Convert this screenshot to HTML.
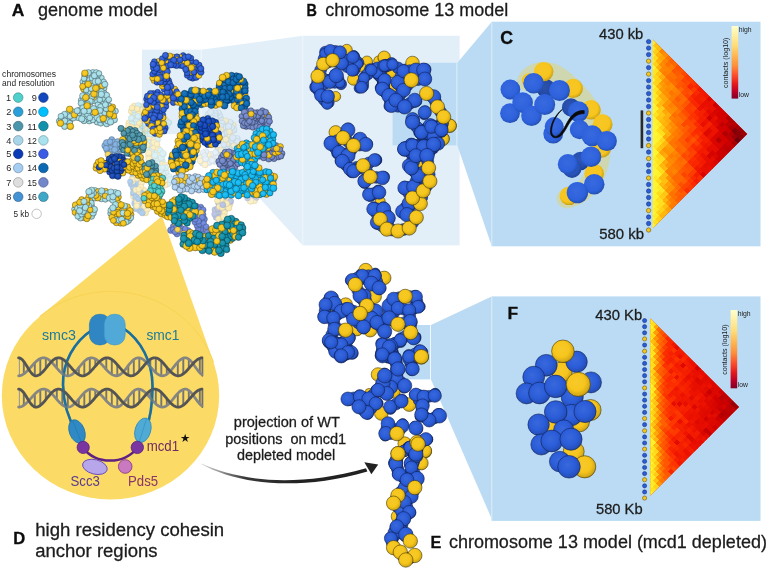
<!DOCTYPE html>
<html lang="en"><head><meta charset="utf-8"><title>Figure</title>
<style>html,body{margin:0;padding:0;background:#fff}svg{display:block;will-change:transform}text{font-family:"Liberation Sans",sans-serif;fill:#262626}#labels text{fill:#1c1c1c;stroke:#1c1c1c;stroke-width:.28px}#labels .b{font-weight:bold;fill:#0c0c0c;stroke:#0c0c0c;stroke-width:.3px}.s0{fill:url(#g0);stroke:#7FA9B3;stroke-width:0.45}.s1{fill:url(#g1);stroke:#B59B3A;stroke-width:0.45}.s2{fill:url(#g2);stroke:#C9B36B;stroke-width:0.45}.s3{fill:url(#g3);stroke:#9DB4C6;stroke-width:0.45}.s4{fill:url(#g4);stroke:#4D6E93;stroke-width:0.45}.s5{fill:url(#g5);stroke:#53618F;stroke-width:0.45}.s6{fill:url(#g6);stroke:#534308;stroke-width:0.45}.s7{fill:url(#g0);stroke:#384B4F;stroke-width:0.45}.s8{fill:url(#g4);stroke:#193048;stroke-width:0.45}.s9{fill:url(#g7);stroke:#07183D;stroke-width:0.45}.s10{fill:url(#g8);stroke:#193239;stroke-width:0.45}.s11{fill:url(#g9);stroke:#1A4645;stroke-width:0.45}.s12{fill:url(#g10);stroke:#0E1F49;stroke-width:0.45}.s13{fill:url(#g11);stroke:#03233D;stroke-width:0.45}.s14{fill:url(#g12);stroke:#061840;stroke-width:0.45}.s15{fill:url(#g13);stroke:#384552;stroke-width:0.45}.s16{fill:url(#g5);stroke:#262E44;stroke-width:0.45}.s17{fill:url(#g14);stroke:#063E52;stroke-width:0.45}.s18{fill:url(#g15);stroke:#17234A;stroke-width:0.45}.s19{fill:url(#g16);stroke:#06313A;stroke-width:0.45}.s20{fill:url(#g17);stroke:#0E1B4D;stroke-width:0.55}.s21{fill:url(#g18);stroke:#3D2F00;stroke-width:0.55}.s22{fill:url(#g19);stroke:#0E1B4D;stroke-width:0.55}.s23{fill:url(#g20);stroke:#0E1B4D;stroke-width:0.55}.s24{fill:url(#g21);stroke:#0E1B4D;stroke-width:0.55}.s25{fill:url(#g22)}.s26{fill:url(#g23)}.s27{fill:url(#g24)}.s28{fill:url(#g25)}.s29{fill:url(#g26)}.s30{fill:url(#g27)}.s31{fill:url(#g28);stroke:#3D2F00;stroke-width:0.55}</style></head>
<body>
<svg width="768" height="570" viewBox="0 0 768 570">
<defs>
<radialGradient id="g0" cx="0.42" cy="0.4" r="0.62" fx="0.42" fy="0.4"><stop offset="0" stop-color="#AEE2EC"/><stop offset="0.6" stop-color="#A6DFEA"/><stop offset="1" stop-color="#8EBFC9"/></radialGradient>
<radialGradient id="g1" cx="0.42" cy="0.4" r="0.62" fx="0.42" fy="0.4"><stop offset="0" stop-color="#F9DF7E"/><stop offset="0.6" stop-color="#F9DC70"/><stop offset="1" stop-color="#D6BD60"/></radialGradient>
<radialGradient id="g2" cx="0.42" cy="0.4" r="0.62" fx="0.42" fy="0.4"><stop offset="0" stop-color="#FBEBAE"/><stop offset="0.6" stop-color="#FBE9A6"/><stop offset="1" stop-color="#D7C88E"/></radialGradient>
<radialGradient id="g3" cx="0.42" cy="0.4" r="0.62" fx="0.42" fy="0.4"><stop offset="0" stop-color="#D3E5F3"/><stop offset="0.6" stop-color="#CFE3F2"/><stop offset="1" stop-color="#B2C3D0"/></radialGradient>
<radialGradient id="g4" cx="0.42" cy="0.4" r="0.62" fx="0.42" fy="0.4"><stop offset="0" stop-color="#5C9ADA"/><stop offset="0.6" stop-color="#4A8FD6"/><stop offset="1" stop-color="#3F7AB8"/></radialGradient>
<radialGradient id="g5" cx="0.42" cy="0.4" r="0.62" fx="0.42" fy="0.4"><stop offset="0" stop-color="#8093CF"/><stop offset="0.6" stop-color="#7288CA"/><stop offset="1" stop-color="#6274AD"/></radialGradient>
<radialGradient id="g6" cx="0.42" cy="0.4" r="0.62" fx="0.42" fy="0.4"><stop offset="0" stop-color="#F6CB30"/><stop offset="0.6" stop-color="#F6C61A"/><stop offset="1" stop-color="#D3AA16"/></radialGradient>
<radialGradient id="g7" cx="0.42" cy="0.4" r="0.62" fx="0.42" fy="0.4"><stop offset="0" stop-color="#2D5ABB"/><stop offset="0.6" stop-color="#1648B4"/><stop offset="1" stop-color="#123D9A"/></radialGradient>
<radialGradient id="g8" cx="0.42" cy="0.4" r="0.62" fx="0.42" fy="0.4"><stop offset="0" stop-color="#5DA0B2"/><stop offset="0.6" stop-color="#4B96AA"/><stop offset="1" stop-color="#408192"/></radialGradient>
<radialGradient id="g9" cx="0.42" cy="0.4" r="0.62" fx="0.42" fy="0.4"><stop offset="0" stop-color="#60D4D0"/><stop offset="0.6" stop-color="#4FD0CB"/><stop offset="1" stop-color="#43B2AE"/></radialGradient>
<radialGradient id="g10" cx="0.42" cy="0.4" r="0.62" fx="0.42" fy="0.4"><stop offset="0" stop-color="#406DDC"/><stop offset="0.6" stop-color="#2B5DD9"/><stop offset="1" stop-color="#244FBA"/></radialGradient>
<radialGradient id="g11" cx="0.42" cy="0.4" r="0.62" fx="0.42" fy="0.4"><stop offset="0" stop-color="#2378BB"/><stop offset="0.6" stop-color="#0B69B4"/><stop offset="1" stop-color="#095A9A"/></radialGradient>
<radialGradient id="g12" cx="0.42" cy="0.4" r="0.62" fx="0.42" fy="0.4"><stop offset="0" stop-color="#2959C3"/><stop offset="0.6" stop-color="#1247BD"/><stop offset="1" stop-color="#0F3DA2"/></radialGradient>
<radialGradient id="g13" cx="0.42" cy="0.4" r="0.62" fx="0.42" fy="0.4"><stop offset="0" stop-color="#AED2F3"/><stop offset="0.6" stop-color="#A5CDF2"/><stop offset="1" stop-color="#8DB0D0"/></radialGradient>
<radialGradient id="g14" cx="0.42" cy="0.4" r="0.62" fx="0.42" fy="0.4"><stop offset="0" stop-color="#29C0F3"/><stop offset="0.6" stop-color="#12B9F2"/><stop offset="1" stop-color="#0F9FD0"/></radialGradient>
<radialGradient id="g15" cx="0.42" cy="0.4" r="0.62" fx="0.42" fy="0.4"><stop offset="0" stop-color="#5877DD"/><stop offset="0.6" stop-color="#4668DA"/><stop offset="1" stop-color="#3C59BB"/></radialGradient>
<radialGradient id="g16" cx="0.42" cy="0.4" r="0.62" fx="0.42" fy="0.4"><stop offset="0" stop-color="#299CB3"/><stop offset="0.6" stop-color="#1291AB"/><stop offset="1" stop-color="#0F7C93"/></radialGradient>
<radialGradient id="g17" cx="0.43" cy="0.41" r="0.62" fx="0.43" fy="0.41"><stop offset="0" stop-color="#3156B2"/><stop offset="0.55" stop-color="#224AAD"/><stop offset="0.86" stop-color="#1D4096"/><stop offset="1" stop-color="#173379"/></radialGradient>
<radialGradient id="g18" cx="0.43" cy="0.41" r="0.62" fx="0.43" fy="0.41"><stop offset="0" stop-color="#F6C92A"/><stop offset="0.55" stop-color="#F6C61A"/><stop offset="0.86" stop-color="#D6AC16"/><stop offset="1" stop-color="#AC8A12"/></radialGradient>
<radialGradient id="g19" cx="0.43" cy="0.41" r="0.62" fx="0.43" fy="0.41"><stop offset="0" stop-color="#355FC7"/><stop offset="0.55" stop-color="#2653C3"/><stop offset="0.86" stop-color="#2148A9"/><stop offset="1" stop-color="#1A3A88"/></radialGradient>
<radialGradient id="g20" cx="0.43" cy="0.41" r="0.62" fx="0.43" fy="0.41"><stop offset="0" stop-color="#3762CE"/><stop offset="0.55" stop-color="#2857CB"/><stop offset="0.86" stop-color="#224BB0"/><stop offset="1" stop-color="#1C3C8E"/></radialGradient>
<radialGradient id="g21" cx="0.43" cy="0.41" r="0.62" fx="0.43" fy="0.41"><stop offset="0" stop-color="#3968DB"/><stop offset="0.55" stop-color="#2B5DD9"/><stop offset="0.86" stop-color="#2550BC"/><stop offset="1" stop-color="#1E4197"/></radialGradient>
<radialGradient id="g22" cx="0.44" cy="0.42" r="0.62" fx="0.44" fy="0.42"><stop offset="0" stop-color="#F7C727"/><stop offset="0.66" stop-color="#F7C51C"/><stop offset="0.88" stop-color="#D4A918"/><stop offset="1" stop-color="#AC8913"/></radialGradient>
<radialGradient id="g23" cx="0.44" cy="0.42" r="0.62" fx="0.44" fy="0.42"><stop offset="0" stop-color="#2D52A9"/><stop offset="0.66" stop-color="#2249A5"/><stop offset="0.88" stop-color="#1D3E8D"/><stop offset="1" stop-color="#173373"/></radialGradient>
<radialGradient id="g24" cx="0.44" cy="0.42" r="0.62" fx="0.44" fy="0.42"><stop offset="0" stop-color="#2E54B0"/><stop offset="0.66" stop-color="#234CAC"/><stop offset="0.88" stop-color="#1E4193"/><stop offset="1" stop-color="#183578"/></radialGradient>
<radialGradient id="g25" cx="0.44" cy="0.42" r="0.62" fx="0.44" fy="0.42"><stop offset="0" stop-color="#2E56B3"/><stop offset="0.66" stop-color="#244EB0"/><stop offset="0.88" stop-color="#1E4397"/><stop offset="1" stop-color="#19367B"/></radialGradient>
<radialGradient id="g26" cx="0.44" cy="0.42" r="0.62" fx="0.44" fy="0.42"><stop offset="0" stop-color="#315BBE"/><stop offset="0.66" stop-color="#2753BB"/><stop offset="0.88" stop-color="#2147A0"/><stop offset="1" stop-color="#1B3A82"/></radialGradient>
<radialGradient id="g27" cx="0.44" cy="0.42" r="0.62" fx="0.44" fy="0.42"><stop offset="0" stop-color="#3869DE"/><stop offset="0.66" stop-color="#2E62DD"/><stop offset="0.88" stop-color="#2754BE"/><stop offset="1" stop-color="#20449A"/></radialGradient>
<linearGradient id="cbC" x1="0" y1="0" x2="0" y2="1"><stop offset="0" stop-color="#FFFFCC"/><stop offset="0.12" stop-color="#FFF0A6"/><stop offset="0.27" stop-color="#FEDC7A"/><stop offset="0.42" stop-color="#FEB450"/><stop offset="0.55" stop-color="#FD8E3C"/><stop offset="0.68" stop-color="#FC4E2A"/><stop offset="0.8" stop-color="#E31A1C"/><stop offset="0.9" stop-color="#BD0026"/><stop offset="1" stop-color="#800026"/></linearGradient>
<radialGradient id="g28" cx="0.43" cy="0.41" r="0.62" fx="0.43" fy="0.41"><stop offset="0" stop-color="#F7C92B"/><stop offset="0.55" stop-color="#F7C51C"/><stop offset="0.86" stop-color="#D6AB18"/><stop offset="1" stop-color="#AC8913"/></radialGradient>
<linearGradient id="cbF" x1="0" y1="0" x2="0" y2="1"><stop offset="0" stop-color="#FFFFCC"/><stop offset="0.12" stop-color="#FFF0A6"/><stop offset="0.27" stop-color="#FEDC7A"/><stop offset="0.42" stop-color="#FEB450"/><stop offset="0.55" stop-color="#FD8E3C"/><stop offset="0.68" stop-color="#FC4E2A"/><stop offset="0.8" stop-color="#E31A1C"/><stop offset="0.9" stop-color="#BD0026"/><stop offset="1" stop-color="#800026"/></linearGradient>
<linearGradient id="arw" gradientUnits="userSpaceOnUse" x1="200" y1="0" x2="300" y2="0"><stop offset="0" stop-color="#222" stop-opacity="0.15"/><stop offset="0.45" stop-color="#222" stop-opacity="0.9"/><stop offset="1" stop-color="#222"/></linearGradient>
</defs>
<rect width="768" height="570" fill="#fff"/>
<g id="panels">
<rect x="142" y="49.7" width="59.2" height="84.5" fill="#E2EFF9"/>
<polygon points="201.2,49.7 302.8,35.8 302.8,245.4 201.2,134.2" fill="#E2EFF9"/>
<rect x="302.8" y="35.8" width="156.8" height="209.6" fill="#E2EFF9"/>
<path d="M201.2,49.7V134.2M302.8,35.8V245.4" stroke="#F1F7FC" stroke-width="0.9" fill="none"/>
<rect x="392.6" y="62.8" width="63.8" height="82.6" fill="#BADBF3"/>
<polygon points="457.4,62.8 491.8,21.7 491.8,246.3 457.4,145.4" fill="#BADBF3"/>
<rect x="491.8" y="21.7" width="268.7" height="224.6" fill="#BADBF3"/>
<path d="M491.8,21.7V246.3" stroke="#D9EAF8" stroke-width="1.1" fill="none"/>
<rect x="398.5" y="325" width="31.7" height="54.4" fill="#BADBF3"/>
<polygon points="431,325 491.6,296.4 491.6,518.5 431,379.4" fill="#BADBF3"/>
<rect x="491.6" y="296.4" width="268.9" height="224.5" fill="#BADBF3"/>
<path d="M491.8,296.4V520.9" stroke="#D9EAF8" stroke-width="1.1" fill="none"/>
<polygon points="162,216 39.6,316.6 110,395 213.5,362.3" fill="#FBDB66"/>
<ellipse cx="110.5" cy="395.5" rx="108.7" ry="104" fill="#FBDB66"/>
<path d="M39.6,316.6 A108.7,104 0 0 1 213.5,362.3" stroke="#F8D452" stroke-width="1" fill="none"/>
</g>
<g id="genome">
<g opacity="0.42"><circle class="s0" cx="156.4" cy="151.4" r="2.9"/><circle class="s0" cx="152.7" cy="126.4" r="3.2"/><circle class="s1" cx="163.9" cy="170.4" r="2.8"/><circle class="s0" cx="164.1" cy="123.8" r="3.2"/><circle class="s0" cx="161.3" cy="180.5" r="3.2"/><circle class="s0" cx="150.6" cy="148.2" r="3.3"/><circle class="s0" cx="151.9" cy="150.9" r="3"/><circle class="s1" cx="153.7" cy="147.2" r="3"/><circle class="s0" cx="155.7" cy="136" r="3.2"/><circle class="s1" cx="150.8" cy="140.1" r="3.2"/><circle class="s0" cx="152.9" cy="122.3" r="3.3"/><circle class="s0" cx="150" cy="143.5" r="3.2"/><circle class="s0" cx="156.9" cy="158.1" r="3.1"/><circle class="s1" cx="148.1" cy="124.5" r="3.2"/><circle class="s1" cx="144.8" cy="123.6" r="3.2"/><circle class="s0" cx="170.6" cy="182.3" r="2.8"/><circle class="s0" cx="152.2" cy="154.3" r="3.1"/><circle class="s1" cx="153.3" cy="138.7" r="3.1"/><circle class="s1" cx="152.1" cy="158.8" r="2.9"/><circle class="s0" cx="168.1" cy="184.1" r="2.9"/><circle class="s0" cx="165.3" cy="176" r="3"/><circle class="s0" cx="154.7" cy="160.2" r="2.9"/><circle class="s1" cx="156.1" cy="167.3" r="3.2"/><circle class="s0" cx="157.6" cy="139.7" r="2.9"/><circle class="s0" cx="159" cy="173.2" r="3.2"/><circle class="s1" cx="158.2" cy="148.6" r="2.9"/><circle class="s0" cx="159" cy="121.8" r="2.9"/><circle class="s0" cx="148.3" cy="131.5" r="2.9"/><circle class="s1" cx="147.5" cy="121.2" r="3"/><circle class="s0" cx="162.5" cy="128.8" r="2.9"/><circle class="s0" cx="161" cy="125.9" r="2.9"/><circle class="s0" cx="162.3" cy="161.3" r="3.1"/><circle class="s0" cx="158.1" cy="160.6" r="2.9"/><circle class="s1" cx="165.4" cy="180.4" r="2.9"/><circle class="s0" cx="166.3" cy="172.7" r="3"/><circle class="s1" cx="161.8" cy="164.3" r="2.9"/><circle class="s0" cx="146.6" cy="148.4" r="3.2"/><circle class="s1" cx="157" cy="128.3" r="3"/><circle class="s0" cx="163.2" cy="120.6" r="2.8"/><circle class="s1" cx="164.9" cy="185.1" r="3.1"/><circle class="s1" cx="144.4" cy="145.4" r="3.1"/><circle class="s0" cx="150.7" cy="120.2" r="2.9"/><circle class="s1" cx="143.2" cy="128.6" r="2.9"/><circle class="s0" cx="146.3" cy="138.6" r="2.9"/><circle class="s1" cx="148.6" cy="156.2" r="3"/><circle class="s0" cx="169.3" cy="176.7" r="3"/><circle class="s1" cx="153.9" cy="142.6" r="3"/><circle class="s1" cx="144" cy="140.7" r="3.1"/><circle class="s0" cx="170.1" cy="179.6" r="3.1"/><circle class="s0" cx="160.4" cy="150.5" r="2.9"/><circle class="s1" cx="145" cy="131" r="3"/><circle class="s0" cx="154.2" cy="128.9" r="3.3"/><circle class="s1" cx="161.9" cy="183.8" r="3.2"/><circle class="s1" cx="149.5" cy="137.3" r="2.9"/><circle class="s0" cx="152.9" cy="134.3" r="3.2"/><circle class="s0" cx="156.4" cy="125.1" r="2.9"/><circle class="s1" cx="158.6" cy="155.8" r="3.2"/><circle class="s0" cx="161.3" cy="157.7" r="3.2"/><circle class="s1" cx="157" cy="144.3" r="2.9"/><circle class="s1" cx="160" cy="118.4" r="3"/><circle class="s0" cx="163.3" cy="173.9" r="2.9"/><circle class="s0" cx="158.8" cy="168.1" r="2.9"/><circle class="s0" cx="157.1" cy="163.4" r="3"/><circle class="s0" cx="147.4" cy="142.4" r="3.3"/><circle class="s1" cx="152.3" cy="131.1" r="3.1"/><circle class="s0" cx="155.1" cy="155.6" r="3.2"/><circle class="s1" cx="149" cy="159" r="3.2"/><circle class="s0" cx="142.8" cy="125.9" r="3.3"/><circle class="s1" cx="164.3" cy="117.7" r="2.9"/><circle class="s1" cx="166.3" cy="120.7" r="2.8"/><circle class="s0" cx="151.7" cy="161.9" r="2.9"/><circle class="s0" cx="145.6" cy="133.8" r="3.1"/><circle class="s1" cx="160.7" cy="176.6" r="3.2"/><circle class="s0" cx="168.9" cy="122.6" r="2.9"/><circle class="s0" cx="150.9" cy="124.2" r="2.9"/><circle class="s1" cx="147.2" cy="128.9" r="3"/><circle class="s0" cx="156.3" cy="132.4" r="2.9"/><circle class="s0" cx="154.4" cy="163.2" r="2.9"/><circle class="s1" cx="148.7" cy="153" r="3.2"/><circle class="s0" cx="163.1" cy="153.7" r="3.3"/><circle class="s1" cx="147.4" cy="145.2" r="2.8"/><circle class="s1" cx="164.7" cy="165" r="2.8"/><circle class="s0" cx="165.7" cy="167.7" r="3.1"/><circle class="s0" cx="157" cy="170.2" r="2.9"/><circle class="s0" cx="160.7" cy="170.3" r="3.2"/><circle class="s0" cx="166.5" cy="127.2" r="2.9"/><circle class="s0" cx="150.1" cy="129.2" r="2.9"/><circle class="s0" cx="162.6" cy="167.6" r="2.9"/><circle class="s0" cx="150.2" cy="133.9" r="3.2"/></g>
<g opacity="0.5"><circle class="s2" cx="232.3" cy="149.9" r="2.9"/><circle class="s3" cx="211.4" cy="121.3" r="3"/><circle class="s3" cx="231.3" cy="147.2" r="3.2"/><circle class="s3" cx="212.7" cy="157.6" r="3.3"/><circle class="s3" cx="220.4" cy="118.6" r="3.3"/><circle class="s3" cx="219.7" cy="115.5" r="3"/><circle class="s2" cx="233.1" cy="125.1" r="3.2"/><circle class="s3" cx="215.1" cy="161.2" r="3.2"/><circle class="s2" cx="225.1" cy="129.7" r="3.2"/><circle class="s2" cx="214.2" cy="123.7" r="3.2"/><circle class="s3" cx="212.4" cy="114.6" r="3"/><circle class="s2" cx="209" cy="123.5" r="2.9"/><circle class="s3" cx="201.8" cy="155.6" r="2.8"/><circle class="s3" cx="235.2" cy="148.3" r="2.9"/><circle class="s3" cx="218" cy="160.3" r="3"/><circle class="s2" cx="200.5" cy="158" r="3"/><circle class="s3" cx="230.1" cy="122.7" r="3.3"/><circle class="s3" cx="203" cy="160.2" r="3.2"/><circle class="s3" cx="234.3" cy="142.8" r="3"/><circle class="s3" cx="219.7" cy="163.4" r="2.8"/><circle class="s3" cx="229.5" cy="142.7" r="3.3"/><circle class="s2" cx="217.8" cy="122.2" r="3.3"/><circle class="s3" cx="233.7" cy="129.9" r="3.3"/><circle class="s3" cx="225.3" cy="124.1" r="2.9"/><circle class="s2" cx="223.5" cy="141.6" r="3.2"/><circle class="s2" cx="226.9" cy="144.1" r="3.3"/><circle class="s2" cx="225.7" cy="121" r="3.1"/><circle class="s3" cx="220.6" cy="158.4" r="3"/><circle class="s2" cx="229" cy="138.8" r="3.1"/><circle class="s3" cx="218.5" cy="112.6" r="2.8"/><circle class="s3" cx="223.4" cy="131.8" r="3"/><circle class="s3" cx="220.4" cy="154" r="3.1"/><circle class="s3" cx="231.5" cy="127.6" r="3.2"/><circle class="s2" cx="227.7" cy="136.1" r="3"/><circle class="s3" cx="226.1" cy="149" r="3.1"/><circle class="s3" cx="215.4" cy="155.7" r="3.1"/><circle class="s2" cx="210.1" cy="116.3" r="2.9"/><circle class="s3" cx="215.3" cy="113.3" r="3.1"/><circle class="s2" cx="205.3" cy="161.8" r="3"/><circle class="s3" cx="237.1" cy="138.6" r="3.2"/><circle class="s2" cx="206.4" cy="117.5" r="2.9"/><circle class="s3" cx="222.2" cy="123.3" r="3.1"/><circle class="s3" cx="231.7" cy="140.6" r="3.2"/><circle class="s3" cx="206.1" cy="120.3" r="3"/><circle class="s3" cx="202.3" cy="162.9" r="3.1"/><circle class="s3" cx="226.6" cy="133.3" r="3"/><circle class="s3" cx="208.1" cy="114.1" r="2.8"/><circle class="s2" cx="226.4" cy="160.9" r="3.1"/><circle class="s2" cx="209.5" cy="157.9" r="3.2"/><circle class="s3" cx="210.9" cy="112.3" r="3.3"/><circle class="s3" cx="218.4" cy="156.6" r="3.3"/><circle class="s3" cx="237.2" cy="146.1" r="3.2"/><circle class="s3" cx="209.3" cy="162.7" r="2.8"/><circle class="s3" cx="237.4" cy="141.6" r="3.1"/><circle class="s3" cx="223.2" cy="127.6" r="3.2"/><circle class="s2" cx="220.2" cy="132.8" r="3"/><circle class="s3" cx="211.3" cy="154.2" r="3"/><circle class="s2" cx="217.9" cy="150.3" r="3"/><circle class="s3" cx="224" cy="144.8" r="3"/><circle class="s2" cx="225.9" cy="139.5" r="3.1"/><circle class="s3" cx="220.8" cy="126.1" r="3"/><circle class="s2" cx="220.9" cy="129.9" r="3"/><circle class="s3" cx="224" cy="156" r="3.1"/><circle class="s2" cx="216.4" cy="125.5" r="3.2"/><circle class="s2" cx="227.5" cy="152.4" r="3.1"/><circle class="s3" cx="209.2" cy="119.6" r="3.2"/><circle class="s2" cx="208.2" cy="154.4" r="3.1"/><circle class="s3" cx="215" cy="116.2" r="3.1"/><circle class="s3" cx="212.3" cy="160.6" r="3.1"/><circle class="s3" cx="228.7" cy="126.6" r="3.2"/><circle class="s2" cx="230.4" cy="135.1" r="3.1"/><circle class="s3" cx="205.8" cy="151.8" r="3.1"/><circle class="s2" cx="229.5" cy="131.9" r="2.9"/><circle class="s2" cx="233.8" cy="145.6" r="2.8"/><circle class="s3" cx="213.4" cy="126.4" r="3.2"/><circle class="s2" cx="200.3" cy="161" r="3"/><circle class="s3" cx="223.9" cy="151" r="3.1"/><circle class="s3" cx="203" cy="152.7" r="2.8"/><circle class="s3" cx="212.8" cy="118.3" r="3.2"/><circle class="s3" cx="215.6" cy="119.1" r="3.2"/><circle class="s3" cx="204.7" cy="155.6" r="2.8"/><circle class="s3" cx="226.9" cy="155.1" r="3.1"/><circle class="s3" cx="205.7" cy="159" r="3.1"/><circle class="s2" cx="220.8" cy="150" r="2.9"/><circle class="s2" cx="218.4" cy="128.5" r="2.9"/><circle class="s3" cx="222.4" cy="134.8" r="2.9"/><circle class="s3" cx="232.9" cy="137.9" r="3.3"/><circle class="s2" cx="228.5" cy="157.7" r="3.2"/><circle class="s3" cx="229.1" cy="150.1" r="3.2"/><circle class="s2" cx="205" cy="164.8" r="3.1"/><circle class="s3" cx="223" cy="161.3" r="3"/><circle class="s3" cx="215.7" cy="152.5" r="3.1"/></g>
<g opacity="0.45"><circle class="s4" cx="131.6" cy="184.3" r="3.3"/><circle class="s1" cx="143.7" cy="190" r="3"/><circle class="s1" cx="135.9" cy="194.4" r="3"/><circle class="s4" cx="139.8" cy="210.9" r="2.8"/><circle class="s1" cx="134.9" cy="182.4" r="2.9"/><circle class="s4" cx="133" cy="177.1" r="3.2"/><circle class="s4" cx="140.2" cy="178" r="3.2"/><circle class="s1" cx="134.6" cy="200.2" r="2.8"/><circle class="s4" cx="135.5" cy="186.4" r="2.9"/><circle class="s4" cx="144.1" cy="198.4" r="3.1"/><circle class="s4" cx="142.6" cy="194.2" r="3.3"/><circle class="s1" cx="139.5" cy="181" r="2.8"/><circle class="s4" cx="144.6" cy="210" r="3.2"/><circle class="s1" cx="140.1" cy="196.6" r="2.8"/><circle class="s4" cx="140.7" cy="192.1" r="2.8"/><circle class="s1" cx="145.5" cy="212.7" r="3.2"/><circle class="s4" cx="140.3" cy="207.2" r="3"/><circle class="s1" cx="142" cy="204.8" r="3"/><circle class="s4" cx="142.4" cy="213" r="3"/><circle class="s1" cx="137.8" cy="192.4" r="3"/><circle class="s4" cx="133.2" cy="188.3" r="2.9"/><circle class="s1" cx="133.5" cy="196" r="3.3"/><circle class="s4" cx="138.4" cy="183.5" r="3.3"/><circle class="s1" cx="147.1" cy="205.5" r="2.8"/><circle class="s4" cx="140.3" cy="201.1" r="3.1"/><circle class="s4" cx="133.5" cy="192.9" r="3.2"/><circle class="s1" cx="136.5" cy="178.2" r="3.2"/><circle class="s1" cx="132.1" cy="179.7" r="3.1"/><circle class="s4" cx="146.5" cy="200.9" r="2.9"/><circle class="s1" cx="136" cy="190" r="3"/><circle class="s1" cx="145" cy="195.6" r="3"/><circle class="s4" cx="144.1" cy="202.9" r="3.2"/><circle class="s1" cx="141.6" cy="182.9" r="2.9"/><circle class="s1" cx="140.9" cy="187.1" r="3"/><circle class="s4" cx="136" cy="197.3" r="3.3"/><circle class="s4" cx="139.2" cy="203.9" r="2.9"/><circle class="s1" cx="147.3" cy="208.9" r="3.2"/><circle class="s4" cx="136.1" cy="208.7" r="3.1"/><circle class="s4" cx="134.9" cy="203.5" r="3.2"/><circle class="s1" cx="137.1" cy="201.8" r="3.1"/><circle class="s1" cx="138.7" cy="189.3" r="2.8"/><circle class="s4" cx="138.2" cy="198.9" r="2.8"/><circle class="s1" cx="144.5" cy="206.2" r="3"/><circle class="s1" cx="136.8" cy="205.9" r="3"/><circle class="s4" cx="130.2" cy="181.8" r="2.8"/></g>
<g opacity="0.5"><circle class="s5" cx="215" cy="209.7" r="3"/><circle class="s1" cx="229.8" cy="204.7" r="2.9"/><circle class="s1" cx="225.4" cy="199.7" r="3.2"/><circle class="s1" cx="223.5" cy="202" r="2.9"/><circle class="s5" cx="226.3" cy="206.7" r="3"/><circle class="s5" cx="219.1" cy="214.2" r="3.3"/><circle class="s1" cx="228.2" cy="199.8" r="3.1"/><circle class="s5" cx="219.9" cy="197.5" r="3.2"/><circle class="s5" cx="224.4" cy="209.7" r="3.3"/><circle class="s5" cx="218.9" cy="203.3" r="3.3"/><circle class="s1" cx="228.8" cy="208" r="3.1"/><circle class="s5" cx="220.9" cy="216.8" r="3.1"/><circle class="s5" cx="216.1" cy="217.3" r="3"/><circle class="s1" cx="216.5" cy="212.1" r="2.8"/><circle class="s5" cx="214.7" cy="214.2" r="3"/><circle class="s5" cx="221.6" cy="212.1" r="3.3"/><circle class="s5" cx="230.6" cy="201.4" r="3.1"/><circle class="s5" cx="217.7" cy="209" r="3.1"/><circle class="s1" cx="219.4" cy="206.8" r="2.9"/><circle class="s1" cx="222.2" cy="207.7" r="3"/><circle class="s1" cx="226.7" cy="203.6" r="3"/><circle class="s5" cx="224.5" cy="196.4" r="3.3"/><circle class="s1" cx="221" cy="200.2" r="3.2"/><circle class="s1" cx="224.6" cy="212.8" r="2.8"/><circle class="s5" cx="222.8" cy="204.8" r="3"/><circle class="s1" cx="218.5" cy="218.9" r="2.8"/><circle class="s1" cx="223.8" cy="216.9" r="3.3"/><circle class="s1" cx="217.5" cy="200.5" r="3.1"/></g>
<g opacity="0.4"><circle class="s5" cx="246.4" cy="194.8" r="2.9"/><circle class="s5" cx="253.7" cy="198" r="2.9"/><circle class="s1" cx="254.5" cy="200.7" r="3.1"/><circle class="s1" cx="249.1" cy="193.7" r="3"/><circle class="s5" cx="256.5" cy="197.6" r="2.9"/><circle class="s5" cx="253" cy="195" r="3.2"/><circle class="s5" cx="251.1" cy="197.1" r="2.9"/><circle class="s5" cx="250.3" cy="190.8" r="3.1"/><circle class="s1" cx="256.1" cy="192.6" r="3.1"/><circle class="s1" cx="250.5" cy="201.1" r="3.3"/><circle class="s5" cx="247.5" cy="198.2" r="2.8"/><circle class="s1" cx="257.9" cy="195" r="3.1"/><circle class="s5" cx="253.6" cy="191.2" r="3"/></g>
<g opacity="0.5"><circle class="s1" cx="139.4" cy="137.3" r="3"/><circle class="s1" cx="128.9" cy="122.9" r="3"/><circle class="s0" cx="136" cy="118.2" r="2.9"/><circle class="s0" cx="140" cy="126.5" r="3.3"/><circle class="s0" cx="133" cy="120.8" r="3.2"/><circle class="s1" cx="139.6" cy="120.7" r="3.1"/><circle class="s0" cx="136.5" cy="121.1" r="3.3"/><circle class="s0" cx="134.2" cy="135.6" r="3"/><circle class="s1" cx="133.4" cy="115.3" r="3.1"/><circle class="s1" cx="141" cy="106.5" r="3"/><circle class="s0" cx="142.3" cy="140.4" r="3.1"/><circle class="s1" cx="131.5" cy="111.2" r="3.2"/><circle class="s0" cx="135.4" cy="113.1" r="3.2"/><circle class="s0" cx="135.3" cy="124.2" r="2.9"/><circle class="s1" cx="139.6" cy="123.6" r="3.1"/><circle class="s1" cx="142.5" cy="136.9" r="2.8"/><circle class="s0" cx="140.7" cy="112.5" r="3.2"/><circle class="s0" cx="131.5" cy="124" r="3.2"/><circle class="s1" cx="141.1" cy="109.7" r="3.2"/><circle class="s1" cx="134.4" cy="128.7" r="3.1"/><circle class="s1" cx="131.9" cy="130" r="2.9"/><circle class="s0" cx="133.9" cy="138.6" r="2.8"/><circle class="s1" cx="138.2" cy="113.6" r="3.2"/><circle class="s1" cx="137.5" cy="135.2" r="3.1"/><circle class="s0" cx="134.5" cy="109.9" r="3.2"/><circle class="s0" cx="137.3" cy="131.4" r="3"/><circle class="s1" cx="128.7" cy="126" r="3.1"/><circle class="s1" cx="134.6" cy="106.2" r="3.2"/><circle class="s0" cx="138.3" cy="105.8" r="3.2"/><circle class="s1" cx="131.5" cy="127.2" r="3"/><circle class="s1" cx="142.4" cy="134.1" r="2.9"/><circle class="s1" cx="138.8" cy="140.3" r="3"/><circle class="s1" cx="137" cy="127.5" r="2.8"/><circle class="s0" cx="134.5" cy="132.5" r="2.8"/><circle class="s1" cx="137.2" cy="108.9" r="3"/><circle class="s0" cx="138.2" cy="116.4" r="3"/><circle class="s0" cx="140.1" cy="130.7" r="3"/><circle class="s0" cx="136" cy="140.9" r="2.9"/><circle class="s1" cx="132.1" cy="108" r="2.9"/><circle class="s0" cx="131.4" cy="118.2" r="3.1"/></g>
<circle class="s6" cx="86.8" cy="77" r="3.1"/><circle class="s7" cx="82.7" cy="81.8" r="2.8"/><circle class="s7" cx="96" cy="114.9" r="2.8"/><circle class="s7" cx="99.8" cy="88.3" r="3.2"/><circle class="s7" cx="85.8" cy="81.1" r="3.1"/><circle class="s6" cx="106.4" cy="98.1" r="2.9"/><circle class="s7" cx="89.3" cy="120.8" r="3.2"/><circle class="s7" cx="70" cy="119.9" r="3.1"/><circle class="s7" cx="59.3" cy="121.1" r="3"/><circle class="s7" cx="78.2" cy="117.6" r="3.1"/><circle class="s7" cx="109.3" cy="106.1" r="3.1"/><circle class="s7" cx="97.6" cy="86.5" r="3.2"/><circle class="s7" cx="100.1" cy="83.6" r="2.8"/><circle class="s6" cx="98.1" cy="92.8" r="3.1"/><circle class="s7" cx="94.2" cy="100.7" r="3"/><circle class="s7" cx="93.3" cy="116.4" r="3.1"/><circle class="s7" cx="102.1" cy="104.5" r="3.2"/><circle class="s7" cx="92.8" cy="72.4" r="2.9"/><circle class="s7" cx="109.2" cy="109.3" r="2.9"/><circle class="s7" cx="111.2" cy="115.2" r="3.2"/><circle class="s7" cx="85.1" cy="83.9" r="3"/><circle class="s6" cx="103.6" cy="110.2" r="3.1"/><circle class="s7" cx="67.7" cy="113.6" r="3.2"/><circle class="s6" cx="89.9" cy="86.1" r="3.1"/><circle class="s7" cx="101.1" cy="80.9" r="3.1"/><circle class="s7" cx="81.3" cy="100.2" r="3"/><circle class="s7" cx="90.2" cy="75.4" r="3.3"/><circle class="s7" cx="84.8" cy="101.9" r="2.9"/><circle class="s7" cx="101.4" cy="77.9" r="2.9"/><circle class="s7" cx="90.2" cy="106.6" r="3"/><circle class="s7" cx="83.1" cy="115.2" r="2.8"/><circle class="s7" cx="87.3" cy="100.4" r="3"/><circle class="s6" cx="95.4" cy="97.8" r="2.8"/><circle class="s7" cx="96.8" cy="90.3" r="3.1"/><circle class="s7" cx="61.7" cy="119.4" r="3.3"/><circle class="s7" cx="62" cy="122.9" r="3.2"/><circle class="s7" cx="73.2" cy="117.8" r="3.3"/><circle class="s7" cx="87.8" cy="83" r="3.1"/><circle class="s7" cx="108" cy="115.4" r="2.8"/><circle class="s7" cx="109.2" cy="118" r="3"/><circle class="s7" cx="105.8" cy="118.2" r="2.9"/><circle class="s7" cx="79.3" cy="112.8" r="3"/><circle class="s7" cx="97.1" cy="122.2" r="2.9"/><circle class="s7" cx="103.6" cy="116.6" r="3.1"/><circle class="s7" cx="83.7" cy="98.8" r="3.1"/><circle class="s7" cx="100.8" cy="123.1" r="3.1"/><circle class="s7" cx="102.8" cy="101.2" r="3.2"/><circle class="s7" cx="79.9" cy="110.1" r="3.2"/><circle class="s7" cx="96.3" cy="72.6" r="3"/><circle class="s7" cx="97.5" cy="101.5" r="2.9"/><circle class="s7" cx="86.8" cy="107.1" r="2.8"/><circle class="s7" cx="84.2" cy="105.1" r="3"/><circle class="s7" cx="67.4" cy="125" r="3"/><circle class="s7" cx="91" cy="91.8" r="3.1"/><circle class="s7" cx="85.7" cy="93.7" r="2.9"/><circle class="s7" cx="115.3" cy="111.1" r="3.1"/><circle class="s7" cx="103.2" cy="98.2" r="3.2"/><circle class="s7" cx="72" cy="111.4" r="3"/><circle class="s7" cx="88.5" cy="93.1" r="2.9"/><circle class="s7" cx="104" cy="88.2" r="3"/><circle class="s7" cx="104.7" cy="121.4" r="3.2"/><circle class="s7" cx="104.3" cy="93.8" r="3.3"/><circle class="s7" cx="89.8" cy="79.9" r="3.1"/><circle class="s7" cx="91.3" cy="82.5" r="2.9"/><circle class="s7" cx="91.7" cy="96.8" r="3.2"/><circle class="s7" cx="97.2" cy="76.1" r="3"/><circle class="s7" cx="92.2" cy="78.2" r="2.9"/><circle class="s7" cx="86.9" cy="118.9" r="2.8"/><circle class="s7" cx="96.4" cy="79" r="2.9"/><circle class="s7" cx="101.4" cy="91.4" r="2.8"/><circle class="s7" cx="82.8" cy="95.8" r="3.2"/><circle class="s6" cx="102.4" cy="85.5" r="3.3"/><circle class="s7" cx="98.1" cy="104.8" r="3"/><circle class="s7" cx="104.3" cy="113.2" r="2.9"/><circle class="s7" cx="106.7" cy="102.1" r="2.8"/><circle class="s7" cx="102.3" cy="119.6" r="2.9"/><circle class="s7" cx="99.4" cy="96.5" r="2.8"/><circle class="s7" cx="66.2" cy="118.1" r="3.3"/><circle class="s7" cx="64.6" cy="126.4" r="3.1"/><circle class="s7" cx="109.5" cy="112.2" r="2.9"/><circle class="s7" cx="92.9" cy="120" r="2.9"/><circle class="s7" cx="92.1" cy="111.9" r="2.9"/><circle class="s7" cx="84" cy="120.9" r="2.9"/><circle class="s7" cx="106.2" cy="108.4" r="3.3"/><circle class="s7" cx="100.9" cy="107.1" r="3.3"/><circle class="s7" cx="96.4" cy="110" r="3.2"/><circle class="s6" cx="83.5" cy="89.2" r="2.9"/><circle class="s7" cx="106.6" cy="95.3" r="3.1"/><circle class="s7" cx="67.4" cy="121.5" r="3"/><circle class="s7" cx="87.7" cy="114.3" r="3.2"/><circle class="s7" cx="93.4" cy="85.9" r="3"/><circle class="s7" cx="81.2" cy="103.2" r="3.1"/><circle class="s7" cx="94.3" cy="88.9" r="3.2"/><circle class="s7" cx="81.8" cy="118.9" r="3.2"/><circle class="s7" cx="114.2" cy="119.7" r="3.3"/><circle class="s7" cx="70" cy="116.4" r="2.9"/><circle class="s7" cx="85.9" cy="87" r="2.9"/><circle class="s7" cx="93.6" cy="108.8" r="3.2"/><circle class="s7" cx="86.2" cy="90" r="2.9"/><circle class="s7" cx="82.9" cy="107.9" r="3.1"/><circle class="s7" cx="88.6" cy="110.8" r="3.1"/><circle class="s6" cx="74.4" cy="114.8" r="3.2"/><circle class="s7" cx="84.5" cy="75.3" r="2.8"/><circle class="s7" cx="99.8" cy="99.8" r="2.9"/><circle class="s7" cx="84" cy="78.6" r="2.8"/><circle class="s7" cx="64.8" cy="121" r="3.1"/><circle class="s7" cx="90.1" cy="101.3" r="3.2"/><circle class="s7" cx="112.3" cy="111.4" r="3.1"/><circle class="s7" cx="94.5" cy="75.7" r="3.2"/><circle class="s7" cx="99" cy="73.4" r="2.8"/><circle class="s7" cx="98.4" cy="113.2" r="2.8"/><circle class="s7" cx="100" cy="110.6" r="3.1"/><circle class="s7" cx="103.7" cy="81.9" r="2.8"/><circle class="s7" cx="100.2" cy="116.3" r="3.2"/><circle class="s7" cx="95.4" cy="81.7" r="3.3"/><circle class="s7" cx="88.3" cy="72.8" r="3.2"/><circle class="s7" cx="77.2" cy="110.8" r="3.1"/><circle class="s7" cx="69.9" cy="123.1" r="2.8"/><circle class="s7" cx="108.8" cy="99.7" r="2.9"/><circle class="s7" cx="104.9" cy="84.4" r="3.1"/><circle class="s7" cx="101.3" cy="94.4" r="3.3"/><circle class="s7" cx="97.3" cy="117.6" r="3.3"/><circle class="s7" cx="105.4" cy="104.8" r="3"/><circle class="s7" cx="106.7" cy="123.7" r="3.2"/><circle class="s7" cx="87" cy="96.2" r="3"/><circle class="s7" cx="91.4" cy="88.6" r="3"/><circle class="s7" cx="99.2" cy="119.6" r="2.9"/><circle class="s7" cx="84.1" cy="111.2" r="3.2"/><circle class="s6" cx="112.7" cy="106.9" r="2.9"/><circle class="s7" cx="89.8" cy="117.9" r="2.9"/><circle class="s7" cx="64.6" cy="114.5" r="3.2"/><circle class="s7" cx="95.7" cy="94.4" r="2.9"/><circle class="s7" cx="98.2" cy="81.3" r="3.1"/><circle class="s7" cx="61" cy="116.3" r="3"/><circle class="s6" cx="82.7" cy="86.5" r="3.1"/><circle class="s7" cx="107.7" cy="120.8" r="3.1"/><circle class="s7" cx="110.6" cy="122" r="3.2"/><circle class="s7" cx="87.6" cy="103.9" r="2.9"/><circle class="s6" cx="113.9" cy="116" r="2.9"/><circle class="s6" cx="60.5" cy="123.2" r="3.3"/><circle class="s6" cx="69.7" cy="109.3" r="3.3"/><circle class="s6" cx="70.4" cy="126.4" r="3.3"/><circle class="s6" cx="84.9" cy="73.2" r="3.3"/><circle class="s6" cx="85.8" cy="97.5" r="3.3"/><circle class="s6" cx="87.2" cy="105.8" r="3.3"/><circle class="s6" cx="88.2" cy="84.3" r="3.3"/><circle class="s6" cx="94" cy="94" r="3.3"/><circle class="s6" cx="95.1" cy="112.4" r="3.3"/><circle class="s6" cx="95.8" cy="88.3" r="3.3"/><circle class="s6" cx="103.3" cy="118.6" r="3.3"/><circle class="s6" cx="109.9" cy="114" r="3.3"/><circle class="s6" cx="111.2" cy="108.7" r="3.3"/>
<g opacity="0.7"><circle class="s8" cx="105" cy="145.7" r="3.2"/><circle class="s8" cx="113.2" cy="156.5" r="3.2"/><circle class="s8" cx="107.4" cy="150.9" r="2.9"/><circle class="s8" cx="118.7" cy="152" r="3"/><circle class="s8" cx="111.7" cy="139.6" r="3"/><circle class="s8" cx="111.8" cy="146.2" r="3"/><circle class="s8" cx="108.3" cy="145" r="2.9"/><circle class="s8" cx="114.4" cy="142.2" r="3.1"/><circle class="s8" cx="120.6" cy="148.8" r="3.1"/><circle class="s8" cx="106.6" cy="142.7" r="3.2"/><circle class="s8" cx="117.7" cy="141.8" r="3.2"/><circle class="s8" cx="116.8" cy="147.8" r="2.9"/><circle class="s8" cx="110.2" cy="148.6" r="3.1"/><circle class="s8" cx="111.7" cy="151.7" r="2.9"/><circle class="s8" cx="111" cy="154.7" r="3"/><circle class="s8" cx="115.9" cy="144.7" r="3.2"/><circle class="s8" cx="115" cy="152.9" r="3"/><circle class="s8" cx="106.3" cy="148.4" r="3.1"/><circle class="s8" cx="114.8" cy="149.8" r="3.2"/><circle class="s8" cx="110" cy="141.8" r="2.9"/><circle class="s8" cx="119.9" cy="144.1" r="3"/><circle class="s8" cx="117" cy="154.9" r="3"/><circle class="s6" cx="108.1" cy="154.5" r="3.1"/></g>
<circle class="s9" cx="122.1" cy="157.4" r="3.2"/><circle class="s9" cx="119.2" cy="165.3" r="3.2"/><circle class="s9" cx="115.3" cy="175.1" r="3"/><circle class="s9" cx="114.3" cy="172.3" r="3.2"/><circle class="s9" cx="116.6" cy="160.7" r="3"/><circle class="s9" cx="123.6" cy="165.5" r="2.8"/><circle class="s6" cx="113.3" cy="164.3" r="3.1"/><circle class="s9" cx="125" cy="170.1" r="2.9"/><circle class="s9" cx="122.9" cy="160.5" r="2.9"/><circle class="s9" cx="119.3" cy="173.7" r="3"/><circle class="s6" cx="122.9" cy="173.1" r="3"/><circle class="s9" cx="109.6" cy="172.1" r="3"/><circle class="s9" cx="106.4" cy="168.4" r="3.2"/><circle class="s9" cx="120.8" cy="171" r="2.9"/><circle class="s9" cx="112.6" cy="175.6" r="3.2"/><circle class="s9" cx="112" cy="156.8" r="2.8"/><circle class="s9" cx="106.4" cy="163.3" r="3.2"/><circle class="s9" cx="119.1" cy="156.9" r="3.2"/><circle class="s9" cx="109.2" cy="169" r="2.9"/><circle class="s9" cx="107.8" cy="166" r="3"/><circle class="s9" cx="126.9" cy="165.4" r="3"/><circle class="s9" cx="125.6" cy="161.8" r="3.2"/><circle class="s6" cx="119.2" cy="161.8" r="3"/><circle class="s9" cx="117.9" cy="176.2" r="3.2"/><circle class="s9" cx="121.8" cy="163.1" r="3.3"/><circle class="s9" cx="110.1" cy="164.1" r="2.8"/><circle class="s9" cx="108.7" cy="161.6" r="2.9"/><circle class="s9" cx="116.7" cy="163.6" r="3.1"/><circle class="s9" cx="116.3" cy="156.4" r="2.9"/><circle class="s9" cx="111" cy="166.9" r="3"/><circle class="s9" cx="112" cy="170.6" r="2.8"/><circle class="s9" cx="113.8" cy="168.2" r="2.9"/><circle class="s9" cx="121.9" cy="167.9" r="3.3"/><circle class="s9" cx="109.2" cy="158.8" r="3"/><circle class="s9" cx="117" cy="171.1" r="2.9"/><circle class="s9" cx="111.4" cy="160.4" r="3.1"/><circle class="s9" cx="114.6" cy="158.7" r="3.2"/><circle class="s9" cx="117.1" cy="167.4" r="3"/>
<circle class="s6" cx="96.2" cy="168.1" r="3.2"/><circle class="s6" cx="103.8" cy="163.1" r="2.9"/><circle class="s6" cx="96.5" cy="165" r="2.9"/><circle class="s6" cx="98.3" cy="161.9" r="3"/><circle class="s6" cx="103.5" cy="166.6" r="3.2"/><circle class="s6" cx="104.4" cy="169.2" r="3"/><circle class="s6" cx="100.1" cy="170.6" r="3.1"/><circle class="s9" cx="99" cy="167.3" r="2.9"/><circle class="s9" cx="106" cy="165.2" r="2.9"/><circle class="s6" cx="101.1" cy="160.8" r="3.2"/><circle class="s6" cx="101.1" cy="165.1" r="3"/>
<circle class="s6" cx="147.3" cy="170.3" r="3.3"/><circle class="s6" cx="126.1" cy="167" r="2.9"/><circle class="s9" cx="124.9" cy="162" r="2.9"/><circle class="s6" cx="144.5" cy="170.6" r="3"/><circle class="s6" cx="145.7" cy="178.3" r="3.1"/><circle class="s6" cx="131.8" cy="169.1" r="2.9"/><circle class="s6" cx="138.2" cy="175.2" r="3.2"/><circle class="s9" cx="142.1" cy="168.5" r="3"/><circle class="s6" cx="138.7" cy="171.4" r="3"/><circle class="s6" cx="132" cy="171.9" r="3.1"/><circle class="s6" cx="142.6" cy="176.8" r="2.9"/><circle class="s6" cx="150.9" cy="177" r="2.8"/><circle class="s6" cx="129.4" cy="164.7" r="3.1"/><circle class="s6" cx="128.6" cy="170.2" r="3.1"/><circle class="s6" cx="140.9" cy="174.5" r="3.2"/><circle class="s6" cx="145.1" cy="173.7" r="3.2"/><circle class="s6" cx="139.2" cy="167.3" r="3"/><circle class="s6" cx="148.1" cy="176.6" r="3.1"/><circle class="s6" cx="135.9" cy="172.8" r="3"/><circle class="s6" cx="149.8" cy="172.8" r="3.1"/><circle class="s6" cx="130.4" cy="161.8" r="3.2"/><circle class="s6" cx="141.7" cy="171.5" r="2.9"/><circle class="s6" cx="127.7" cy="161.8" r="3"/><circle class="s6" cx="136.3" cy="168.5" r="3.1"/><circle class="s6" cx="129.5" cy="167.4" r="3"/><circle class="s6" cx="133" cy="166.4" r="2.9"/><circle class="s6" cx="136.6" cy="165.2" r="3.3"/><circle class="s6" cx="133.6" cy="163.7" r="3.3"/><circle class="s9" cx="124" cy="164.7" r="2.9"/>
<circle class="s10" cx="122" cy="147.4" r="3"/><circle class="s10" cx="130" cy="129.4" r="3.1"/><circle class="s10" cx="123.6" cy="150" r="2.9"/><circle class="s10" cx="143.4" cy="144.2" r="3.2"/><circle class="s10" cx="132.9" cy="145.6" r="3"/><circle class="s10" cx="129.8" cy="153.7" r="3"/><circle class="s10" cx="127" cy="153.5" r="2.8"/><circle class="s10" cx="129.8" cy="147.6" r="3.2"/><circle class="s10" cx="125.9" cy="143.2" r="3.1"/><circle class="s10" cx="135.1" cy="130.5" r="3.1"/><circle class="s10" cx="132.6" cy="131.8" r="3.2"/><circle class="s10" cx="136.9" cy="133.3" r="3"/><circle class="s6" cx="130.7" cy="141.4" r="3"/><circle class="s10" cx="127.4" cy="139.3" r="3"/><circle class="s10" cx="132.3" cy="148.9" r="3.2"/><circle class="s10" cx="138.3" cy="144.6" r="3.1"/><circle class="s10" cx="140" cy="146.9" r="3.2"/><circle class="s10" cx="126.1" cy="146" r="3.1"/><circle class="s10" cx="136.1" cy="136" r="2.9"/><circle class="s6" cx="125.3" cy="136.7" r="3.1"/><circle class="s6" cx="143.9" cy="141.3" r="3.1"/><circle class="s6" cx="139.8" cy="142.2" r="3.2"/><circle class="s10" cx="140" cy="135.3" r="3"/><circle class="s10" cx="136.3" cy="147.2" r="2.9"/><circle class="s10" cx="139.7" cy="150.6" r="3.3"/><circle class="s6" cx="122.7" cy="139.6" r="3.2"/><circle class="s10" cx="142.7" cy="138.3" r="3.3"/><circle class="s10" cx="128" cy="136.3" r="3"/><circle class="s10" cx="134.7" cy="150.7" r="3.2"/><circle class="s10" cx="136.9" cy="152.5" r="3.2"/><circle class="s10" cx="130.3" cy="144.3" r="3.2"/><circle class="s6" cx="136.2" cy="142.7" r="3.1"/><circle class="s10" cx="122.2" cy="142.4" r="3.1"/><circle class="s10" cx="123.4" cy="145" r="2.8"/><circle class="s6" cx="124.6" cy="130.7" r="2.9"/><circle class="s6" cx="134.1" cy="140.8" r="2.9"/><circle class="s10" cx="133.5" cy="154.2" r="3.3"/><circle class="s6" cx="127.8" cy="150.1" r="2.9"/><circle class="s10" cx="128.7" cy="133.4" r="2.8"/><circle class="s10" cx="127.5" cy="130.7" r="2.9"/><circle class="s10" cx="123.7" cy="133.4" r="2.9"/><circle class="s10" cx="142.5" cy="149.9" r="3.2"/><circle class="s10" cx="130.2" cy="138.7" r="3.3"/><circle class="s10" cx="143.3" cy="147.3" r="3.2"/><circle class="s10" cx="138.3" cy="139.4" r="3.3"/><circle class="s10" cx="134.1" cy="137.9" r="3"/><circle class="s10" cx="132.7" cy="135.2" r="3"/>
<circle class="s10" cx="121" cy="128.4" r="3.1"/>
<circle class="s6" cx="149" cy="177.6" r="2.9"/><circle class="s10" cx="145.3" cy="168.3" r="3.2"/><circle class="s6" cx="132.7" cy="153.2" r="2.9"/><circle class="s6" cx="142.8" cy="178.5" r="2.9"/><circle class="s6" cx="141.1" cy="174.7" r="3.3"/><circle class="s6" cx="140" cy="171.1" r="3.1"/><circle class="s6" cx="136.5" cy="163.4" r="3.1"/><circle class="s6" cx="137.6" cy="152" r="3.3"/><circle class="s6" cx="138.1" cy="168.1" r="3.1"/><circle class="s6" cx="144.8" cy="175.7" r="3.2"/><circle class="s6" cx="135" cy="160.3" r="3.3"/><circle class="s6" cx="142" cy="164.6" r="3.2"/><circle class="s6" cx="142.3" cy="167.6" r="3.2"/><circle class="s6" cx="146.7" cy="179.9" r="2.9"/><circle class="s6" cx="147.8" cy="174.7" r="2.9"/><circle class="s6" cx="142.8" cy="171.6" r="3"/><circle class="s6" cx="139.1" cy="164.6" r="3"/><circle class="s10" cx="134.5" cy="150.5" r="3.1"/><circle class="s6" cx="137.3" cy="155.1" r="3"/><circle class="s6" cx="141.2" cy="161.8" r="2.9"/><circle class="s6" cx="140.4" cy="157.3" r="3.1"/><circle class="s6" cx="133.7" cy="157.4" r="3.1"/><circle class="s10" cx="137.6" cy="158.7" r="2.9"/><circle class="s6" cx="145.9" cy="172.2" r="2.8"/>
<circle class="s10" cx="156" cy="170.1" r="2.9"/><circle class="s10" cx="144.9" cy="165.6" r="2.9"/><circle class="s10" cx="148.8" cy="171.2" r="3.2"/><circle class="s10" cx="152.4" cy="168.4" r="2.9"/><circle class="s10" cx="155.7" cy="166.1" r="2.8"/><circle class="s10" cx="144.6" cy="168.8" r="2.9"/><circle class="s10" cx="149.2" cy="174.5" r="3"/><circle class="s10" cx="153.2" cy="175.1" r="3.3"/><circle class="s10" cx="151.6" cy="165.7" r="3.1"/><circle class="s6" cx="145.4" cy="171.8" r="3"/><circle class="s10" cx="152" cy="162.5" r="3"/><circle class="s10" cx="151.6" cy="172.1" r="3.3"/><circle class="s10" cx="155.7" cy="173.1" r="2.9"/><circle class="s6" cx="147.3" cy="168" r="3.1"/><circle class="s10" cx="148.9" cy="163.7" r="3.2"/><circle class="s10" cx="146.5" cy="174.4" r="3.1"/>
<circle class="s6" cx="159.7" cy="176.4" r="3"/><circle class="s6" cx="157" cy="175.2" r="2.8"/><circle class="s11" cx="162.5" cy="178.2" r="3.2"/><circle class="s6" cx="160.7" cy="180.5" r="3"/><circle class="s6" cx="157.1" cy="185.6" r="3.1"/><circle class="s6" cx="160.1" cy="185.1" r="3"/><circle class="s6" cx="153.9" cy="175.8" r="2.9"/><circle class="s6" cx="151.1" cy="180.5" r="2.8"/><circle class="s6" cx="162.2" cy="183.1" r="2.9"/><circle class="s11" cx="153.5" cy="179.2" r="3.2"/><circle class="s11" cx="151.8" cy="183.2" r="3.2"/><circle class="s6" cx="154.4" cy="184.2" r="2.8"/><circle class="s6" cx="156.6" cy="179" r="3.1"/><circle class="s6" cx="157.7" cy="181.9" r="3.2"/>
<circle class="s11" cx="160.7" cy="188.6" r="2.9"/><circle class="s11" cx="154.7" cy="193.7" r="3.2"/><circle class="s11" cx="159.1" cy="196.6" r="3.1"/><circle class="s11" cx="149.6" cy="193.6" r="3.2"/><circle class="s11" cx="157.8" cy="187.7" r="2.9"/><circle class="s11" cx="151.4" cy="187.6" r="2.8"/><circle class="s11" cx="156.2" cy="190.1" r="2.9"/><circle class="s11" cx="153.5" cy="190.5" r="2.8"/><circle class="s11" cx="161.7" cy="191.4" r="3.3"/><circle class="s11" cx="154.4" cy="185.8" r="2.9"/><circle class="s11" cx="160.4" cy="194.2" r="3"/><circle class="s11" cx="151.9" cy="195.2" r="2.9"/><circle class="s11" cx="150.4" cy="190.9" r="3.1"/><circle class="s11" cx="155.4" cy="197.8" r="3.2"/><circle class="s11" cx="158.6" cy="191.6" r="3"/>
<circle class="s6" cx="164.1" cy="209.4" r="3.1"/><circle class="s6" cx="162" cy="207.5" r="2.9"/><circle class="s11" cx="159.2" cy="206.3" r="2.9"/><circle class="s6" cx="161.1" cy="213.8" r="3"/><circle class="s6" cx="145" cy="200.9" r="2.9"/><circle class="s6" cx="160.7" cy="203.8" r="3"/><circle class="s6" cx="166.9" cy="210.3" r="3.2"/><circle class="s6" cx="148.1" cy="198.8" r="2.8"/><circle class="s6" cx="152.9" cy="206.7" r="2.9"/><circle class="s6" cx="165.3" cy="215.1" r="3.3"/><circle class="s6" cx="147.5" cy="193.9" r="3.1"/><circle class="s11" cx="152.3" cy="201.1" r="3"/><circle class="s6" cx="144.9" cy="195.6" r="3.3"/><circle class="s6" cx="151.1" cy="204.5" r="3.1"/><circle class="s6" cx="154.9" cy="200.3" r="3"/><circle class="s6" cx="149.2" cy="201.9" r="2.9"/><circle class="s6" cx="151.9" cy="197.9" r="2.9"/><circle class="s6" cx="164.3" cy="212.4" r="3.1"/><circle class="s6" cx="149.7" cy="195.7" r="3.2"/><circle class="s11" cx="143.9" cy="198.3" r="2.9"/><circle class="s6" cx="159.1" cy="201.3" r="2.9"/><circle class="s6" cx="157.4" cy="211.4" r="3"/><circle class="s6" cx="172.8" cy="214.4" r="3.1"/><circle class="s6" cx="161.5" cy="210.9" r="3.3"/><circle class="s6" cx="169.4" cy="208" r="3"/><circle class="s6" cx="156.6" cy="197.7" r="3.2"/><circle class="s6" cx="155.4" cy="207.9" r="2.8"/><circle class="s6" cx="170.5" cy="215.9" r="3.1"/><circle class="s6" cx="166.9" cy="205" r="3"/><circle class="s6" cx="148.1" cy="205.1" r="2.9"/><circle class="s6" cx="154.4" cy="196" r="3.1"/><circle class="s6" cx="153.9" cy="203.9" r="2.9"/><circle class="s6" cx="173.4" cy="210.8" r="3.1"/><circle class="s6" cx="163.8" cy="204.5" r="3.2"/><circle class="s6" cx="170.1" cy="211.1" r="2.9"/><circle class="s6" cx="157.3" cy="204" r="3.3"/><circle class="s6" cx="167.8" cy="216.7" r="3.3"/><circle class="s6" cx="162.6" cy="201.8" r="2.9"/><circle class="s6" cx="168" cy="213.3" r="2.9"/><circle class="s6" cx="159.1" cy="209.2" r="3.1"/>
<circle class="s7" cx="74.6" cy="209.3" r="3"/><circle class="s6" cx="75.5" cy="205" r="3.2"/><circle class="s6" cx="105.6" cy="191.3" r="3"/><circle class="s6" cx="75.2" cy="212.4" r="3.1"/><circle class="s6" cx="103.2" cy="193.3" r="2.8"/><circle class="s7" cx="101.3" cy="198.6" r="3.2"/><circle class="s6" cx="118.2" cy="197.1" r="3.2"/><circle class="s7" cx="91.4" cy="206.5" r="3.3"/><circle class="s7" cx="89.5" cy="212.9" r="3.3"/><circle class="s7" cx="87.2" cy="210.8" r="2.9"/><circle class="s7" cx="95.1" cy="190.5" r="3"/><circle class="s6" cx="83.3" cy="217.6" r="2.9"/><circle class="s6" cx="78.6" cy="213.5" r="3.2"/><circle class="s7" cx="110.3" cy="195.2" r="3.2"/><circle class="s7" cx="86" cy="213.9" r="3"/><circle class="s7" cx="115.7" cy="196" r="3.2"/><circle class="s7" cx="105.3" cy="199.4" r="2.8"/><circle class="s7" cx="107.3" cy="193.7" r="3.3"/><circle class="s7" cx="91.4" cy="216.1" r="3.3"/><circle class="s7" cx="115.2" cy="192.6" r="3.1"/><circle class="s6" cx="90.9" cy="198.4" r="3.2"/><circle class="s6" cx="88.7" cy="196.7" r="2.9"/><circle class="s7" cx="77.8" cy="208.3" r="3.2"/><circle class="s7" cx="81.7" cy="208.1" r="3"/><circle class="s7" cx="80.5" cy="218.1" r="3"/><circle class="s6" cx="81.7" cy="199.6" r="3"/><circle class="s6" cx="98.2" cy="191.8" r="3.2"/><circle class="s7" cx="77.8" cy="216.3" r="2.9"/><circle class="s7" cx="91.2" cy="203.2" r="3.1"/><circle class="s6" cx="82.8" cy="204.9" r="3"/><circle class="s7" cx="100.2" cy="193.9" r="3.2"/><circle class="s7" cx="110.8" cy="192" r="3.1"/><circle class="s6" cx="105.2" cy="195.9" r="2.9"/><circle class="s6" cx="116.5" cy="199.8" r="3"/><circle class="s7" cx="109.5" cy="197.9" r="3.3"/><circle class="s6" cx="86.8" cy="218.7" r="3.1"/><circle class="s7" cx="88.5" cy="205.9" r="3.3"/><circle class="s7" cx="112.9" cy="200.2" r="3.1"/><circle class="s7" cx="81.6" cy="214.1" r="3"/><circle class="s7" cx="95" cy="198.1" r="3"/><circle class="s7" cx="101.7" cy="190.9" r="3.2"/><circle class="s6" cx="97.8" cy="197.7" r="3.3"/><circle class="s6" cx="88.2" cy="215.7" r="3.2"/><circle class="s6" cx="95.8" cy="195.3" r="3.2"/><circle class="s7" cx="93.2" cy="212.9" r="3.2"/><circle class="s6" cx="86.6" cy="203.8" r="3.2"/><circle class="s7" cx="83.1" cy="211.3" r="3.3"/><circle class="s7" cx="93.4" cy="193.1" r="3.1"/><circle class="s6" cx="86.7" cy="200.1" r="3.1"/><circle class="s7" cx="94.4" cy="209.4" r="3.2"/><circle class="s7" cx="91.4" cy="194.9" r="3.2"/><circle class="s7" cx="91.5" cy="190.4" r="3.3"/><circle class="s7" cx="85.4" cy="207.5" r="3.3"/><circle class="s7" cx="88.9" cy="191.7" r="3.2"/><circle class="s7" cx="80.1" cy="205.6" r="3"/><circle class="s7" cx="113" cy="196.8" r="3.2"/><circle class="s7" cx="118" cy="193.4" r="3.1"/><circle class="s6" cx="79.7" cy="202.3" r="3.1"/><circle class="s7" cx="84" cy="201.5" r="3.1"/><circle class="s6" cx="90.3" cy="209.9" r="2.8"/><circle class="s7" cx="79.6" cy="210.9" r="3.2"/>
<circle class="s6" cx="115.6" cy="208.9" r="3"/><circle class="s6" cx="126.7" cy="210.2" r="2.9"/><circle class="s7" cx="114.9" cy="217.2" r="2.9"/><circle class="s6" cx="120.5" cy="223.1" r="3.1"/><circle class="s6" cx="117.7" cy="216.4" r="3.2"/><circle class="s6" cx="115.2" cy="214.4" r="3"/><circle class="s6" cx="116.3" cy="222.8" r="3"/><circle class="s7" cx="128.5" cy="220.5" r="3.1"/><circle class="s7" cx="121" cy="210.6" r="2.8"/><circle class="s6" cx="123.9" cy="208.9" r="2.9"/><circle class="s6" cx="127.5" cy="206.6" r="2.9"/><circle class="s6" cx="118.6" cy="203.6" r="3.2"/><circle class="s7" cx="111" cy="213.4" r="3.3"/><circle class="s6" cx="112.1" cy="217.4" r="3.2"/><circle class="s7" cx="111" cy="210.4" r="3.1"/><circle class="s7" cx="116.3" cy="220" r="3.2"/><circle class="s7" cx="125.5" cy="218.8" r="2.9"/><circle class="s6" cx="125" cy="215.6" r="3.1"/><circle class="s6" cx="117.6" cy="211.5" r="2.9"/><circle class="s6" cx="120.5" cy="216.8" r="3"/><circle class="s6" cx="130.9" cy="214.6" r="3.1"/><circle class="s6" cx="118.1" cy="207" r="3"/><circle class="s7" cx="124.5" cy="206" r="3.1"/><circle class="s7" cx="130.6" cy="217.7" r="3.1"/><circle class="s6" cx="113.6" cy="212.2" r="2.9"/><circle class="s6" cx="130.1" cy="210.7" r="3.2"/><circle class="s6" cx="128" cy="216.4" r="3.1"/><circle class="s7" cx="115.6" cy="204.8" r="3.2"/><circle class="s6" cx="119.5" cy="213.9" r="3.3"/><circle class="s7" cx="119" cy="220.3" r="2.9"/><circle class="s7" cx="121.7" cy="219.6" r="3.2"/><circle class="s7" cx="123" cy="213" r="3"/><circle class="s6" cx="127.5" cy="213.5" r="3.3"/><circle class="s6" cx="121.2" cy="204.9" r="3.2"/><circle class="s7" cx="112.9" cy="207.9" r="3.2"/><circle class="s7" cx="126.2" cy="222.2" r="2.9"/><circle class="s6" cx="123.4" cy="223.3" r="3"/><circle class="s6" cx="113.4" cy="220.5" r="3"/>
<circle class="s12" cx="148.5" cy="118.2" r="3.1"/><circle class="s12" cx="155.2" cy="133.2" r="3.2"/><circle class="s12" cx="155.8" cy="127.5" r="2.9"/><circle class="s12" cx="163.5" cy="103" r="2.8"/><circle class="s12" cx="154" cy="109.4" r="3.3"/><circle class="s6" cx="160.5" cy="123.6" r="2.9"/><circle class="s12" cx="160.4" cy="120.4" r="3.2"/><circle class="s6" cx="156.3" cy="104.2" r="2.8"/><circle class="s12" cx="162.6" cy="114.7" r="3.1"/><circle class="s6" cx="144.5" cy="114.7" r="3.1"/><circle class="s12" cx="151.5" cy="104.6" r="3"/><circle class="s6" cx="154.1" cy="105.9" r="3.1"/><circle class="s12" cx="148.5" cy="123.7" r="2.9"/><circle class="s12" cx="154.9" cy="124.1" r="3.1"/><circle class="s12" cx="163.8" cy="96.8" r="2.9"/><circle class="s6" cx="159.4" cy="134.3" r="3.1"/><circle class="s12" cx="157.6" cy="92.2" r="2.9"/><circle class="s6" cx="156.9" cy="120" r="3.2"/><circle class="s6" cx="153.4" cy="112.2" r="2.9"/><circle class="s6" cx="157.7" cy="122.7" r="2.9"/><circle class="s12" cx="153.4" cy="93.7" r="3.1"/><circle class="s12" cx="146.6" cy="99.1" r="3"/><circle class="s6" cx="149.6" cy="121.1" r="3.1"/><circle class="s12" cx="160.4" cy="101.6" r="3.2"/><circle class="s12" cx="152.3" cy="122.5" r="3.2"/><circle class="s12" cx="164.9" cy="128" r="3.3"/><circle class="s6" cx="151.6" cy="126.1" r="3.1"/><circle class="s12" cx="165.9" cy="106.4" r="2.9"/><circle class="s12" cx="164" cy="130.9" r="3.2"/><circle class="s6" cx="160" cy="110.2" r="3.1"/><circle class="s12" cx="156" cy="101.1" r="3"/><circle class="s12" cx="148.3" cy="114.2" r="3.3"/><circle class="s12" cx="150.5" cy="93.6" r="3.2"/><circle class="s12" cx="159.2" cy="113" r="3.2"/><circle class="s12" cx="157.2" cy="117.1" r="3.2"/><circle class="s12" cx="150.4" cy="110.3" r="3.1"/><circle class="s6" cx="146.7" cy="120.8" r="2.8"/><circle class="s12" cx="151.3" cy="115" r="2.9"/><circle class="s6" cx="145.3" cy="112" r="2.9"/><circle class="s12" cx="144.8" cy="118.4" r="3.2"/><circle class="s12" cx="153.4" cy="102.4" r="3"/><circle class="s6" cx="165.8" cy="98.6" r="3"/><circle class="s12" cx="153.2" cy="128.9" r="3"/><circle class="s12" cx="166.4" cy="102.1" r="2.9"/><circle class="s12" cx="156.3" cy="113" r="3.3"/><circle class="s12" cx="160.4" cy="94.8" r="3"/><circle class="s6" cx="148.1" cy="107.6" r="3.3"/><circle class="s12" cx="159.2" cy="104.6" r="3.2"/><circle class="s6" cx="163.2" cy="117.9" r="2.9"/><circle class="s12" cx="160.1" cy="116.5" r="3.1"/><circle class="s6" cx="156.5" cy="130.5" r="3"/><circle class="s12" cx="158.5" cy="99.5" r="3.1"/><circle class="s12" cx="154.8" cy="115.6" r="3.2"/><circle class="s12" cx="147.7" cy="96.4" r="3.3"/><circle class="s12" cx="147.9" cy="101.8" r="2.9"/><circle class="s6" cx="160.4" cy="131.7" r="2.8"/><circle class="s12" cx="162.5" cy="126.3" r="3.2"/><circle class="s12" cx="146.4" cy="104.8" r="2.9"/><circle class="s6" cx="152.6" cy="131.7" r="2.8"/><circle class="s6" cx="150.9" cy="97" r="3.1"/><circle class="s12" cx="157" cy="95.2" r="3.3"/><circle class="s12" cx="156.8" cy="110.3" r="3"/><circle class="s6" cx="161.4" cy="106.4" r="2.8"/><circle class="s6" cx="163.8" cy="123.6" r="2.8"/><circle class="s12" cx="153.7" cy="97.8" r="3.3"/><circle class="s12" cx="153.5" cy="118.4" r="3.1"/><circle class="s12" cx="157.3" cy="107.1" r="3.2"/><circle class="s12" cx="163.6" cy="109.7" r="2.8"/><circle class="s6" cx="159.6" cy="128.1" r="2.9"/><circle class="s12" cx="150.4" cy="100.7" r="3"/><circle class="s6" cx="162.8" cy="100" r="3.1"/><circle class="s6" cx="160.7" cy="97.5" r="3"/>
<circle class="s12" cx="164" cy="89.2" r="2.8"/><circle class="s12" cx="171" cy="89.3" r="3.2"/><circle class="s6" cx="160.6" cy="80.7" r="3"/><circle class="s6" cx="170.4" cy="99.7" r="3"/><circle class="s6" cx="162.5" cy="86.1" r="3.1"/><circle class="s12" cx="168.7" cy="80.5" r="2.9"/><circle class="s12" cx="173.4" cy="102.4" r="3.1"/><circle class="s12" cx="173.5" cy="92" r="2.8"/><circle class="s6" cx="177.7" cy="102.4" r="2.9"/><circle class="s12" cx="176.4" cy="98.6" r="2.9"/><circle class="s6" cx="174.6" cy="89.3" r="3.2"/><circle class="s12" cx="165.6" cy="83.9" r="3.1"/><circle class="s12" cx="179.8" cy="100.4" r="2.9"/><circle class="s6" cx="175" cy="94.8" r="2.8"/><circle class="s12" cx="169.7" cy="83.4" r="2.8"/><circle class="s12" cx="171.3" cy="94.9" r="2.9"/><circle class="s12" cx="166.6" cy="78.1" r="3.2"/><circle class="s6" cx="167.6" cy="95.7" r="3"/><circle class="s12" cx="169.9" cy="92.4" r="3"/><circle class="s12" cx="179.3" cy="97.4" r="3.2"/><circle class="s12" cx="173.3" cy="97.9" r="3.2"/><circle class="s12" cx="171" cy="86.5" r="3"/><circle class="s12" cx="167.1" cy="92.4" r="3"/><circle class="s12" cx="163.7" cy="79.6" r="2.9"/><circle class="s12" cx="176.6" cy="91.5" r="2.8"/><circle class="s6" cx="178.1" cy="94.2" r="3"/><circle class="s6" cx="162.4" cy="83" r="3.3"/><circle class="s12" cx="167.5" cy="87.4" r="3.2"/>
<circle class="s12" cx="162.3" cy="75.5" r="3"/><circle class="s12" cx="155.4" cy="76" r="2.9"/><circle class="s12" cx="192.9" cy="64" r="2.9"/><circle class="s6" cx="178.1" cy="62.7" r="3.1"/><circle class="s6" cx="188.5" cy="59.4" r="2.8"/><circle class="s12" cx="195.6" cy="74.5" r="2.8"/><circle class="s6" cx="192.3" cy="75" r="3"/><circle class="s12" cx="192.7" cy="77.9" r="3.3"/><circle class="s12" cx="196.1" cy="77.2" r="3.2"/><circle class="s6" cx="154" cy="80.6" r="2.9"/><circle class="s12" cx="183.2" cy="55.4" r="2.8"/><circle class="s12" cx="189.9" cy="77.4" r="2.8"/><circle class="s12" cx="191.5" cy="61.3" r="2.9"/><circle class="s12" cx="185.8" cy="65.6" r="3.1"/><circle class="s12" cx="180" cy="65.2" r="3.1"/><circle class="s12" cx="166.1" cy="69.1" r="2.9"/><circle class="s12" cx="164.2" cy="82.1" r="3"/><circle class="s6" cx="160.6" cy="66.1" r="3.2"/><circle class="s12" cx="197.9" cy="69.6" r="3.2"/><circle class="s6" cx="172.8" cy="57.2" r="3.2"/><circle class="s6" cx="190.6" cy="71.9" r="3.1"/><circle class="s6" cx="152.8" cy="77.8" r="3.1"/><circle class="s12" cx="184.9" cy="60.6" r="3.2"/><circle class="s12" cx="156.8" cy="73.4" r="3.1"/><circle class="s6" cx="198.9" cy="75.6" r="3"/><circle class="s12" cx="152.6" cy="74.1" r="2.9"/><circle class="s6" cx="195.5" cy="65.6" r="2.9"/><circle class="s12" cx="189.2" cy="65.5" r="2.9"/><circle class="s12" cx="157" cy="82.3" r="2.9"/><circle class="s12" cx="168.5" cy="59.8" r="2.8"/><circle class="s12" cx="201" cy="72.2" r="3.1"/><circle class="s12" cx="194.5" cy="69" r="2.9"/><circle class="s12" cx="165.4" cy="58.6" r="3"/><circle class="s6" cx="169.7" cy="56.1" r="3.1"/><circle class="s6" cx="158.4" cy="61.4" r="2.9"/><circle class="s6" cx="182.2" cy="62" r="2.9"/><circle class="s12" cx="159.6" cy="73.7" r="3.3"/><circle class="s12" cx="166.6" cy="79" r="2.9"/><circle class="s12" cx="182.8" cy="66.1" r="2.9"/><circle class="s12" cx="156.8" cy="64.8" r="3.1"/><circle class="s12" cx="176.4" cy="65.7" r="2.9"/><circle class="s12" cx="163.8" cy="64.6" r="3"/><circle class="s6" cx="187.1" cy="63" r="2.9"/><circle class="s6" cx="163.5" cy="70.9" r="3.2"/><circle class="s12" cx="154.4" cy="71.4" r="2.9"/><circle class="s12" cx="199" cy="65.1" r="3.1"/><circle class="s12" cx="153.4" cy="67.8" r="3"/><circle class="s12" cx="154.3" cy="61.6" r="2.9"/><circle class="s12" cx="191" cy="58" r="2.8"/><circle class="s12" cx="163.8" cy="78.8" r="3.3"/><circle class="s6" cx="188.3" cy="68.1" r="2.8"/><circle class="s12" cx="165" cy="61.5" r="3"/><circle class="s6" cx="168.3" cy="62.8" r="2.9"/><circle class="s6" cx="180.1" cy="57" r="2.8"/><circle class="s12" cx="200.9" cy="68.7" r="3.1"/><circle class="s12" cx="196.1" cy="62.4" r="2.8"/><circle class="s12" cx="159.9" cy="69.8" r="2.9"/><circle class="s12" cx="165.2" cy="73.5" r="3.3"/><circle class="s12" cx="176.9" cy="56.9" r="3.1"/><circle class="s12" cx="171.3" cy="61.8" r="3"/><circle class="s12" cx="162.3" cy="58.7" r="3"/><circle class="s12" cx="167.3" cy="71.7" r="3.1"/><circle class="s12" cx="187.1" cy="75.5" r="2.8"/><circle class="s12" cx="184.9" cy="57.7" r="3.3"/><circle class="s12" cx="160.5" cy="81.8" r="3.3"/><circle class="s12" cx="156.7" cy="68.2" r="3.3"/><circle class="s12" cx="160.4" cy="77.7" r="3.3"/><circle class="s12" cx="194" cy="72.1" r="2.9"/><circle class="s6" cx="176.9" cy="60" r="3.3"/><circle class="s12" cx="165.5" cy="55.4" r="3.1"/><circle class="s12" cx="188.4" cy="56.7" r="3"/><circle class="s12" cx="187.3" cy="72.8" r="3.1"/><circle class="s12" cx="173.6" cy="64.8" r="3"/><circle class="s6" cx="191.3" cy="67.8" r="3.2"/><circle class="s12" cx="167.9" cy="65.8" r="2.9"/><circle class="s12" cx="173.9" cy="60.3" r="3.2"/><circle class="s6" cx="157.3" cy="78.9" r="3"/><circle class="s12" cx="153.1" cy="64.4" r="3.1"/><circle class="s12" cx="185.8" cy="69.4" r="3.1"/><circle class="s6" cx="166.5" cy="76" r="3.1"/><circle class="s6" cx="163.4" cy="68" r="2.9"/><circle class="s12" cx="180" cy="60.1" r="3.1"/><circle class="s6" cx="161.7" cy="62.8" r="2.9"/><circle class="s12" cx="170.8" cy="64.9" r="3.2"/>
<circle class="s13" cx="222" cy="81.3" r="3.1"/><circle class="s13" cx="233.2" cy="95.8" r="3.2"/><circle class="s13" cx="227.9" cy="79" r="3.4"/><circle class="s13" cx="219.5" cy="85.9" r="3.4"/><circle class="s13" cx="231.7" cy="99.9" r="3.3"/><circle class="s13" cx="234.6" cy="100.8" r="3.4"/><circle class="s13" cx="241.8" cy="97.7" r="3"/><circle class="s13" cx="230.7" cy="78.2" r="3.4"/><circle class="s13" cx="236.5" cy="84.5" r="3.2"/><circle class="s6" cx="221.6" cy="92" r="3.1"/><circle class="s13" cx="239.9" cy="85" r="3"/><circle class="s13" cx="225.6" cy="96.5" r="3.3"/><circle class="s13" cx="222.4" cy="98.1" r="3.4"/><circle class="s6" cx="219.4" cy="83" r="3"/><circle class="s13" cx="224.6" cy="91.9" r="3.2"/><circle class="s6" cx="228.7" cy="91.1" r="3.4"/><circle class="s13" cx="245.1" cy="84.1" r="3.1"/><circle class="s6" cx="244.6" cy="94.1" r="3.4"/><circle class="s13" cx="238.8" cy="81.9" r="3.1"/><circle class="s6" cx="241.2" cy="88.1" r="3"/><circle class="s13" cx="236.4" cy="76" r="3.3"/><circle class="s13" cx="246.2" cy="98.6" r="3.5"/><circle class="s13" cx="241.3" cy="92.6" r="3.1"/><circle class="s6" cx="237.3" cy="103" r="3.4"/><circle class="s13" cx="237.7" cy="99.7" r="3.4"/><circle class="s13" cx="232.7" cy="93" r="3"/><circle class="s13" cx="230.1" cy="97.3" r="3.3"/><circle class="s13" cx="230.3" cy="84.3" r="3.5"/><circle class="s13" cx="236.7" cy="94.9" r="3.4"/><circle class="s13" cx="222" cy="94.8" r="3.4"/><circle class="s13" cx="238.9" cy="90.7" r="3.4"/><circle class="s6" cx="233" cy="89.9" r="3.1"/><circle class="s13" cx="245.2" cy="87.9" r="3.1"/><circle class="s13" cx="228.8" cy="94" r="3.5"/><circle class="s13" cx="243.4" cy="81.4" r="3.5"/><circle class="s13" cx="231.6" cy="75.4" r="3.2"/><circle class="s13" cx="244.3" cy="101.7" r="3.2"/><circle class="s6" cx="234.5" cy="105.8" r="3.4"/><circle class="s13" cx="227.1" cy="101.1" r="3.1"/><circle class="s13" cx="241" cy="101.4" r="3.1"/><circle class="s13" cx="239.5" cy="105.3" r="3.4"/><circle class="s6" cx="227.2" cy="86.3" r="3.5"/><circle class="s13" cx="232.7" cy="86.7" r="3"/><circle class="s13" cx="221.5" cy="88.9" r="3.3"/><circle class="s6" cx="242.9" cy="104.3" r="3.4"/><circle class="s13" cx="224.6" cy="85" r="3.1"/><circle class="s13" cx="224.9" cy="79.5" r="3.3"/><circle class="s13" cx="224.9" cy="88.4" r="3"/><circle class="s13" cx="236.1" cy="91.7" r="3"/><circle class="s13" cx="218.8" cy="90.2" r="3.5"/><circle class="s13" cx="233.5" cy="79.2" r="3.4"/><circle class="s6" cx="237" cy="107.7" r="3.3"/><circle class="s6" cx="226.6" cy="75.6" r="3.3"/><circle class="s6" cx="240.6" cy="79.4" r="3.1"/><circle class="s6" cx="239.2" cy="96.4" r="3.1"/><circle class="s13" cx="229.9" cy="87.9" r="3.1"/><circle class="s6" cx="222.6" cy="77.6" r="3.5"/><circle class="s13" cx="228.5" cy="81.9" r="3.3"/><circle class="s13" cx="245.1" cy="90.9" r="3.2"/><circle class="s6" cx="237.5" cy="88.2" r="3.3"/><circle class="s13" cx="233.2" cy="82.7" r="3.2"/><circle class="s13" cx="236.4" cy="79.2" r="3.4"/><circle class="s13" cx="239.3" cy="76.8" r="3.3"/><circle class="s13" cx="244.5" cy="107" r="3.4"/><circle class="s13" cx="246.7" cy="103.6" r="3.3"/><circle class="s13" cx="241.3" cy="107.9" r="3.2"/>
<circle class="s6" cx="215.6" cy="105.1" r="3.4"/><circle class="s13" cx="182.3" cy="108.9" r="3.4"/><circle class="s13" cx="209.5" cy="91.2" r="3.3"/><circle class="s13" cx="196.8" cy="124.4" r="3.3"/><circle class="s6" cx="184.6" cy="96.7" r="3"/><circle class="s6" cx="183.9" cy="123.6" r="3.4"/><circle class="s13" cx="201.4" cy="104.5" r="3.3"/><circle class="s13" cx="192.9" cy="97.1" r="3.3"/><circle class="s6" cx="193.8" cy="93.5" r="3.2"/><circle class="s13" cx="187.8" cy="94.8" r="3.5"/><circle class="s13" cx="202" cy="97" r="3.4"/><circle class="s6" cx="181.6" cy="102.8" r="3.5"/><circle class="s6" cx="206.3" cy="92.5" r="3.1"/><circle class="s13" cx="219.6" cy="100" r="3"/><circle class="s13" cx="218.4" cy="97.2" r="3.3"/><circle class="s6" cx="204.5" cy="103.8" r="3.1"/><circle class="s6" cx="208.5" cy="103.3" r="3.5"/><circle class="s6" cx="186.4" cy="133.8" r="3.2"/><circle class="s13" cx="199.2" cy="95.3" r="3.3"/><circle class="s13" cx="219.5" cy="92" r="3"/><circle class="s13" cx="186" cy="114.7" r="3.4"/><circle class="s6" cx="188.1" cy="139.8" r="3.2"/><circle class="s6" cx="187.7" cy="130.5" r="3.1"/><circle class="s13" cx="188.8" cy="104.4" r="3.4"/><circle class="s13" cx="202" cy="93.9" r="3"/><circle class="s13" cx="189.1" cy="136.5" r="3.2"/><circle class="s13" cx="189.1" cy="98.9" r="3.3"/><circle class="s13" cx="185.3" cy="103.3" r="3.2"/><circle class="s13" cx="222.2" cy="101.6" r="3.5"/><circle class="s13" cx="193.9" cy="117.7" r="3.5"/><circle class="s13" cx="196.1" cy="99" r="3.1"/><circle class="s6" cx="195.7" cy="114.7" r="3.1"/><circle class="s13" cx="186.5" cy="127.6" r="3.1"/><circle class="s13" cx="226.4" cy="100.1" r="3.4"/><circle class="s13" cx="190.8" cy="122.9" r="3.4"/><circle class="s13" cx="225" cy="94.2" r="3.1"/><circle class="s13" cx="215.4" cy="95.9" r="3.2"/><circle class="s13" cx="202.9" cy="100" r="3.4"/><circle class="s13" cx="195.4" cy="107.5" r="3.4"/><circle class="s6" cx="190.2" cy="120" r="3"/><circle class="s13" cx="196.2" cy="95.8" r="3.3"/><circle class="s13" cx="214.2" cy="98.8" r="3.1"/><circle class="s13" cx="199" cy="102.8" r="3.1"/><circle class="s13" cx="205.9" cy="99.2" r="3.2"/><circle class="s6" cx="196.6" cy="118.7" r="3.2"/><circle class="s13" cx="216.5" cy="102.2" r="3.1"/><circle class="s13" cx="183.5" cy="127.5" r="3.4"/><circle class="s6" cx="193.9" cy="121.5" r="3"/><circle class="s13" cx="190.5" cy="108" r="3.4"/><circle class="s6" cx="187.6" cy="107.7" r="3.2"/><circle class="s13" cx="196.3" cy="127.8" r="3.1"/><circle class="s13" cx="187.2" cy="122.8" r="3"/><circle class="s13" cx="184.9" cy="137" r="3"/><circle class="s6" cx="194.7" cy="101.8" r="3.2"/><circle class="s6" cx="190.6" cy="129.6" r="3.2"/><circle class="s6" cx="183.2" cy="134.2" r="3"/><circle class="s13" cx="191" cy="94.5" r="3.2"/><circle class="s13" cx="184" cy="130.5" r="3.4"/><circle class="s13" cx="226.5" cy="96.8" r="3.4"/><circle class="s13" cx="193.7" cy="129.2" r="3.4"/><circle class="s13" cx="193.3" cy="104.8" r="3.3"/><circle class="s13" cx="191.8" cy="90.6" r="3.4"/><circle class="s13" cx="184.5" cy="106.7" r="3.1"/><circle class="s13" cx="199.6" cy="99.4" r="3.3"/><circle class="s6" cx="182.2" cy="116.6" r="3.2"/><circle class="s13" cx="184.6" cy="93.8" r="3.5"/><circle class="s6" cx="182.3" cy="113.3" r="3.3"/><circle class="s13" cx="224.5" cy="105.6" r="3.5"/><circle class="s13" cx="187.4" cy="111.8" r="3.4"/><circle class="s13" cx="204.9" cy="96.2" r="3.1"/><circle class="s13" cx="190.9" cy="111.5" r="3.3"/><circle class="s6" cx="189" cy="125.4" r="3.1"/><circle class="s13" cx="212.4" cy="95.1" r="3.1"/><circle class="s13" cx="181.1" cy="124.9" r="3.5"/><circle class="s13" cx="211.3" cy="105.1" r="3.4"/><circle class="s13" cx="222.9" cy="92.1" r="3.2"/><circle class="s6" cx="215.3" cy="91.4" r="3.4"/><circle class="s13" cx="195.6" cy="133.1" r="3.3"/><circle class="s13" cx="210.8" cy="97.6" r="3.2"/><circle class="s13" cx="198.3" cy="90.9" r="3.1"/><circle class="s13" cx="181.4" cy="121.9" r="3.1"/><circle class="s6" cx="195.4" cy="90.3" r="3.5"/><circle class="s6" cx="219.4" cy="104" r="3.2"/><circle class="s13" cx="187.5" cy="118.6" r="3.5"/><circle class="s13" cx="191.2" cy="102.5" r="3.2"/><circle class="s13" cx="192.9" cy="136.9" r="3.1"/><circle class="s13" cx="208.4" cy="94.9" r="3.1"/><circle class="s13" cx="184.5" cy="118.9" r="3.4"/><circle class="s13" cx="195" cy="111.5" r="3.3"/><circle class="s13" cx="193.4" cy="125.5" r="3"/><circle class="s6" cx="186.2" cy="100.2" r="3.2"/><circle class="s13" cx="222.6" cy="97.1" r="3.2"/><circle class="s6" cx="191.1" cy="133.3" r="3.4"/><circle class="s13" cx="181.3" cy="99.1" r="3.2"/><circle class="s13" cx="192.3" cy="114.8" r="3.2"/><circle class="s13" cx="211.2" cy="101.7" r="3.3"/><circle class="s6" cx="203.3" cy="91.1" r="3.1"/><circle class="s6" cx="189.9" cy="116.7" r="3.2"/><circle class="s6" cx="191.1" cy="139.2" r="3"/>
<circle class="s13" cx="180.3" cy="152.5" r="3.4"/><circle class="s13" cx="185.4" cy="161.6" r="3.3"/><circle class="s13" cx="187.4" cy="148.5" r="3.4"/><circle class="s13" cx="187.2" cy="143.7" r="3.5"/><circle class="s6" cx="186.4" cy="158.5" r="3.4"/><circle class="s6" cx="177.3" cy="147.8" r="3.1"/><circle class="s6" cx="176.9" cy="161" r="3.2"/><circle class="s6" cx="196.1" cy="150.6" r="3.2"/><circle class="s6" cx="180" cy="155.8" r="3.1"/><circle class="s6" cx="192.6" cy="134.4" r="3.3"/><circle class="s13" cx="188.7" cy="151.4" r="3.5"/><circle class="s13" cx="180" cy="149.6" r="3.5"/><circle class="s6" cx="191.8" cy="130.9" r="3.1"/><circle class="s6" cx="175.8" cy="158.3" r="3.2"/><circle class="s13" cx="172.1" cy="158.6" r="3.5"/><circle class="s6" cx="192.7" cy="141.3" r="3.5"/><circle class="s13" cx="192.1" cy="161.4" r="3.2"/><circle class="s6" cx="185.9" cy="168.6" r="3.4"/><circle class="s6" cx="191.2" cy="138.4" r="3.4"/><circle class="s13" cx="180.2" cy="138.8" r="3.2"/><circle class="s13" cx="193.9" cy="148.2" r="3.3"/><circle class="s6" cx="189.5" cy="158.1" r="3.5"/><circle class="s13" cx="190.4" cy="148.9" r="3.2"/><circle class="s13" cx="183.8" cy="144.7" r="3.3"/><circle class="s6" cx="187.1" cy="140.7" r="3.4"/><circle class="s6" cx="182.6" cy="141.9" r="3.5"/><circle class="s13" cx="195" cy="143.2" r="3.3"/><circle class="s6" cx="179" cy="172.2" r="3.3"/><circle class="s13" cx="195.1" cy="132.7" r="3.3"/><circle class="s6" cx="189.5" cy="133.2" r="3.4"/><circle class="s13" cx="194.8" cy="155" r="3.1"/><circle class="s13" cx="183.9" cy="139.2" r="3.3"/><circle class="s6" cx="193.3" cy="157.7" r="3.1"/><circle class="s6" cx="182" cy="160" r="3.1"/><circle class="s13" cx="191.8" cy="154.7" r="3.3"/><circle class="s6" cx="197.3" cy="136.6" r="3.2"/><circle class="s6" cx="172.7" cy="155" r="3.3"/><circle class="s13" cx="190.1" cy="163.6" r="3.4"/><circle class="s6" cx="178.2" cy="141.2" r="3.3"/><circle class="s13" cx="183" cy="155.2" r="3.4"/><circle class="s6" cx="198.3" cy="141.4" r="3.1"/><circle class="s13" cx="175.5" cy="151.8" r="3.5"/><circle class="s6" cx="186.2" cy="131.3" r="3.3"/><circle class="s6" cx="179.1" cy="144.1" r="3.5"/><circle class="s6" cx="190.6" cy="144.1" r="3.5"/><circle class="s6" cx="184.7" cy="151.2" r="3.4"/><circle class="s6" cx="183.8" cy="134.8" r="3.1"/><circle class="s6" cx="189.8" cy="166.6" r="3.4"/><circle class="s6" cx="194.2" cy="138.1" r="3.4"/><circle class="s6" cx="180.3" cy="164.6" r="3.5"/><circle class="s6" cx="176.4" cy="168.7" r="3.2"/><circle class="s6" cx="182.5" cy="167.3" r="3.4"/><circle class="s6" cx="193.4" cy="151.9" r="3.2"/><circle class="s13" cx="176.4" cy="155.3" r="3.4"/><circle class="s6" cx="188.5" cy="161" r="3.1"/><circle class="s13" cx="187.1" cy="136.6" r="3.4"/><circle class="s6" cx="197.2" cy="146" r="3.4"/><circle class="s6" cx="176.6" cy="164.4" r="3.5"/><circle class="s13" cx="185.8" cy="165.2" r="3.5"/><circle class="s13" cx="179.4" cy="169" r="3.3"/><circle class="s6" cx="171.2" cy="162.3" r="3.1"/><circle class="s13" cx="173.4" cy="169" r="3.1"/><circle class="s6" cx="172.7" cy="165.8" r="3.3"/><circle class="s6" cx="180.4" cy="135.8" r="3.4"/><circle class="s13" cx="182.7" cy="147.5" r="3.5"/><circle class="s6" cx="186.1" cy="155.4" r="3.5"/><circle class="s6" cx="182.1" cy="171.2" r="3.4"/>
<circle class="s14" cx="214.4" cy="133.1" r="3.2"/><circle class="s14" cx="207.8" cy="144.2" r="3.4"/><circle class="s14" cx="215.4" cy="122.6" r="3.4"/><circle class="s14" cx="216" cy="136.7" r="3.3"/><circle class="s6" cx="216.3" cy="125.9" r="3.4"/><circle class="s6" cx="211.3" cy="144.5" r="3.2"/><circle class="s6" cx="209.3" cy="125.3" r="3.2"/><circle class="s14" cx="207.8" cy="118.5" r="3.1"/><circle class="s14" cx="201.8" cy="131.5" r="3.3"/><circle class="s14" cx="209.9" cy="132.3" r="3"/><circle class="s14" cx="205.2" cy="122.4" r="3.2"/><circle class="s14" cx="209.6" cy="136.3" r="3.4"/><circle class="s14" cx="217.9" cy="141.1" r="3.1"/><circle class="s14" cx="218.2" cy="133.9" r="3.4"/><circle class="s14" cx="215.4" cy="144.3" r="3"/><circle class="s14" cx="203" cy="140" r="3.2"/><circle class="s14" cx="203.2" cy="120.1" r="3.4"/><circle class="s6" cx="219.4" cy="137.7" r="3.1"/><circle class="s14" cx="212.5" cy="130.5" r="3.4"/><circle class="s14" cx="201.6" cy="127.3" r="3.3"/><circle class="s14" cx="212.1" cy="121.2" r="3.4"/><circle class="s6" cx="215.6" cy="129.7" r="3.1"/><circle class="s14" cx="212.5" cy="135.6" r="3.4"/><circle class="s14" cx="209.5" cy="128.4" r="3.1"/><circle class="s14" cx="205.1" cy="129.4" r="3.2"/><circle class="s14" cx="202.7" cy="136.5" r="3.1"/><circle class="s14" cx="213.1" cy="139.7" r="3.4"/><circle class="s14" cx="204.7" cy="142.5" r="3"/><circle class="s14" cx="204.7" cy="125.5" r="3.4"/><circle class="s14" cx="208.4" cy="141.3" r="3.1"/><circle class="s14" cx="212.7" cy="126.5" r="3.2"/><circle class="s6" cx="207.2" cy="138.4" r="3"/><circle class="s14" cx="205.7" cy="133.9" r="3.3"/><circle class="s14" cx="200.3" cy="124.1" r="3.1"/><circle class="s14" cx="208.8" cy="121.5" r="3.1"/>
<g opacity="0.9"><circle class="s15" cx="195.2" cy="176.4" r="2.8"/><circle class="s15" cx="190.5" cy="184" r="3.2"/><circle class="s15" cx="184.9" cy="186.4" r="3.2"/><circle class="s6" cx="193.3" cy="182.7" r="3.1"/><circle class="s15" cx="204.8" cy="179.2" r="3"/><circle class="s15" cx="200.2" cy="187.5" r="3.1"/><circle class="s15" cx="187.6" cy="185.5" r="2.8"/><circle class="s6" cx="185.5" cy="180.3" r="3.2"/><circle class="s15" cx="186" cy="183" r="2.8"/><circle class="s15" cx="178.9" cy="177.4" r="3.1"/><circle class="s15" cx="198.8" cy="190" r="3.1"/><circle class="s15" cx="191" cy="187.7" r="3"/><circle class="s15" cx="196" cy="184.1" r="3.2"/><circle class="s15" cx="188.8" cy="177.1" r="3"/><circle class="s6" cx="184.9" cy="177.4" r="3.3"/><circle class="s15" cx="203.4" cy="189.5" r="2.9"/><circle class="s15" cx="186.9" cy="189.1" r="3"/><circle class="s15" cx="178.2" cy="187.9" r="3"/><circle class="s15" cx="179.9" cy="183.6" r="3"/><circle class="s15" cx="194.8" cy="180.3" r="2.8"/><circle class="s15" cx="189.5" cy="181.2" r="3.3"/><circle class="s15" cx="176.2" cy="184.7" r="3.2"/><circle class="s15" cx="198.2" cy="177" r="2.9"/><circle class="s15" cx="206.1" cy="186.1" r="3.3"/><circle class="s15" cx="192.4" cy="178.2" r="3.1"/><circle class="s15" cx="195.3" cy="189.1" r="2.8"/><circle class="s15" cx="175" cy="187.2" r="3"/><circle class="s15" cx="194.2" cy="186.5" r="3.3"/><circle class="s15" cx="175.8" cy="178" r="2.9"/><circle class="s15" cx="181.3" cy="175.7" r="3.3"/><circle class="s15" cx="203.4" cy="186.5" r="3.2"/><circle class="s15" cx="182.6" cy="189.6" r="3"/><circle class="s15" cx="179.9" cy="190.1" r="3.1"/><circle class="s6" cx="182.9" cy="183" r="3.1"/><circle class="s6" cx="180.4" cy="180.6" r="2.8"/><circle class="s15" cx="204.9" cy="182.7" r="2.9"/><circle class="s15" cx="182.1" cy="185.7" r="2.9"/><circle class="s6" cx="199.1" cy="180.2" r="2.9"/><circle class="s6" cx="176.9" cy="180.6" r="3.2"/><circle class="s15" cx="191.6" cy="191" r="3"/><circle class="s15" cx="197.5" cy="186.6" r="2.9"/><circle class="s15" cx="201.9" cy="179" r="3.1"/><circle class="s15" cx="174.3" cy="181.8" r="2.9"/><circle class="s15" cx="200.1" cy="183.4" r="3"/></g>
<circle class="s16" cx="263.2" cy="124.3" r="2.9"/><circle class="s16" cx="257.6" cy="122.1" r="3.1"/><circle class="s16" cx="261.1" cy="116" r="3.2"/><circle class="s16" cx="246.2" cy="126.2" r="3.2"/><circle class="s6" cx="244" cy="117.7" r="2.9"/><circle class="s16" cx="259.2" cy="119.8" r="3.3"/><circle class="s16" cx="256.6" cy="118.1" r="3.3"/><circle class="s16" cx="255" cy="121.2" r="3.2"/><circle class="s16" cx="243.5" cy="125.5" r="3.2"/><circle class="s16" cx="263.2" cy="118.2" r="3.1"/><circle class="s16" cx="257.4" cy="112.4" r="2.8"/><circle class="s16" cx="253.7" cy="118.7" r="3.1"/><circle class="s16" cx="257.8" cy="115.6" r="3.1"/><circle class="s16" cx="266.2" cy="118.6" r="3.3"/><circle class="s16" cx="263.6" cy="114.8" r="2.8"/><circle class="s16" cx="248.2" cy="111.7" r="3"/><circle class="s16" cx="262.3" cy="110.6" r="2.8"/><circle class="s16" cx="263.5" cy="127.3" r="2.9"/><circle class="s16" cx="255.4" cy="124" r="3"/><circle class="s16" cx="254.5" cy="112.7" r="2.9"/><circle class="s16" cx="259.9" cy="124.8" r="3.3"/><circle class="s16" cx="241.7" cy="116.2" r="2.8"/><circle class="s16" cx="249.5" cy="126.1" r="3.1"/><circle class="s16" cx="250.9" cy="110.6" r="2.8"/><circle class="s16" cx="247.9" cy="119" r="2.9"/><circle class="s6" cx="267.4" cy="114.9" r="3"/><circle class="s16" cx="268.8" cy="117.3" r="3"/><circle class="s16" cx="253.4" cy="115.8" r="3"/><circle class="s16" cx="241.9" cy="121" r="2.9"/><circle class="s16" cx="266.6" cy="121.6" r="3.1"/><circle class="s16" cx="244.6" cy="112.3" r="3.3"/><circle class="s16" cx="250.5" cy="117.2" r="3.2"/><circle class="s16" cx="265.6" cy="112.2" r="3"/><circle class="s16" cx="244.6" cy="122.9" r="2.9"/><circle class="s16" cx="252.9" cy="127.5" r="2.8"/><circle class="s16" cx="267.6" cy="124.6" r="2.9"/><circle class="s16" cx="256.8" cy="126.6" r="3"/><circle class="s16" cx="246.4" cy="116.1" r="3.1"/><circle class="s16" cx="247.4" cy="123.4" r="2.9"/><circle class="s16" cx="261.8" cy="120.9" r="2.8"/><circle class="s16" cx="252.3" cy="122.2" r="3"/><circle class="s16" cx="260.4" cy="112.7" r="3"/><circle class="s16" cx="260.2" cy="127.5" r="3.3"/><circle class="s16" cx="249.5" cy="121.4" r="2.9"/><circle class="s6" cx="251.1" cy="113.9" r="3"/><circle class="s16" cx="269.5" cy="121.4" r="3"/>
<circle class="s16" cx="263.7" cy="149.7" r="2.9"/><circle class="s16" cx="262.3" cy="152.3" r="2.9"/><circle class="s16" cx="282.1" cy="153.4" r="2.9"/><circle class="s16" cx="269.7" cy="151.6" r="2.9"/><circle class="s16" cx="266.5" cy="156.5" r="3.1"/><circle class="s16" cx="275.9" cy="145.5" r="3"/><circle class="s16" cx="263.7" cy="143.6" r="3.1"/><circle class="s16" cx="260" cy="156.5" r="2.8"/><circle class="s16" cx="268.8" cy="158.8" r="3.3"/><circle class="s16" cx="275.5" cy="155.6" r="2.8"/><circle class="s16" cx="265" cy="146.1" r="2.9"/><circle class="s16" cx="278.3" cy="156.9" r="3.1"/><circle class="s6" cx="265.9" cy="152" r="3"/><circle class="s16" cx="263.7" cy="157.9" r="2.9"/><circle class="s16" cx="260.4" cy="150" r="2.8"/><circle class="s16" cx="274.1" cy="158.7" r="2.9"/><circle class="s6" cx="255.6" cy="149.8" r="3.2"/><circle class="s16" cx="261.2" cy="147.3" r="3.3"/><circle class="s16" cx="271.8" cy="156.6" r="3.1"/><circle class="s6" cx="268.9" cy="155" r="3.2"/><circle class="s16" cx="257.5" cy="155.2" r="3.3"/><circle class="s6" cx="280.3" cy="146.7" r="3.1"/><circle class="s16" cx="273" cy="144.3" r="2.9"/><circle class="s16" cx="258.2" cy="151.6" r="2.9"/><circle class="s16" cx="272.7" cy="151.8" r="3.2"/><circle class="s6" cx="275.4" cy="152.6" r="3.2"/><circle class="s16" cx="281" cy="156.2" r="2.9"/><circle class="s16" cx="260.7" cy="144.1" r="2.8"/><circle class="s6" cx="278.3" cy="151.9" r="3"/><circle class="s16" cx="273.4" cy="149.2" r="2.8"/><circle class="s16" cx="264.1" cy="154.9" r="3.1"/><circle class="s16" cx="267.8" cy="144.8" r="2.8"/><circle class="s6" cx="257.6" cy="146.9" r="3"/><circle class="s16" cx="280" cy="149.5" r="2.8"/><circle class="s16" cx="271.4" cy="147.2" r="3.3"/><circle class="s6" cx="276.6" cy="148.6" r="3.2"/><circle class="s16" cx="267.2" cy="148.7" r="3.3"/>
<circle class="s16" cx="227.5" cy="167.9" r="3.1"/><circle class="s16" cx="222.7" cy="165.2" r="3.1"/><circle class="s16" cx="219.1" cy="161.5" r="3.3"/><circle class="s16" cx="232.4" cy="156.2" r="3.1"/><circle class="s16" cx="226.7" cy="160.5" r="3.2"/><circle class="s16" cx="221.5" cy="157.4" r="3.1"/><circle class="s16" cx="233.9" cy="162.2" r="2.9"/><circle class="s16" cx="232.6" cy="153.3" r="3.2"/><circle class="s16" cx="225.7" cy="165.5" r="3.2"/><circle class="s16" cx="234.6" cy="166.8" r="3.3"/><circle class="s16" cx="225" cy="157.2" r="2.8"/><circle class="s16" cx="223.1" cy="154.9" r="2.9"/><circle class="s16" cx="225.2" cy="152.4" r="3.1"/><circle class="s16" cx="230.3" cy="166.6" r="3.1"/><circle class="s16" cx="219.8" cy="164.5" r="2.9"/><circle class="s16" cx="225.4" cy="170.2" r="2.8"/><circle class="s16" cx="223" cy="168.7" r="3.1"/><circle class="s16" cx="229.1" cy="170.3" r="2.9"/><circle class="s16" cx="237.1" cy="159.7" r="3.1"/><circle class="s16" cx="227.5" cy="163.2" r="3"/><circle class="s16" cx="235.3" cy="156.5" r="3.2"/><circle class="s16" cx="224.4" cy="162.7" r="3"/><circle class="s16" cx="237.9" cy="163.7" r="2.9"/><circle class="s16" cx="229.6" cy="159.9" r="3.1"/><circle class="s16" cx="232" cy="168.8" r="3.1"/><circle class="s16" cx="228.9" cy="152.1" r="3.3"/><circle class="s16" cx="222.5" cy="160.7" r="3.2"/><circle class="s16" cx="235.6" cy="153.7" r="2.9"/><circle class="s16" cx="238.1" cy="157.1" r="3"/><circle class="s16" cx="233.8" cy="159.2" r="3.2"/><circle class="s16" cx="229.1" cy="156.2" r="3"/><circle class="s16" cx="230.4" cy="163.6" r="2.9"/><circle class="s6" cx="226.8" cy="154.7" r="3"/>
<circle class="s6" cx="244.3" cy="157" r="3.3"/><circle class="s17" cx="238.5" cy="159.4" r="3.3"/><circle class="s17" cx="269.8" cy="131.3" r="3.4"/><circle class="s6" cx="258.4" cy="142.3" r="3.5"/><circle class="s17" cx="258.9" cy="131" r="3"/><circle class="s17" cx="241.5" cy="162.4" r="3.3"/><circle class="s17" cx="256" cy="133.7" r="3.2"/><circle class="s6" cx="267" cy="137.7" r="3.1"/><circle class="s17" cx="250.4" cy="157.7" r="3.4"/><circle class="s17" cx="247" cy="161.1" r="3.4"/><circle class="s17" cx="245.5" cy="164.2" r="3.1"/><circle class="s17" cx="237.2" cy="148.6" r="3.1"/><circle class="s17" cx="263" cy="132.5" r="3.3"/><circle class="s17" cx="255.2" cy="142.3" r="3.2"/><circle class="s17" cx="262.6" cy="129.3" r="3.4"/><circle class="s17" cx="246.4" cy="142.9" r="3.1"/><circle class="s6" cx="236.6" cy="157.1" r="3.2"/><circle class="s17" cx="257.9" cy="136.5" r="3.1"/><circle class="s17" cx="248.9" cy="144.4" r="3.2"/><circle class="s17" cx="268.7" cy="134.8" r="3.3"/><circle class="s6" cx="242.5" cy="159.4" r="3.3"/><circle class="s17" cx="246.7" cy="150.3" r="3.2"/><circle class="s17" cx="270.8" cy="137" r="3.1"/><circle class="s17" cx="254.9" cy="159.2" r="3.2"/><circle class="s17" cx="257.4" cy="155.9" r="3.1"/><circle class="s17" cx="266.9" cy="142.8" r="3.2"/><circle class="s17" cx="254.1" cy="137.8" r="3.1"/><circle class="s6" cx="268" cy="147.8" r="3.1"/><circle class="s17" cx="265.1" cy="146.8" r="3.1"/><circle class="s6" cx="240.1" cy="147.1" r="3.2"/><circle class="s17" cx="266.6" cy="128.9" r="3.2"/><circle class="s17" cx="272.8" cy="139.3" r="3.1"/><circle class="s17" cx="248.4" cy="163.7" r="3.4"/><circle class="s17" cx="266.2" cy="133.2" r="3.3"/><circle class="s6" cx="251.2" cy="161.9" r="3.2"/><circle class="s17" cx="260.8" cy="138.7" r="3.4"/><circle class="s17" cx="270.4" cy="141.3" r="3.2"/><circle class="s6" cx="249.7" cy="149.5" r="3.2"/><circle class="s6" cx="242.5" cy="144.3" r="3.4"/><circle class="s17" cx="243.4" cy="150.3" r="3.4"/><circle class="s17" cx="273.5" cy="134.8" r="3.2"/><circle class="s17" cx="259.7" cy="134.1" r="3"/><circle class="s17" cx="273" cy="143.5" r="3.1"/><circle class="s17" cx="262.3" cy="142.9" r="3.5"/><circle class="s17" cx="253" cy="150.2" r="3.1"/><circle class="s17" cx="238.5" cy="151.6" r="3.3"/><circle class="s17" cx="246.5" cy="146.3" r="3.3"/><circle class="s17" cx="262.9" cy="148.7" r="3.3"/><circle class="s6" cx="262.6" cy="136.1" r="3.5"/><circle class="s6" cx="250.3" cy="154.3" r="3.1"/><circle class="s17" cx="268.8" cy="145" r="3.3"/><circle class="s17" cx="238.5" cy="154.8" r="3.5"/><circle class="s17" cx="256.6" cy="149.4" r="3.3"/><circle class="s6" cx="252.4" cy="144.9" r="3.3"/><circle class="s17" cx="263.6" cy="140.1" r="3.2"/><circle class="s17" cx="241.8" cy="154.2" r="3.5"/><circle class="s6" cx="255" cy="153.9" r="3.1"/><circle class="s17" cx="245.8" cy="153.3" r="3"/><circle class="s17" cx="247.3" cy="156.4" r="3.1"/><circle class="s17" cx="255.4" cy="146.7" r="3.3"/><circle class="s6" cx="256.7" cy="139.3" r="3.3"/><circle class="s17" cx="257.9" cy="152.6" r="3.5"/><circle class="s17" cx="243.8" cy="147.4" r="3"/><circle class="s6" cx="260.2" cy="146.9" r="3.3"/>
<circle class="s6" cx="248.1" cy="186.9" r="3.4"/><circle class="s6" cx="258.1" cy="191.5" r="3.2"/><circle class="s17" cx="228.8" cy="177.8" r="3.3"/><circle class="s6" cx="259.6" cy="178.7" r="3.2"/><circle class="s17" cx="267.8" cy="184.5" r="3.1"/><circle class="s17" cx="273.2" cy="180.2" r="3.1"/><circle class="s17" cx="225" cy="180" r="3.3"/><circle class="s6" cx="248.5" cy="179" r="3.5"/><circle class="s17" cx="262.5" cy="175.3" r="3.4"/><circle class="s17" cx="258.3" cy="175" r="3.1"/><circle class="s6" cx="221.3" cy="180.9" r="3.1"/><circle class="s17" cx="228.4" cy="193.2" r="3.4"/><circle class="s17" cx="269.6" cy="181" r="3.2"/><circle class="s17" cx="252.6" cy="181.1" r="3.5"/><circle class="s6" cx="230.4" cy="180.2" r="3.5"/><circle class="s17" cx="228.4" cy="189.1" r="3.4"/><circle class="s6" cx="254.8" cy="168.9" r="3.4"/><circle class="s6" cx="274.2" cy="176.8" r="3.5"/><circle class="s17" cx="218.6" cy="191.6" r="3.2"/><circle class="s17" cx="207" cy="189.9" r="3.1"/><circle class="s17" cx="217.7" cy="184.6" r="3.3"/><circle class="s17" cx="232.9" cy="187.7" r="3.2"/><circle class="s17" cx="209.9" cy="182.7" r="3.4"/><circle class="s6" cx="205.4" cy="181.9" r="3.2"/><circle class="s17" cx="234.3" cy="178.3" r="3.2"/><circle class="s17" cx="260" cy="194.3" r="3.4"/><circle class="s17" cx="267.1" cy="174.8" r="3.4"/><circle class="s6" cx="266.4" cy="194.3" r="3.2"/><circle class="s17" cx="210.3" cy="179.8" r="3.2"/><circle class="s17" cx="256.1" cy="187.7" r="3.1"/><circle class="s17" cx="248.9" cy="164.1" r="3.2"/><circle class="s6" cx="238.2" cy="179.3" r="3.2"/><circle class="s17" cx="255.4" cy="178.7" r="3.3"/><circle class="s17" cx="244.4" cy="180.3" r="3.3"/><circle class="s17" cx="268.1" cy="190.4" r="3.4"/><circle class="s17" cx="225.4" cy="188.1" r="3.1"/><circle class="s17" cx="262.5" cy="185.8" r="3.3"/><circle class="s6" cx="244" cy="193.7" r="3.3"/><circle class="s17" cx="215.8" cy="194.2" r="3.1"/><circle class="s17" cx="223.1" cy="184.8" r="3.4"/><circle class="s6" cx="212.3" cy="186" r="3.4"/><circle class="s6" cx="273.2" cy="184.5" r="3.4"/><circle class="s17" cx="259.6" cy="183.4" r="3.2"/><circle class="s17" cx="242.8" cy="190.7" r="3.2"/><circle class="s17" cx="250.6" cy="168.2" r="3.2"/><circle class="s17" cx="239.9" cy="191.5" r="3.4"/><circle class="s17" cx="240.2" cy="176" r="3.5"/><circle class="s17" cx="224.8" cy="191.7" r="3.3"/><circle class="s17" cx="256.8" cy="171.7" r="3.1"/><circle class="s6" cx="242.1" cy="183.4" r="3.4"/><circle class="s6" cx="264.2" cy="190.1" r="3.3"/><circle class="s17" cx="219.2" cy="177" r="3.4"/><circle class="s17" cx="248.4" cy="191.7" r="3.4"/><circle class="s6" cx="211.9" cy="175.5" r="3.3"/><circle class="s6" cx="222.8" cy="178" r="3.1"/><circle class="s17" cx="266" cy="171.9" r="3.4"/><circle class="s17" cx="246.2" cy="183.2" r="3.1"/><circle class="s17" cx="213.1" cy="172.7" r="3.4"/><circle class="s6" cx="221.3" cy="193.1" r="3.4"/><circle class="s17" cx="213" cy="182.3" r="3.1"/><circle class="s17" cx="265.9" cy="182" r="3.5"/><circle class="s6" cx="227.2" cy="174" r="3.2"/><circle class="s17" cx="214.3" cy="188.8" r="3.5"/><circle class="s17" cx="231.2" cy="195" r="3.3"/><circle class="s6" cx="246.4" cy="170.2" r="3.4"/><circle class="s17" cx="236.4" cy="176.1" r="3.4"/><circle class="s17" cx="241.2" cy="179.7" r="3.5"/><circle class="s6" cx="237.6" cy="185.7" r="3.5"/><circle class="s17" cx="237.9" cy="173.1" r="3.4"/><circle class="s17" cx="223.3" cy="172.2" r="3.2"/><circle class="s6" cx="234.3" cy="192.8" r="3.2"/><circle class="s17" cx="231.3" cy="191.3" r="3.5"/><circle class="s17" cx="240.7" cy="188" r="3.2"/><circle class="s17" cx="248.7" cy="172.6" r="3.4"/><circle class="s17" cx="231.9" cy="183.2" r="3.2"/><circle class="s6" cx="265.6" cy="177.6" r="3.1"/><circle class="s17" cx="226.6" cy="184.2" r="3.4"/><circle class="s17" cx="231.3" cy="175.1" r="3.2"/><circle class="s17" cx="253.7" cy="193.9" r="3.4"/><circle class="s17" cx="236.2" cy="189" r="3.4"/><circle class="s17" cx="252" cy="175.3" r="3.4"/><circle class="s6" cx="251.5" cy="191.9" r="3.3"/><circle class="s17" cx="219.4" cy="195.5" r="3.3"/><circle class="s6" cx="259.5" cy="186.9" r="3.4"/><circle class="s17" cx="244" cy="187.8" r="3.4"/><circle class="s17" cx="262.7" cy="179.9" r="3.1"/><circle class="s17" cx="238.5" cy="195.5" r="3.4"/><circle class="s17" cx="255.9" cy="182.3" r="3.2"/><circle class="s6" cx="255.1" cy="190.9" r="3.5"/><circle class="s17" cx="251.6" cy="188.6" r="3.5"/><circle class="s17" cx="253.3" cy="171.6" r="3.1"/><circle class="s17" cx="247.2" cy="194.9" r="3.3"/><circle class="s17" cx="269.6" cy="187.7" r="3.2"/><circle class="s6" cx="260.8" cy="189.8" r="3.2"/><circle class="s17" cx="242.5" cy="172.5" r="3.2"/><circle class="s6" cx="270.2" cy="174.9" r="3.4"/><circle class="s6" cx="215" cy="175.6" r="3.3"/><circle class="s6" cx="209.1" cy="187.5" r="3.3"/><circle class="s17" cx="265.3" cy="187.4" r="3.3"/><circle class="s6" cx="256.6" cy="194.8" r="3.2"/><circle class="s6" cx="217.1" cy="172.3" r="3.3"/><circle class="s17" cx="268.9" cy="172.2" r="3.1"/><circle class="s17" cx="234.8" cy="181.9" r="3.5"/><circle class="s17" cx="251.9" cy="164.4" r="3.3"/><circle class="s17" cx="232.6" cy="171.7" r="3.4"/><circle class="s17" cx="247.4" cy="166.7" r="3.4"/><circle class="s17" cx="229.5" cy="185.2" r="3.4"/><circle class="s17" cx="220.5" cy="173" r="3.2"/><circle class="s17" cx="259.8" cy="172.3" r="3.4"/><circle class="s6" cx="258.9" cy="167.9" r="3.2"/><circle class="s17" cx="220.7" cy="189.3" r="3.2"/><circle class="s17" cx="245" cy="174.6" r="3.1"/><circle class="s17" cx="210.4" cy="190.3" r="3.1"/><circle class="s17" cx="238.4" cy="182.7" r="3.3"/><circle class="s6" cx="211.7" cy="194.3" r="3.4"/><circle class="s17" cx="255" cy="165.4" r="3.4"/><circle class="s17" cx="270" cy="193" r="3.1"/><circle class="s17" cx="245.5" cy="177.6" r="3.2"/><circle class="s6" cx="217.7" cy="188.1" r="3.4"/><circle class="s6" cx="249.2" cy="183" r="3.5"/><circle class="s17" cx="263.2" cy="193.7" r="3.1"/><circle class="s6" cx="213.1" cy="191.6" r="3.4"/><circle class="s17" cx="216.3" cy="180.3" r="3.2"/><circle class="s17" cx="225.3" cy="194.9" r="3.4"/><circle class="s6" cx="206.8" cy="185.3" r="3.5"/><circle class="s17" cx="252.6" cy="185.7" r="3.3"/><circle class="s17" cx="208.8" cy="175.9" r="3.4"/><circle class="s17" cx="273.4" cy="188.2" r="3.5"/><circle class="s17" cx="270.6" cy="178.2" r="3.2"/><circle class="s6" cx="224.5" cy="175.1" r="3.4"/><circle class="s6" cx="207" cy="179.1" r="3.2"/>
<g opacity="0.8"><circle class="s18" cx="203.6" cy="229.7" r="3.1"/><circle class="s18" cx="173.3" cy="226.7" r="3.1"/><circle class="s18" cx="170.8" cy="230.3" r="3.2"/><circle class="s18" cx="173.5" cy="229.5" r="3.2"/><circle class="s6" cx="198.1" cy="234.3" r="2.9"/><circle class="s18" cx="201.6" cy="221.1" r="2.9"/><circle class="s18" cx="204.3" cy="219.2" r="3.1"/><circle class="s6" cx="206.4" cy="229.8" r="3"/><circle class="s18" cx="197.8" cy="212" r="3.1"/><circle class="s18" cx="199" cy="238.6" r="3.1"/><circle class="s18" cx="201.7" cy="227.3" r="2.9"/><circle class="s18" cx="181.1" cy="228.5" r="3.2"/><circle class="s18" cx="177" cy="234" r="3"/><circle class="s18" cx="199.4" cy="217.9" r="2.9"/><circle class="s18" cx="195.2" cy="212.8" r="2.8"/><circle class="s18" cx="204.8" cy="239.9" r="3"/><circle class="s18" cx="200.9" cy="230.5" r="3.1"/><circle class="s18" cx="198.1" cy="229.1" r="3"/><circle class="s18" cx="196.9" cy="225.4" r="2.9"/><circle class="s6" cx="205.2" cy="235.2" r="3.1"/><circle class="s18" cx="200.7" cy="207.2" r="3"/><circle class="s18" cx="187.9" cy="230.7" r="3.2"/><circle class="s18" cx="175.1" cy="231.9" r="3"/><circle class="s6" cx="175.9" cy="223.6" r="3.2"/><circle class="s18" cx="203.2" cy="214.6" r="2.8"/><circle class="s18" cx="190.1" cy="233.5" r="3"/><circle class="s18" cx="207" cy="237.6" r="3.1"/><circle class="s18" cx="203.1" cy="209.9" r="3"/><circle class="s18" cx="176.9" cy="226.3" r="3.2"/><circle class="s18" cx="179.3" cy="224.9" r="2.8"/><circle class="s18" cx="185.2" cy="229.1" r="2.9"/><circle class="s18" cx="199.6" cy="223.8" r="3.3"/><circle class="s18" cx="202.8" cy="233.9" r="2.9"/><circle class="s18" cx="198.2" cy="208.5" r="2.9"/><circle class="s6" cx="198.9" cy="215" r="2.8"/><circle class="s18" cx="192.6" cy="211" r="3"/><circle class="s18" cx="201.9" cy="239.9" r="3"/><circle class="s18" cx="179.9" cy="231.1" r="3"/><circle class="s6" cx="201.1" cy="212.7" r="3"/><circle class="s18" cx="207.4" cy="232.6" r="3.3"/><circle class="s18" cx="202.3" cy="217.4" r="3.1"/><circle class="s6" cx="194.2" cy="208.3" r="3.1"/><circle class="s6" cx="177.6" cy="229.5" r="2.9"/><circle class="s18" cx="203.7" cy="223.4" r="2.9"/><circle class="s18" cx="196.1" cy="206" r="2.9"/><circle class="s18" cx="194.8" cy="222.1" r="2.9"/><circle class="s18" cx="198.5" cy="221.2" r="3"/><circle class="s18" cx="206.2" cy="226.9" r="2.9"/><circle class="s18" cx="195.3" cy="219.2" r="3"/><circle class="s18" cx="186.6" cy="235.3" r="3.2"/><circle class="s6" cx="183.6" cy="233.7" r="3"/><circle class="s18" cx="195.2" cy="215.9" r="3"/><circle class="s6" cx="200.5" cy="236.1" r="2.9"/></g>
<circle class="s19" cx="235.6" cy="221.6" r="3.5"/><circle class="s19" cx="206.5" cy="248.8" r="3.2"/><circle class="s19" cx="195.4" cy="236.8" r="3.6"/><circle class="s19" cx="173.3" cy="205.8" r="3.2"/><circle class="s6" cx="174.8" cy="199.9" r="3.2"/><circle class="s19" cx="217.1" cy="246.7" r="3.4"/><circle class="s19" cx="178.1" cy="218.9" r="3.3"/><circle class="s19" cx="189.5" cy="218.4" r="3.3"/><circle class="s6" cx="230.2" cy="239.9" r="3.5"/><circle class="s19" cx="187.1" cy="235.1" r="3.3"/><circle class="s6" cx="177" cy="210.5" r="3.2"/><circle class="s19" cx="200.1" cy="243" r="3.3"/><circle class="s19" cx="187.9" cy="201.1" r="3.6"/><circle class="s19" cx="213.2" cy="232.5" r="3.6"/><circle class="s19" cx="169.1" cy="212.7" r="3.6"/><circle class="s19" cx="228.3" cy="232.4" r="3.6"/><circle class="s19" cx="232.8" cy="223.8" r="3.6"/><circle class="s19" cx="225" cy="223.4" r="3.2"/><circle class="s19" cx="220.2" cy="245.6" r="3.5"/><circle class="s19" cx="238.6" cy="230.6" r="3.2"/><circle class="s19" cx="187.1" cy="222.9" r="3.3"/><circle class="s19" cx="227.7" cy="228.9" r="3.2"/><circle class="s6" cx="181.1" cy="221.2" r="3.6"/><circle class="s19" cx="195" cy="243.7" r="3.2"/><circle class="s6" cx="182.1" cy="202.2" r="3.6"/><circle class="s6" cx="212.1" cy="235.9" r="3.6"/><circle class="s6" cx="171.4" cy="217.4" r="3.3"/><circle class="s6" cx="237.7" cy="223.9" r="3.4"/><circle class="s6" cx="202.3" cy="236.6" r="3.4"/><circle class="s19" cx="241.2" cy="225" r="3.3"/><circle class="s6" cx="212.4" cy="229.2" r="3.6"/><circle class="s19" cx="214.3" cy="248.7" r="3.6"/><circle class="s19" cx="239.4" cy="233.9" r="3.6"/><circle class="s19" cx="231.2" cy="218.7" r="3.5"/><circle class="s19" cx="190.7" cy="240.1" r="3.5"/><circle class="s19" cx="183.9" cy="235.3" r="3.2"/><circle class="s19" cx="190.4" cy="208.9" r="3.6"/><circle class="s19" cx="185" cy="209.7" r="3.5"/><circle class="s6" cx="230.6" cy="229.8" r="3.3"/><circle class="s19" cx="192" cy="211.6" r="3.5"/><circle class="s19" cx="174.1" cy="213.3" r="3.3"/><circle class="s6" cx="190.2" cy="232.7" r="3.5"/><circle class="s19" cx="232.6" cy="238.1" r="3.4"/><circle class="s6" cx="195" cy="211.8" r="3.6"/><circle class="s19" cx="191.5" cy="245.4" r="3.2"/><circle class="s6" cx="215.9" cy="234" r="3.3"/><circle class="s19" cx="209.3" cy="238.9" r="3.2"/><circle class="s19" cx="185.4" cy="203.4" r="3.6"/><circle class="s19" cx="179" cy="215.7" r="3.6"/><circle class="s6" cx="195.3" cy="247.3" r="3.6"/><circle class="s19" cx="236.2" cy="228.4" r="3.3"/><circle class="s6" cx="228" cy="222.5" r="3.6"/><circle class="s19" cx="226" cy="245.5" r="3.2"/><circle class="s19" cx="202.5" cy="250.2" r="3.6"/><circle class="s19" cx="229.7" cy="236.8" r="3.5"/><circle class="s19" cx="223.6" cy="248.4" r="3.5"/><circle class="s19" cx="192" cy="202.7" r="3.6"/><circle class="s19" cx="220.8" cy="253.2" r="3.5"/><circle class="s19" cx="174.9" cy="217.1" r="3.4"/><circle class="s6" cx="192.8" cy="234.2" r="3.6"/><circle class="s19" cx="184.2" cy="197.9" r="3.5"/><circle class="s19" cx="217" cy="238" r="3.6"/><circle class="s19" cx="193" cy="216.1" r="3.3"/><circle class="s19" cx="205.6" cy="242" r="3.2"/><circle class="s19" cx="233.2" cy="234" r="3.6"/><circle class="s6" cx="190.2" cy="236.4" r="3.5"/><circle class="s6" cx="214.7" cy="251.8" r="3.6"/><circle class="s19" cx="224.8" cy="231.9" r="3.4"/><circle class="s19" cx="225.4" cy="237.6" r="3.3"/><circle class="s19" cx="177.3" cy="205.1" r="3.5"/><circle class="s19" cx="181.1" cy="197" r="3.4"/><circle class="s19" cx="183.3" cy="244" r="3.5"/><circle class="s6" cx="172.5" cy="202.2" r="3.6"/><circle class="s19" cx="186.6" cy="240.9" r="3.6"/><circle class="s19" cx="178.3" cy="223.2" r="3.4"/><circle class="s19" cx="214.5" cy="244.6" r="3.2"/><circle class="s6" cx="183.4" cy="212.7" r="3.2"/><circle class="s6" cx="210.3" cy="248.1" r="3.5"/><circle class="s19" cx="183.7" cy="238.7" r="3.5"/><circle class="s6" cx="173.6" cy="209.3" r="3.3"/><circle class="s6" cx="187.2" cy="213.1" r="3.5"/><circle class="s6" cx="235.4" cy="236.6" r="3.3"/><circle class="s19" cx="180.4" cy="205.6" r="3.5"/><circle class="s6" cx="187.3" cy="207.6" r="3.3"/><circle class="s19" cx="226.6" cy="249.5" r="3.3"/><circle class="s19" cx="227.1" cy="240.5" r="3.3"/><circle class="s6" cx="189.6" cy="248" r="3.6"/><circle class="s6" cx="199.9" cy="247.6" r="3.3"/><circle class="s19" cx="218.9" cy="250.4" r="3.5"/><circle class="s19" cx="213.8" cy="238.5" r="3.5"/><circle class="s19" cx="219.4" cy="230.9" r="3.4"/><circle class="s6" cx="205.6" cy="236.8" r="3.4"/><circle class="s19" cx="194.5" cy="240.1" r="3.6"/><circle class="s19" cx="179" cy="202.4" r="3.2"/><circle class="s19" cx="220.9" cy="240.6" r="3.5"/><circle class="s6" cx="186.6" cy="245.9" r="3.6"/><circle class="s19" cx="189" cy="204.3" r="3.6"/><circle class="s6" cx="219.1" cy="235.7" r="3.5"/><circle class="s19" cx="184.4" cy="206.4" r="3.4"/><circle class="s19" cx="188.7" cy="243.2" r="3.5"/><circle class="s19" cx="221.9" cy="224.2" r="3.2"/><circle class="s6" cx="216.1" cy="229.4" r="3.5"/><circle class="s19" cx="205.2" cy="245.1" r="3.5"/><circle class="s19" cx="222.6" cy="243.1" r="3.2"/><circle class="s19" cx="242.5" cy="228.1" r="3.5"/><circle class="s19" cx="217" cy="225.6" r="3.5"/><circle class="s6" cx="221.8" cy="227.8" r="3.6"/><circle class="s19" cx="230.7" cy="226.1" r="3.5"/><circle class="s19" cx="196.1" cy="233.7" r="3.6"/><circle class="s19" cx="180.8" cy="210.2" r="3.4"/><circle class="s6" cx="202.1" cy="245.3" r="3.4"/><circle class="s19" cx="174.3" cy="220.8" r="3.2"/><circle class="s19" cx="242.5" cy="232.7" r="3.5"/><circle class="s19" cx="169.3" cy="209.5" r="3.3"/><circle class="s19" cx="208.4" cy="235.7" r="3.2"/><circle class="s19" cx="210.6" cy="241.6" r="3.5"/><circle class="s6" cx="189.9" cy="214.9" r="3.2"/><circle class="s19" cx="227.7" cy="219.5" r="3.5"/><circle class="s19" cx="202.9" cy="240.6" r="3.5"/><circle class="s19" cx="210.5" cy="245" r="3.4"/><circle class="s19" cx="184.4" cy="220.6" r="3.4"/><circle class="s19" cx="169.8" cy="205.1" r="3.6"/><circle class="s19" cx="239.5" cy="227.5" r="3.2"/><circle class="s19" cx="199.5" cy="238.4" r="3.3"/><circle class="s19" cx="197.3" cy="241.6" r="3.5"/><circle class="s19" cx="209.1" cy="251.1" r="3.3"/><circle class="s6" cx="233.5" cy="230.5" r="3.2"/><circle class="s19" cx="222.1" cy="236.5" r="3.4"/><circle class="s19" cx="238.5" cy="237.3" r="3.2"/><circle class="s19" cx="183.8" cy="216.9" r="3.4"/><circle class="s19" cx="199.5" cy="235.4" r="3.6"/><circle class="s19" cx="227.2" cy="225.5" r="3.5"/><circle class="s19" cx="194.7" cy="206" r="3.2"/><circle class="s6" cx="216.9" cy="241.2" r="3.2"/><circle class="s19" cx="178.7" cy="199.1" r="3.4"/>
</g>
<g id="modelB">
<circle class="s20" cx="324.9" cy="55.5" r="5"/><circle class="s20" cx="356.4" cy="65.5" r="5"/><circle class="s20" cx="339.1" cy="82.1" r="5"/><circle class="s20" cx="344.3" cy="63.5" r="5"/><circle class="s20" cx="330.1" cy="51.9" r="5"/><circle class="s20" cx="341.9" cy="52.2" r="5"/><circle class="s20" cx="353.9" cy="55.6" r="5"/><circle class="s20" cx="351.4" cy="69" r="5"/><circle class="s20" cx="325.4" cy="102" r="5"/><circle class="s20" cx="315" cy="86.4" r="5"/><circle class="s20" cx="320.4" cy="94.2" r="5"/><circle class="s20" cx="329.7" cy="79.7" r="5"/><circle class="s20" cx="335.9" cy="76.8" r="5"/><circle class="s20" cx="329" cy="95.1" r="5"/><circle class="s20" cx="377" cy="70.7" r="5"/><circle class="s20" cx="370.7" cy="67.6" r="5"/><circle class="s20" cx="362.1" cy="79.6" r="5"/><circle class="s20" cx="359.1" cy="88.2" r="5"/><circle class="s20" cx="384.6" cy="64.9" r="5"/><circle class="s20" cx="384.6" cy="81.7" r="5"/><circle class="s20" cx="384.2" cy="88.7" r="5"/><circle class="s20" cx="383.5" cy="64.5" r="5"/><circle class="s20" cx="390.7" cy="64.5" r="5"/><circle class="s20" cx="383.4" cy="81.8" r="5"/><circle class="s20" cx="380.2" cy="87.8" r="5"/><circle class="s20" cx="388.1" cy="93.4" r="5"/><circle class="s20" cx="393" cy="103.6" r="5"/><circle class="s20" cx="397.4" cy="81.1" r="5"/><circle class="s20" cx="405.3" cy="69.2" r="5"/><circle class="s20" cx="417.6" cy="68.9" r="5"/><circle class="s20" cx="423.3" cy="68.6" r="5"/><circle class="s20" cx="425.8" cy="77.2" r="5"/><circle class="s20" cx="403.3" cy="91.4" r="5"/><circle class="s20" cx="397.4" cy="98.1" r="5"/><circle class="s20" cx="416.8" cy="101.5" r="5"/><circle class="s20" cx="403.5" cy="107.6" r="5"/><circle class="s20" cx="424.1" cy="114.7" r="5"/><circle class="s20" cx="413.4" cy="118.2" r="5"/><circle class="s20" cx="432.7" cy="96" r="5"/><circle class="s20" cx="430" cy="124.1" r="5"/><circle class="s20" cx="442.3" cy="126.2" r="5"/><circle class="s20" cx="418.7" cy="132.4" r="5"/><circle class="s20" cx="433.2" cy="135.9" r="5"/><circle class="s20" cx="437.1" cy="142.9" r="5"/><circle class="s20" cx="424.3" cy="147.6" r="5"/><circle class="s20" cx="410.3" cy="143.8" r="5"/><circle class="s20" cx="407.1" cy="149.9" r="5"/><circle class="s20" cx="414.8" cy="156.1" r="5"/><circle class="s20" cx="429.5" cy="151.5" r="5"/><circle class="s20" cx="346" cy="130.5" r="5"/><circle class="s20" cx="329.9" cy="141.8" r="5"/><circle class="s20" cx="358.2" cy="138.2" r="5"/><circle class="s20" cx="367.6" cy="143.8" r="5"/><circle class="s20" cx="336.9" cy="153.3" r="5"/><circle class="s20" cx="348" cy="157.3" r="5"/><circle class="s20" cx="344.3" cy="160.9" r="5"/><circle class="s20" cx="349" cy="168.7" r="5"/><circle class="s20" cx="351.7" cy="172.3" r="5"/><circle class="s20" cx="376.8" cy="160.4" r="5"/><circle class="s20" cx="381.6" cy="177" r="5"/><circle class="s20" cx="363.3" cy="179.9" r="5"/><circle class="s20" cx="368.3" cy="193.1" r="5"/><circle class="s20" cx="378.5" cy="190.2" r="5"/><circle class="s20" cx="374.8" cy="209.3" r="5"/><circle class="s20" cx="382.4" cy="206.8" r="5"/><circle class="s20" cx="376.9" cy="224.4" r="5"/><circle class="s20" cx="386.6" cy="217.1" r="5"/><circle class="s20" cx="403.6" cy="189.2" r="5"/><circle class="s20" cx="412.2" cy="188.4" r="5"/><circle class="s20" cx="401.9" cy="213" r="5"/><circle class="s20" cx="409.4" cy="202.3" r="5"/><circle class="s20" cx="404.9" cy="213.7" r="5"/><circle class="s20" cx="417.5" cy="177.1" r="5"/><circle class="s20" cx="409.7" cy="164.2" r="5"/><circle class="s20" cx="412.1" cy="169.6" r="5"/><circle class="s20" cx="404.3" cy="147.7" r="5"/><circle class="s20" cx="411.8" cy="147.2" r="5"/><circle class="s20" cx="424.6" cy="145.1" r="5"/><circle class="s20" cx="434.6" cy="143.4" r="5"/><circle class="s20" cx="420.3" cy="134.1" r="5"/><circle class="s20" cx="432.9" cy="125.4" r="5"/><circle class="s20" cx="441.7" cy="131.4" r="5"/><circle class="s20" cx="411.1" cy="122" r="5"/><circle class="s20" cx="416.7" cy="153.3" r="5"/><circle class="s20" cx="427.7" cy="157.1" r="5"/><circle class="s21" cx="346.8" cy="49.8" r="5.5"/><circle class="s21" cx="335.7" cy="96.5" r="5"/><circle class="s21" cx="367" cy="61.5" r="5.5"/><circle class="s21" cx="362.1" cy="67.6" r="4.5"/><circle class="s21" cx="378.7" cy="60.9" r="5"/><circle class="s21" cx="383.6" cy="58.4" r="5.5"/><circle class="s21" cx="353.5" cy="79.3" r="6"/><circle class="s21" cx="412.5" cy="63" r="6.8"/><circle class="s21" cx="384.2" cy="57.2" r="6.2"/><circle class="s21" cx="392.5" cy="71.2" r="6.7"/><circle class="s21" cx="391.4" cy="89" r="6.7"/><circle class="s21" cx="449.7" cy="125.8" r="6.7"/><circle class="s21" cx="442.6" cy="138.7" r="6.7"/><circle class="s21" cx="425.9" cy="139.2" r="4.5"/><circle class="s21" cx="335.7" cy="132.3" r="6.7"/><circle class="s21" cx="380.2" cy="201.3" r="5"/><circle class="s21" cx="420.3" cy="161.2" r="6.7"/><circle class="s21" cx="442.6" cy="138.9" r="6.7"/><circle class="s21" cx="449.7" cy="125.6" r="6.7"/><circle class="s22" cx="325.3" cy="51.8" r="5.6"/><circle class="s22" cx="358.3" cy="62.6" r="5.6"/><circle class="s22" cx="341" cy="84.1" r="5.6"/><circle class="s22" cx="342.3" cy="61.9" r="5.6"/><circle class="s22" cx="329.3" cy="51.7" r="5.6"/><circle class="s22" cx="338.6" cy="53.1" r="5.6"/><circle class="s22" cx="354.1" cy="56.6" r="5.6"/><circle class="s22" cx="354.3" cy="70.2" r="5.6"/><circle class="s22" cx="328.6" cy="102.5" r="5.6"/><circle class="s22" cx="315.4" cy="87.5" r="5.6"/><circle class="s22" cx="322.3" cy="94.7" r="5.6"/><circle class="s22" cx="329.5" cy="79.8" r="5.6"/><circle class="s22" cx="335.4" cy="74.2" r="5.6"/><circle class="s22" cx="327.3" cy="98" r="5.6"/><circle class="s22" cx="377.7" cy="74.4" r="5.6"/><circle class="s22" cx="370.1" cy="69.3" r="5.6"/><circle class="s22" cx="364.5" cy="76.9" r="5.6"/><circle class="s22" cx="363" cy="86.3" r="5.6"/><circle class="s22" cx="385.4" cy="64.9" r="5.6"/><circle class="s22" cx="385" cy="79.5" r="5.6"/><circle class="s22" cx="384.3" cy="89.3" r="5.6"/><circle class="s22" cx="385.4" cy="66.9" r="5.6"/><circle class="s22" cx="391.6" cy="63.1" r="5.6"/><circle class="s22" cx="382.9" cy="81.2" r="5.6"/><circle class="s22" cx="381.3" cy="88.1" r="5.6"/><circle class="s22" cx="389.1" cy="97.7" r="5.6"/><circle class="s22" cx="389.5" cy="106" r="5.6"/><circle class="s22" cx="397.2" cy="83.5" r="5.6"/><circle class="s22" cx="401.7" cy="70.8" r="5.6"/><circle class="s22" cx="416.8" cy="71.8" r="5.6"/><circle class="s22" cx="425.4" cy="69.2" r="5.6"/><circle class="s22" cx="425.3" cy="77.9" r="5.6"/><circle class="s22" cx="402.2" cy="88.7" r="5.6"/><circle class="s22" cx="397.2" cy="100.6" r="5.6"/><circle class="s22" cx="414.6" cy="101.9" r="5.6"/><circle class="s22" cx="403.3" cy="107.6" r="5.6"/><circle class="s22" cx="425" cy="111.3" r="5.6"/><circle class="s22" cx="413.8" cy="119.6" r="5.6"/><circle class="s22" cx="434.6" cy="97.7" r="5.6"/><circle class="s22" cx="432.3" cy="125.5" r="5.6"/><circle class="s22" cx="441.8" cy="128.9" r="5.6"/><circle class="s22" cx="420.8" cy="133.9" r="5.6"/><circle class="s22" cx="432.6" cy="136.2" r="5.6"/><circle class="s22" cx="436.8" cy="142.8" r="5.6"/><circle class="s22" cx="424.2" cy="147.3" r="5.6"/><circle class="s22" cx="412.6" cy="145.9" r="5.6"/><circle class="s22" cx="404.4" cy="147.7" r="5.6"/><circle class="s22" cx="417.1" cy="154.3" r="5.6"/><circle class="s22" cx="426.9" cy="153.8" r="5.6"/><circle class="s22" cx="348.2" cy="128.5" r="5.6"/><circle class="s22" cx="331.8" cy="141.7" r="5.6"/><circle class="s22" cx="358.8" cy="139.6" r="5.6"/><circle class="s22" cx="363.9" cy="144.6" r="5.6"/><circle class="s22" cx="337.4" cy="153.2" r="5.6"/><circle class="s22" cx="346.5" cy="156" r="5.6"/><circle class="s22" cx="340.6" cy="160.8" r="5.6"/><circle class="s22" cx="351.6" cy="169.7" r="5.6"/><circle class="s22" cx="351.7" cy="172.1" r="5.6"/><circle class="s22" cx="376.1" cy="159.5" r="5.6"/><circle class="s22" cx="384" cy="176.8" r="5.6"/><circle class="s22" cx="364.5" cy="182.9" r="5.6"/><circle class="s22" cx="370.5" cy="196" r="5.6"/><circle class="s22" cx="378.1" cy="190.7" r="5.6"/><circle class="s22" cx="374" cy="207.4" r="5.6"/><circle class="s22" cx="383.4" cy="207.4" r="5.6"/><circle class="s22" cx="378.3" cy="223.5" r="5.6"/><circle class="s22" cx="389.3" cy="218.1" r="5.6"/><circle class="s22" cx="404.9" cy="186.7" r="5.6"/><circle class="s22" cx="414.7" cy="187.5" r="5.6"/><circle class="s22" cx="403.5" cy="210.4" r="5.6"/><circle class="s22" cx="411.1" cy="203.8" r="5.6"/><circle class="s22" cx="408.4" cy="216" r="5.6"/><circle class="s22" cx="417.2" cy="174" r="5.6"/><circle class="s22" cx="410.8" cy="165.2" r="5.6"/><circle class="s22" cx="411.8" cy="166.7" r="5.6"/><circle class="s22" cx="404.9" cy="147.3" r="5.6"/><circle class="s22" cx="412.2" cy="144.4" r="5.6"/><circle class="s22" cx="423.6" cy="144.7" r="5.6"/><circle class="s22" cx="435.1" cy="145.1" r="5.6"/><circle class="s22" cx="419.6" cy="131.5" r="5.6"/><circle class="s22" cx="431.5" cy="128" r="5.6"/><circle class="s22" cx="441.5" cy="131.8" r="5.6"/><circle class="s22" cx="412.6" cy="120.7" r="5.6"/><circle class="s22" cx="414.8" cy="156.8" r="5.6"/><circle class="s22" cx="426.1" cy="156.9" r="5.6"/><circle class="s23" cx="324" cy="58.8" r="5.9"/><circle class="s23" cx="328.6" cy="56.9" r="5.9"/><circle class="s23" cx="355.4" cy="60.6" r="5.9"/><circle class="s23" cx="355.1" cy="67" r="5.9"/><circle class="s23" cx="334.8" cy="82.4" r="5.9"/><circle class="s23" cx="338.1" cy="79.3" r="5.9"/><circle class="s23" cx="340.9" cy="57.8" r="5.9"/><circle class="s23" cx="347.4" cy="60.2" r="5.9"/><circle class="s23" cx="347.1" cy="66.7" r="5.9"/><circle class="s23" cx="337.2" cy="61.8" r="5.9"/><circle class="s23" cx="335.1" cy="51.3" r="5.9"/><circle class="s23" cx="331.4" cy="55.3" r="5.9"/><circle class="s23" cx="336.3" cy="56.3" r="5.9"/><circle class="s23" cx="352.6" cy="63.6" r="5.9"/><circle class="s23" cx="324.1" cy="99.6" r="5.9"/><circle class="s23" cx="319.1" cy="91" r="5.9"/><circle class="s23" cx="323.5" cy="84.2" r="5.9"/><circle class="s23" cx="317.6" cy="81.5" r="5.9"/><circle class="s23" cx="333" cy="78.7" r="5.9"/><circle class="s23" cx="323.8" cy="79" r="5.9"/><circle class="s23" cx="380.6" cy="69.5" r="5.9"/><circle class="s23" cx="380.6" cy="76.8" r="5.9"/><circle class="s23" cx="381.1" cy="69.4" r="5.9"/><circle class="s23" cx="381.1" cy="76.7" r="5.9"/><circle class="s23" cx="367.6" cy="74.1" r="5.9"/><circle class="s23" cx="377.5" cy="67.9" r="5.9"/><circle class="s23" cx="362.8" cy="82.7" r="5.9"/><circle class="s23" cx="388" cy="65.2" r="5.9"/><circle class="s23" cx="383" cy="84.8" r="5.9"/><circle class="s23" cx="383" cy="84.8" r="5.9"/><circle class="s23" cx="383.5" cy="84.6" r="5.9"/><circle class="s23" cx="385.8" cy="92.4" r="5.9"/><circle class="s23" cx="388.6" cy="65.1" r="5.9"/><circle class="s23" cx="398" cy="67.9" r="5.9"/><circle class="s23" cx="383.6" cy="84.6" r="5.9"/><circle class="s23" cx="385.8" cy="92.4" r="5.9"/><circle class="s23" cx="390.2" cy="100.7" r="5.9"/><circle class="s23" cx="392.5" cy="98" r="5.9"/><circle class="s23" cx="398" cy="106.3" r="5.9"/><circle class="s23" cx="400.8" cy="76.8" r="5.9"/><circle class="s23" cx="400.8" cy="86.3" r="5.9"/><circle class="s23" cx="409.7" cy="70.7" r="5.9"/><circle class="s23" cx="407.5" cy="75.7" r="5.9"/><circle class="s23" cx="419.8" cy="70.1" r="5.9"/><circle class="s23" cx="420.3" cy="74.6" r="5.9"/><circle class="s23" cx="413.6" cy="75.1" r="5.9"/><circle class="s23" cx="424.2" cy="74.6" r="5.9"/><circle class="s23" cx="418.1" cy="79.6" r="5.9"/><circle class="s23" cx="399.7" cy="95.2" r="5.9"/><circle class="s23" cx="407.5" cy="85.1" r="5.9"/><circle class="s23" cx="400.3" cy="103.5" r="5.9"/><circle class="s23" cx="409.7" cy="103.5" r="5.9"/><circle class="s23" cx="430.1" cy="95.2" r="5.9"/><circle class="s23" cx="435.6" cy="101.9" r="5.9"/><circle class="s23" cx="435.4" cy="126.9" r="5.9"/><circle class="s23" cx="425.9" cy="129.2" r="5.9"/><circle class="s23" cx="432" cy="130.3" r="5.9"/><circle class="s23" cx="425.9" cy="129" r="5.9"/><circle class="s23" cx="435.9" cy="127.9" r="5.9"/><circle class="s23" cx="437" cy="131.4" r="5.9"/><circle class="s23" cx="435.9" cy="127.4" r="5.9"/><circle class="s23" cx="442" cy="122.5" r="5.9"/><circle class="s23" cx="427.6" cy="133.6" r="5.9"/><circle class="s23" cx="426.4" cy="129.6" r="5.9"/><circle class="s23" cx="435.9" cy="139.2" r="5.9"/><circle class="s23" cx="433.7" cy="139.6" r="5.9"/><circle class="s23" cx="427.6" cy="133.5" r="5.9"/><circle class="s23" cx="432.6" cy="130.7" r="5.9"/><circle class="s23" cx="437.6" cy="132.4" r="5.9"/><circle class="s23" cx="433.1" cy="148.1" r="5.9"/><circle class="s23" cx="417.5" cy="145.3" r="5.9"/><circle class="s23" cx="419.8" cy="149.8" r="5.9"/><circle class="s23" cx="425.9" cy="149.2" r="5.9"/><circle class="s23" cx="418.1" cy="145.7" r="5.9"/><circle class="s23" cx="428.7" cy="145.2" r="5.9"/><circle class="s23" cx="419.8" cy="150.8" r="5.9"/><circle class="s23" cx="425.3" cy="150.8" r="5.9"/><circle class="s23" cx="408.1" cy="147" r="5.9"/><circle class="s23" cx="413.6" cy="149.2" r="5.9"/><circle class="s23" cx="408.1" cy="146.9" r="5.9"/><circle class="s23" cx="417.5" cy="145.7" r="5.9"/><circle class="s23" cx="413.6" cy="150.2" r="5.9"/><circle class="s23" cx="410.3" cy="151.4" r="5.9"/><circle class="s23" cx="408.6" cy="147.4" r="5.9"/><circle class="s23" cx="410.3" cy="152.4" r="5.9"/><circle class="s23" cx="422" cy="153.1" r="5.9"/><circle class="s23" cx="410.3" cy="151.3" r="5.9"/><circle class="s23" cx="414.2" cy="149.6" r="5.9"/><circle class="s23" cx="419.8" cy="150.2" r="5.9"/><circle class="s23" cx="421.4" cy="154.7" r="5.9"/><circle class="s23" cx="430.9" cy="148.5" r="5.9"/><circle class="s23" cx="422" cy="154.1" r="5.9"/><circle class="s23" cx="345.5" cy="133.9" r="5.9"/><circle class="s23" cx="335.1" cy="147.9" r="5.9"/><circle class="s23" cx="337.1" cy="140.6" r="5.9"/><circle class="s23" cx="362.9" cy="141.7" r="5.9"/><circle class="s23" cx="356.8" cy="142.3" r="5.9"/><circle class="s23" cx="359.6" cy="145.1" r="5.9"/><circle class="s23" cx="343.4" cy="154" r="5.9"/><circle class="s23" cx="340.7" cy="156.8" r="5.9"/><circle class="s23" cx="345.1" cy="158.4" r="5.9"/><circle class="s23" cx="350.7" cy="150.6" r="5.9"/><circle class="s23" cx="346.2" cy="165.1" r="5.9"/><circle class="s23" cx="356.6" cy="167.3" r="5.9"/><circle class="s23" cx="358.3" cy="168.5" r="5.9"/><circle class="s23" cx="368.9" cy="162.9" r="5.9"/><circle class="s23" cx="376.3" cy="177.4" r="5.9"/><circle class="s23" cx="374.1" cy="193.5" r="5.9"/><circle class="s23" cx="378.5" cy="209.1" r="5.9"/><circle class="s23" cx="376.9" cy="214.1" r="5.9"/><circle class="s23" cx="385.8" cy="213.6" r="5.9"/><circle class="s23" cx="381.9" cy="214.1" r="5.9"/><circle class="s23" cx="382.4" cy="220.3" r="5.9"/><circle class="s23" cx="381.9" cy="225.8" r="5.9"/><circle class="s23" cx="384.1" cy="218.6" r="5.9"/><circle class="s23" cx="387.5" cy="223.6" r="5.9"/><circle class="s23" cx="409.2" cy="187.4" r="5.9"/><circle class="s23" cx="408.6" cy="193" r="5.9"/><circle class="s23" cx="415.9" cy="181.3" r="5.9"/><circle class="s23" cx="413.1" cy="192.4" r="5.9"/><circle class="s23" cx="418.4" cy="188.9" r="5.9"/><circle class="s23" cx="405.8" cy="207.5" r="5.9"/><circle class="s23" cx="408.1" cy="209.1" r="5.9"/><circle class="s23" cx="414.8" cy="203.6" r="5.9"/><circle class="s23" cx="411.6" cy="216" r="5.9"/><circle class="s23" cx="413.6" cy="170.7" r="5.9"/><circle class="s23" cx="414.8" cy="171.8" r="5.9"/><circle class="s23" cx="424" cy="178.5" r="5.9"/><circle class="s23" cx="423.3" cy="171.8" r="5.9"/><circle class="s23" cx="412.5" cy="160.7" r="5.9"/><circle class="s23" cx="413.6" cy="161.8" r="5.9"/><circle class="s23" cx="408.6" cy="147.3" r="5.9"/><circle class="s23" cx="410.3" cy="152.3" r="5.9"/><circle class="s23" cx="418.1" cy="146.2" r="5.9"/><circle class="s23" cx="414.2" cy="150.6" r="5.9"/><circle class="s23" cx="428.7" cy="145.6" r="5.9"/><circle class="s23" cx="419.8" cy="151.2" r="5.9"/><circle class="s23" cx="425.3" cy="151.2" r="5.9"/><circle class="s23" cx="430.3" cy="150.1" r="5.9"/><circle class="s23" cx="426.4" cy="129.5" r="5.9"/><circle class="s23" cx="417" cy="127.2" r="5.9"/><circle class="s23" cx="436.5" cy="128.4" r="5.9"/><circle class="s23" cx="442.6" cy="123.5" r="5.9"/><circle class="s23" cx="421.4" cy="155.7" r="5.9"/><circle class="s23" cx="427.8" cy="161.8" r="5.9"/><circle class="s23" cx="320.6" cy="70.1" r="5.9"/><circle class="s23" cx="328" cy="62.1" r="5.9"/><circle class="s23" cx="440.6" cy="111.9" r="5.9"/><circle class="s23" cx="348.2" cy="141.7" r="5.9"/><circle class="s23" cx="366.6" cy="171.2" r="5.9"/><circle class="s23" cx="383.6" cy="224.2" r="5.9"/><circle class="s23" cx="392.5" cy="230.1" r="5.9"/><circle class="s23" cx="403.6" cy="229.5" r="5.9"/><circle class="s23" cx="412.7" cy="222.7" r="5.9"/><circle class="s23" cx="416.4" cy="200.8" r="5.9"/><circle class="s23" cx="421.8" cy="197.2" r="5.9"/><circle class="s23" cx="417.9" cy="194.4" r="5.9"/><circle class="s23" cx="426.6" cy="186.1" r="5.9"/><circle class="s23" cx="429.2" cy="174.6" r="5.9"/><circle class="s24" cx="324.7" cy="53.5" r="5"/><circle class="s24" cx="357.8" cy="64" r="5"/><circle class="s24" cx="340" cy="83" r="5"/><circle class="s24" cx="341.9" cy="63.3" r="6.5"/><circle class="s24" cx="330.2" cy="50.4" r="6"/><circle class="s24" cx="340" cy="52.3" r="6.5"/><circle class="s24" cx="352.9" cy="57.2" r="6.2"/><circle class="s24" cx="352.3" cy="70.1" r="6.2"/><circle class="s24" cx="327.1" cy="103.9" r="5.5"/><circle class="s24" cx="317.3" cy="86.7" r="6.5"/><circle class="s24" cx="321" cy="95.3" r="6.5"/><circle class="s24" cx="329.6" cy="81.8" r="6.8"/><circle class="s24" cx="336.3" cy="75.6" r="7.2"/><circle class="s24" cx="327.7" cy="96.5" r="6.8"/><circle class="s24" cx="377.5" cy="73.2" r="5.5"/><circle class="s24" cx="371.3" cy="70.1" r="5.8"/><circle class="s24" cx="364" cy="78.1" r="5.5"/><circle class="s24" cx="361.5" cy="87.3" r="6"/><circle class="s24" cx="383.6" cy="65.8" r="6"/><circle class="s24" cx="383.6" cy="80.5" r="6"/><circle class="s24" cx="382.4" cy="89.1" r="6"/><circle class="s24" cx="384.7" cy="65.7" r="5.8"/><circle class="s24" cx="392.5" cy="64.5" r="5.6"/><circle class="s24" cx="384.7" cy="80.1" r="6.6"/><circle class="s24" cx="382.4" cy="89" r="6.9"/><circle class="s24" cx="389.1" cy="95.7" r="7.3"/><circle class="s24" cx="391.4" cy="105.8" r="6.8"/><circle class="s24" cx="398" cy="82.4" r="7.1"/><circle class="s24" cx="403.6" cy="71.2" r="6.6"/><circle class="s24" cx="415.9" cy="70.1" r="7.1"/><circle class="s24" cx="423.7" cy="70.1" r="7.1"/><circle class="s24" cx="424.8" cy="79" r="7"/><circle class="s24" cx="403.6" cy="90.2" r="6.9"/><circle class="s24" cx="395.8" cy="100.2" r="6.9"/><circle class="s24" cx="414.8" cy="100.2" r="7"/><circle class="s24" cx="404.7" cy="106.9" r="7.2"/><circle class="s24" cx="424.8" cy="112.4" r="6.6"/><circle class="s24" cx="412.5" cy="119.1" r="6.6"/><circle class="s24" cx="433.7" cy="96.8" r="7.1"/><circle class="s24" cx="430.3" cy="125.8" r="7.2"/><circle class="s24" cx="440.4" cy="128" r="6.9"/><circle class="s24" cx="421.4" cy="132.5" r="6.9"/><circle class="s24" cx="433.7" cy="134.7" r="7.1"/><circle class="s24" cx="438.1" cy="143.6" r="6.6"/><circle class="s24" cx="423.7" cy="145.9" r="6.7"/><circle class="s24" cx="411.4" cy="144.8" r="6.7"/><circle class="s24" cx="404.7" cy="149.2" r="7"/><circle class="s24" cx="415.9" cy="153.7" r="6.8"/><circle class="s24" cx="428.1" cy="152.5" r="6.7"/><circle class="s24" cx="347.9" cy="130" r="7.1"/><circle class="s24" cx="331.2" cy="143.4" r="7.3"/><circle class="s24" cx="360.2" cy="138.9" r="6.7"/><circle class="s24" cx="365.7" cy="144.5" r="7.1"/><circle class="s24" cx="339" cy="152.3" r="6.8"/><circle class="s24" cx="347.9" cy="155.7" r="7.2"/><circle class="s24" cx="342.3" cy="161.2" r="7"/><circle class="s24" cx="350.1" cy="169" r="6.7"/><circle class="s24" cx="353.5" cy="171.2" r="6.7"/><circle class="s24" cx="374.6" cy="160.1" r="6.5"/><circle class="s24" cx="382.4" cy="177.9" r="6.9"/><circle class="s24" cx="364.6" cy="181.3" r="6.8"/><circle class="s24" cx="369.1" cy="194.6" r="6.6"/><circle class="s24" cx="379.1" cy="192.4" r="6.8"/><circle class="s24" cx="373.5" cy="209.1" r="6.8"/><circle class="s24" cx="383.6" cy="209.1" r="7.1"/><circle class="s24" cx="376.9" cy="222.5" r="6.6"/><circle class="s24" cx="388" cy="218" r="7.3"/><circle class="s24" cx="404.7" cy="188" r="6.9"/><circle class="s24" cx="413.6" cy="186.8" r="7"/><circle class="s24" cx="402.5" cy="211.4" r="6.9"/><circle class="s24" cx="409.2" cy="203.6" r="7.2"/><circle class="s24" cx="407" cy="214.7" r="7.2"/><circle class="s24" cx="418.1" cy="175.7" r="6.9"/><circle class="s24" cx="409.2" cy="165.7" r="6.9"/><circle class="s24" cx="411.4" cy="167.9" r="7.1"/><circle class="s24" cx="404.7" cy="149" r="7.2"/><circle class="s24" cx="412.5" cy="145.6" r="6.8"/><circle class="s24" cx="423.7" cy="146.7" r="7.1"/><circle class="s24" cx="433.7" cy="144.5" r="7.3"/><circle class="s24" cx="421.4" cy="132.3" r="6.9"/><circle class="s24" cx="431.5" cy="126.7" r="6.7"/><circle class="s24" cx="441.5" cy="130" r="6.7"/><circle class="s24" cx="412.5" cy="122.2" r="7.1"/><circle class="s24" cx="415.9" cy="155.7" r="7"/><circle class="s24" cx="427" cy="155.7" r="7.3"/><circle class="s21" cx="317.9" cy="76.2" r="7"/><circle class="s21" cx="323.4" cy="64" r="6.8"/><circle class="s21" cx="332.6" cy="60.3" r="6.8"/><circle class="s21" cx="411.4" cy="80.1" r="7.4"/><circle class="s21" cx="426.6" cy="93.5" r="7.1"/><circle class="s21" cx="437.5" cy="106.9" r="7.1"/><circle class="s21" cx="443.7" cy="116.9" r="7.1"/><circle class="s21" cx="343" cy="137.8" r="7.1"/><circle class="s21" cx="353.5" cy="145.6" r="7.1"/><circle class="s21" cx="363.1" cy="165.7" r="7.1"/><circle class="s21" cx="370.2" cy="176.8" r="7.1"/><circle class="s21" cx="380.2" cy="219.2" r="7.1"/><circle class="s21" cx="386.9" cy="229.2" r="7.1"/><circle class="s21" cx="398" cy="231" r="7.1"/><circle class="s21" cx="409.2" cy="228.1" r="7.1"/><circle class="s21" cx="416.3" cy="217.4" r="7.1"/><circle class="s21" cx="420.3" cy="203.6" r="7.1"/><circle class="s21" cx="412.5" cy="198" r="7.1"/><circle class="s21" cx="423.2" cy="190.9" r="7.1"/><circle class="s21" cx="429.9" cy="181.3" r="7.1"/><circle class="s21" cx="428.6" cy="167.9" r="7.1"/>
</g>
<g id="panelC">
<path d="M527,81 C532,72.5 543,69.5 553,73.5 C563,78 573,88 583,100 C592,111.5 599,124 600.5,140 C601.5,156 598,170 592,180 C586,189.5 577,196.5 566.5,198.5" stroke="#CED7B0" stroke-width="20" fill="none" stroke-linecap="round"/>
<circle class="s25" cx="529" cy="80.5" r="7.2"/>
<circle class="s26" cx="545.8" cy="88.4" r="9.3"/>
<circle class="s27" cx="571" cy="107.4" r="9.1"/>
<circle class="s25" cx="601.6" cy="148.4" r="9.3"/>
<circle class="s28" cx="580.5" cy="161" r="9.3"/>
<circle class="s29" cx="572" cy="168.4" r="9.5"/>
<circle class="s25" cx="569" cy="195.8" r="9.3"/>
<circle class="s25" cx="594.2" cy="173.7" r="9.7"/>
<circle class="s25" cx="543.7" cy="71.6" r="9.7"/>
<circle class="s25" cx="573.2" cy="88.4" r="9.7"/>
<circle class="s25" cx="591" cy="109.8" r="9.7"/>
<circle class="s25" cx="602.6" cy="124.2" r="9.9"/>
<circle class="s30" cx="510.4" cy="89.5" r="9.9"/>
<circle class="s30" cx="510" cy="113.2" r="9.9"/>
<circle class="s30" cx="522.6" cy="102.6" r="10.3"/>
<circle class="s30" cx="531.5" cy="115.8" r="10.3"/>
<circle class="s30" cx="544.7" cy="104.6" r="10.5"/>
<circle class="s30" cx="533.6" cy="83.2" r="10.3"/>
<circle class="s30" cx="559.5" cy="90.5" r="10.5"/>
<circle class="s30" cx="553.2" cy="133.7" r="9.9"/>
<circle class="s30" cx="554.2" cy="126.6" r="9.5"/>
<circle class="s30" cx="578.4" cy="111.6" r="10.3"/>
<circle class="s30" cx="579.5" cy="129.5" r="9.7"/>
<circle class="s30" cx="592.1" cy="135.8" r="10.5"/>
<circle class="s30" cx="606.8" cy="141" r="10.1"/>
<circle class="s30" cx="567.9" cy="164.2" r="10.1"/>
<circle class="s30" cx="591" cy="156.8" r="10.3"/>
<circle class="s30" cx="594.2" cy="184.2" r="10.3"/>
<circle class="s30" cx="577.4" cy="192.6" r="10.7"/>
<path d="M584.2,110.6 C574,110 569.5,118 565.5,125.5 C562,132 558.6,136.6 555.2,136.4 C550.2,136 551,127.4 554.2,120.6 C556.4,116 559.6,111.6 562.4,109.4 C559.4,111.2 555.6,115.8 553.2,120.6 C549.4,128.4 549.2,137.6 555.2,137.8 C560.4,138 563.6,133.4 567.2,126.8 C571.4,119.2 575.6,113.6 584.2,113.6 Z" fill="#0a0a0a" stroke="#0a0a0a" stroke-width="0.7" stroke-linejoin="round"/>
<rect x="640.6" y="110.4" width="2.6" height="37.8" fill="#2a2a2a"/>
<clipPath id="clipC"><polygon points="652.6,39.3 747.2,133.9 652.6,228.6"/></clipPath><g clip-path="url(#clipC)" shape-rendering="crispEdges"><rect x="652.6" y="39.3" width="95.7" height="189.3" fill="#E81000"/><path d="M649.3,42.45L652.6,39.15L655.9,42.45L652.6,45.76Z" fill="#FFEE2B"/><path d="M652.45,45.61L655.75,42.3L659.06,45.61L655.75,48.91Z" fill="#FFC512"/><path d="M655.61,48.77L658.91,45.46L662.21,48.77L658.91,52.07Z" fill="#FFBA0E"/><path d="M658.76,51.92L662.07,48.62L665.37,51.92L662.07,55.23Z" fill="#FF8701"/><path d="M661.92,55.08L665.22,51.77L668.52,55.08L665.22,58.38Z" fill="#FF8E02"/><path d="M665.07,58.23L668.38,54.92L671.68,58.23L668.38,61.53Z" fill="#FF7300"/><path d="M668.23,61.38L671.53,58.08L674.83,61.38L671.53,64.69Z" fill="#FF6200"/><path d="M671.38,64.54L674.69,61.23L677.99,64.54L674.69,67.84Z" fill="#FF6700"/><path d="M674.54,67.69L677.84,64.39L681.14,67.69L677.84,71Z" fill="#FF4E00"/><path d="M677.69,70.85L681,67.54L684.3,70.85L681,74.16Z" fill="#FF5500"/><path d="M680.85,74L684.15,70.7L687.45,74L684.15,77.31Z" fill="#FF4900"/><path d="M684,77.16L687.31,73.85L690.61,77.16L687.31,80.47Z" fill="#FD3B00"/><path d="M687.16,80.31L690.46,77.01L693.76,80.31L690.46,83.62Z" fill="#FE3E00"/><path d="M690.31,83.47L693.62,80.16L696.92,83.47L693.62,86.78Z" fill="#FD3400"/><path d="M693.47,86.62L696.77,83.32L700.07,86.62L696.77,89.93Z" fill="#F92700"/><path d="M696.62,89.78L699.93,86.47L703.23,89.78L699.93,93.09Z" fill="#F11800"/><path d="M699.78,92.94L703.08,89.63L706.38,92.94L703.08,96.24Z" fill="#F21900"/><path d="M702.93,96.09L706.24,92.78L709.54,96.09L706.24,99.4Z" fill="#F01600"/><path d="M706.09,99.25L709.39,95.94L712.69,99.25L709.39,102.55Z" fill="#DC0700"/><path d="M709.24,102.4L712.55,99.09L715.85,102.4L712.55,105.71Z" fill="#EB1000"/><path d="M712.4,105.56L715.7,102.25L719,105.56L715.7,108.86Z" fill="#CD0000"/><path d="M715.55,108.71L718.86,105.41L722.16,108.71L718.86,112.02Z" fill="#D40200"/><path d="M718.71,111.87L722.01,108.56L725.31,111.87L722.01,115.17Z" fill="#D50300"/><path d="M721.86,115.02L725.17,111.71L728.47,115.02L725.17,118.33Z" fill="#D10100"/><path d="M725.02,118.17L728.32,114.87L731.62,118.17L728.32,121.48Z" fill="#B30002"/><path d="M728.17,121.33L731.48,118.02L734.78,121.33L731.48,124.64Z" fill="#B20003"/><path d="M731.33,124.48L734.63,121.18L737.93,124.48L734.63,127.79Z" fill="#B80002"/><path d="M734.48,127.64L737.79,124.33L741.09,127.64L737.79,130.94Z" fill="#A40004"/><path d="M737.64,130.8L740.94,127.49L744.25,130.8L740.94,134.1Z" fill="#970006"/><path d="M740.79,133.95L744.1,130.64L747.4,133.95L744.1,137.25Z" fill="#9F0004"/><path d="M649.3,48.77L652.6,45.46L655.9,48.77L652.6,52.07Z" fill="#FFE724"/><path d="M652.45,51.92L655.75,48.62L659.06,51.92L655.75,55.23Z" fill="#FFCD15"/><path d="M655.61,55.08L658.91,51.77L662.21,55.08L658.91,58.38Z" fill="#FFB30C"/><path d="M658.76,58.23L662.07,54.92L665.37,58.23L662.07,61.53Z" fill="#FFA307"/><path d="M661.92,61.38L665.22,58.08L668.52,61.38L665.22,64.69Z" fill="#FF8401"/><path d="M665.07,64.54L668.38,61.23L671.68,64.54L668.38,67.84Z" fill="#FF6F00"/><path d="M668.23,67.69L671.53,64.39L674.83,67.69L671.53,71Z" fill="#FF7A01"/><path d="M671.38,70.85L674.69,67.54L677.99,70.85L674.69,74.16Z" fill="#FF5700"/><path d="M674.54,74L677.84,70.7L681.14,74L677.84,77.31Z" fill="#FF5B00"/><path d="M677.69,77.16L681,73.85L684.3,77.16L681,80.47Z" fill="#FF6000"/><path d="M680.85,80.31L684.15,77.01L687.45,80.31L684.15,83.62Z" fill="#FE4400"/><path d="M684,83.47L687.31,80.16L690.61,83.47L687.31,86.78Z" fill="#FE4700"/><path d="M687.16,86.62L690.46,83.32L693.76,86.62L690.46,89.93Z" fill="#F92600"/><path d="M690.31,89.78L693.62,86.47L696.92,89.78L693.62,93.09Z" fill="#FD3B00"/><path d="M693.47,92.94L696.77,89.63L700.07,92.94L696.77,96.24Z" fill="#FA2800"/><path d="M696.62,96.09L699.93,92.78L703.23,96.09L699.93,99.4Z" fill="#F41C00"/><path d="M699.78,99.25L703.08,95.94L706.38,99.25L703.08,102.55Z" fill="#F62000"/><path d="M702.93,102.4L706.24,99.09L709.54,102.4L706.24,105.71Z" fill="#E90F00"/><path d="M706.09,105.56L709.39,102.25L712.69,105.56L709.39,108.86Z" fill="#E90F00"/><path d="M709.24,108.71L712.55,105.41L715.85,108.71L712.55,112.02Z" fill="#EA1000"/><path d="M712.4,111.87L715.7,108.56L719,111.87L715.7,115.17Z" fill="#D90500"/><path d="M715.55,115.02L718.86,111.71L722.16,115.02L718.86,118.33Z" fill="#D50300"/><path d="M718.71,118.17L722.01,114.87L725.31,118.17L722.01,121.48Z" fill="#D40200"/><path d="M721.86,121.33L725.17,118.02L728.47,121.33L725.17,124.64Z" fill="#D50300"/><path d="M725.02,124.48L728.32,121.18L731.62,124.48L728.32,127.79Z" fill="#BE0002"/><path d="M728.17,127.64L731.48,124.33L734.78,127.64L731.48,130.94Z" fill="#AB0003"/><path d="M731.33,130.8L734.63,127.49L737.93,130.8L734.63,134.1Z" fill="#82000A"/><path d="M734.48,133.95L737.79,130.64L741.09,133.95L737.79,137.25Z" fill="#8E0008"/><path d="M737.64,137.11L740.94,133.8L744.25,137.11L740.94,140.41Z" fill="#8C0008"/><path d="M649.3,55.08L652.6,51.77L655.9,55.08L652.6,58.38Z" fill="#FFE926"/><path d="M652.45,58.23L655.75,54.92L659.06,58.23L655.75,61.53Z" fill="#FFD91A"/><path d="M655.61,61.38L658.91,58.08L662.21,61.38L658.91,64.69Z" fill="#FFB20C"/><path d="M658.76,64.54L662.07,61.23L665.37,64.54L662.07,67.84Z" fill="#FF8B02"/><path d="M661.92,67.69L665.22,64.39L668.52,67.69L665.22,71Z" fill="#FF8201"/><path d="M665.07,70.85L668.38,67.54L671.68,70.85L668.38,74.16Z" fill="#FF8301"/><path d="M668.23,74L671.53,70.7L674.83,74L671.53,77.31Z" fill="#FF7200"/><path d="M671.38,77.16L674.69,73.85L677.99,77.16L674.69,80.47Z" fill="#FF7000"/><path d="M674.54,80.31L677.84,77.01L681.14,80.31L677.84,83.62Z" fill="#FF5F00"/><path d="M677.69,83.47L681,80.16L684.3,83.47L681,86.78Z" fill="#FF5600"/><path d="M680.85,86.62L684.15,83.32L687.45,86.62L684.15,89.93Z" fill="#FF4E00"/><path d="M684,89.78L687.31,86.47L690.61,89.78L687.31,93.09Z" fill="#FE4800"/><path d="M687.16,92.94L690.46,89.63L693.76,92.94L690.46,96.24Z" fill="#FF4F00"/><path d="M690.31,96.09L693.62,92.78L696.92,96.09L693.62,99.4Z" fill="#F72300"/><path d="M693.47,99.25L696.77,95.94L700.07,99.25L696.77,102.55Z" fill="#F31B00"/><path d="M696.62,102.4L699.93,99.09L703.23,102.4L699.93,105.71Z" fill="#F21A00"/><path d="M699.78,105.56L703.08,102.25L706.38,105.56L703.08,108.86Z" fill="#E80E00"/><path d="M702.93,108.71L706.24,105.41L709.54,108.71L706.24,112.02Z" fill="#EE1200"/><path d="M706.09,111.87L709.39,108.56L712.69,111.87L709.39,115.17Z" fill="#E20B00"/><path d="M709.24,115.02L712.55,111.71L715.85,115.02L712.55,118.33Z" fill="#DC0700"/><path d="M712.4,118.17L715.7,114.87L719,118.17L715.7,121.48Z" fill="#E80E00"/><path d="M715.55,121.33L718.86,118.02L722.16,121.33L718.86,124.64Z" fill="#D70400"/><path d="M718.71,124.48L722.01,121.18L725.31,124.48L722.01,127.79Z" fill="#C30001"/><path d="M721.86,127.64L725.17,124.33L728.47,127.64L725.17,130.94Z" fill="#D20100"/><path d="M725.02,130.8L728.32,127.49L731.62,130.8L728.32,134.1Z" fill="#C90001"/><path d="M728.17,133.95L731.48,130.64L734.78,133.95L731.48,137.25Z" fill="#B10003"/><path d="M731.33,137.11L734.63,133.8L737.93,137.11L734.63,140.41Z" fill="#9A0005"/><path d="M734.48,140.26L737.79,136.95L741.09,140.26L737.79,143.56Z" fill="#70000E"/><path d="M649.3,61.38L652.6,58.08L655.9,61.38L652.6,64.69Z" fill="#FFE825"/><path d="M652.45,64.54L655.75,61.23L659.06,64.54L655.75,67.84Z" fill="#FFD217"/><path d="M655.61,67.69L658.91,64.39L662.21,67.69L658.91,71Z" fill="#FFAF0B"/><path d="M658.76,70.85L662.07,67.54L665.37,70.85L662.07,74.16Z" fill="#FF8601"/><path d="M661.92,74L665.22,70.7L668.52,74L665.22,77.31Z" fill="#FF7D01"/><path d="M665.07,77.16L668.38,73.85L671.68,77.16L668.38,80.47Z" fill="#FF7000"/><path d="M668.23,80.31L671.53,77.01L674.83,80.31L671.53,83.62Z" fill="#FF6B00"/><path d="M671.38,83.47L674.69,80.16L677.99,83.47L674.69,86.78Z" fill="#FF6D00"/><path d="M674.54,86.62L677.84,83.32L681.14,86.62L677.84,89.93Z" fill="#FF5900"/><path d="M677.69,89.78L681,86.47L684.3,89.78L681,93.09Z" fill="#FF6600"/><path d="M680.85,92.94L684.15,89.63L687.45,92.94L684.15,96.24Z" fill="#FF4E00"/><path d="M684,96.09L687.31,92.78L690.61,96.09L687.31,99.4Z" fill="#FE4500"/><path d="M687.16,99.25L690.46,95.94L693.76,99.25L690.46,102.55Z" fill="#FC2F00"/><path d="M690.31,102.4L693.62,99.09L696.92,102.4L693.62,105.71Z" fill="#FA2800"/><path d="M693.47,105.56L696.77,102.25L700.07,105.56L696.77,108.86Z" fill="#F92600"/><path d="M696.62,108.71L699.93,105.41L703.23,108.71L699.93,112.02Z" fill="#EC1100"/><path d="M699.78,111.87L703.08,108.56L706.38,111.87L703.08,115.17Z" fill="#F62000"/><path d="M702.93,115.02L706.24,111.71L709.54,115.02L706.24,118.33Z" fill="#EF1400"/><path d="M706.09,118.17L709.39,114.87L712.69,118.17L709.39,121.48Z" fill="#CE0000"/><path d="M709.24,121.33L712.55,118.02L715.85,121.33L712.55,124.64Z" fill="#E40C00"/><path d="M712.4,124.48L715.7,121.18L719,124.48L715.7,127.79Z" fill="#E10A00"/><path d="M715.55,127.64L718.86,124.33L722.16,127.64L718.86,130.94Z" fill="#D30200"/><path d="M718.71,130.8L722.01,127.49L725.31,130.8L722.01,134.1Z" fill="#D20100"/><path d="M721.86,133.95L725.17,130.64L728.47,133.95L725.17,137.25Z" fill="#B00003"/><path d="M725.02,137.11L728.32,133.8L731.62,137.11L728.32,140.41Z" fill="#BE0001"/><path d="M728.17,140.26L731.48,136.95L734.78,140.26L731.48,143.56Z" fill="#B90002"/><path d="M731.33,143.42L734.63,140.11L737.93,143.42L734.63,146.72Z" fill="#A50004"/><path d="M649.3,67.69L652.6,64.39L655.9,67.69L652.6,71Z" fill="#FFF430"/><path d="M652.45,70.85L655.75,67.54L659.06,70.85L655.75,74.16Z" fill="#FFE320"/><path d="M655.61,74L658.91,70.7L662.21,74L658.91,77.31Z" fill="#FFC713"/><path d="M658.76,77.16L662.07,73.85L665.37,77.16L662.07,80.47Z" fill="#FFAC0A"/><path d="M661.92,80.31L665.22,77.01L668.52,80.31L665.22,83.62Z" fill="#FF8C02"/><path d="M665.07,83.47L668.38,80.16L671.68,83.47L668.38,86.78Z" fill="#FF8401"/><path d="M668.23,86.62L671.53,83.32L674.83,86.62L671.53,89.93Z" fill="#FF8E02"/><path d="M671.38,89.78L674.69,86.47L677.99,89.78L674.69,93.09Z" fill="#FF8501"/><path d="M674.54,92.94L677.84,89.63L681.14,92.94L677.84,96.24Z" fill="#FF7B01"/><path d="M677.69,96.09L681,92.78L684.3,96.09L681,99.4Z" fill="#FF6700"/><path d="M680.85,99.25L684.15,95.94L687.45,99.25L684.15,102.55Z" fill="#FF6B00"/><path d="M684,102.4L687.31,99.09L690.61,102.4L687.31,105.71Z" fill="#FF5500"/><path d="M687.16,105.56L690.46,102.25L693.76,105.56L690.46,108.86Z" fill="#FD3B00"/><path d="M690.31,108.71L693.62,105.41L696.92,108.71L693.62,112.02Z" fill="#FE4000"/><path d="M693.47,111.87L696.77,108.56L700.07,111.87L696.77,115.17Z" fill="#F82500"/><path d="M696.62,115.02L699.93,111.71L703.23,115.02L699.93,118.33Z" fill="#F52000"/><path d="M699.78,118.17L703.08,114.87L706.38,118.17L703.08,121.48Z" fill="#F31C00"/><path d="M702.93,121.33L706.24,118.02L709.54,121.33L706.24,124.64Z" fill="#ED1100"/><path d="M706.09,124.48L709.39,121.18L712.69,124.48L709.39,127.79Z" fill="#F62100"/><path d="M709.24,127.64L712.55,124.33L715.85,127.64L712.55,130.94Z" fill="#EE1300"/><path d="M712.4,130.8L715.7,127.49L719,130.8L715.7,134.1Z" fill="#ED1100"/><path d="M715.55,133.95L718.86,130.64L722.16,133.95L718.86,137.25Z" fill="#D90500"/><path d="M718.71,137.11L722.01,133.8L725.31,137.11L722.01,140.41Z" fill="#D30200"/><path d="M721.86,140.26L725.17,136.95L728.47,140.26L725.17,143.56Z" fill="#D30200"/><path d="M725.02,143.42L728.32,140.11L731.62,143.42L728.32,146.72Z" fill="#CC0000"/><path d="M728.17,146.57L731.48,143.26L734.78,146.57L731.48,149.88Z" fill="#C30001"/><path d="M649.3,74L652.6,70.7L655.9,74L652.6,77.31Z" fill="#FFE623"/><path d="M652.45,77.16L655.75,73.85L659.06,77.16L655.75,80.47Z" fill="#FFD81A"/><path d="M655.61,80.31L658.91,77.01L662.21,80.31L658.91,83.62Z" fill="#FFCE16"/><path d="M658.76,83.47L662.07,80.16L665.37,83.47L662.07,86.78Z" fill="#FF9C05"/><path d="M661.92,86.62L665.22,83.32L668.52,86.62L665.22,89.93Z" fill="#FF9403"/><path d="M665.07,89.78L668.38,86.47L671.68,89.78L668.38,93.09Z" fill="#FF8801"/><path d="M668.23,92.94L671.53,89.63L674.83,92.94L671.53,96.24Z" fill="#FF7300"/><path d="M671.38,96.09L674.69,92.78L677.99,96.09L674.69,99.4Z" fill="#FF7A01"/><path d="M674.54,99.25L677.84,95.94L681.14,99.25L677.84,102.55Z" fill="#FF5C00"/><path d="M677.69,102.4L681,99.09L684.3,102.4L681,105.71Z" fill="#FF6B00"/><path d="M680.85,105.56L684.15,102.25L687.45,105.56L684.15,108.86Z" fill="#FF5A00"/><path d="M684,108.71L687.31,105.41L690.61,108.71L687.31,112.02Z" fill="#FE3F00"/><path d="M687.16,111.87L690.46,108.56L693.76,111.87L690.46,115.17Z" fill="#FD3B00"/><path d="M690.31,115.02L693.62,111.71L696.92,115.02L693.62,118.33Z" fill="#FD3200"/><path d="M693.47,118.17L696.77,114.87L700.07,118.17L696.77,121.48Z" fill="#FC2D00"/><path d="M696.62,121.33L699.93,118.02L703.23,121.33L699.93,124.64Z" fill="#F41D00"/><path d="M699.78,124.48L703.08,121.18L706.38,124.48L703.08,127.79Z" fill="#E90F00"/><path d="M702.93,127.64L706.24,124.33L709.54,127.64L706.24,130.94Z" fill="#F51F00"/><path d="M706.09,130.8L709.39,127.49L712.69,130.8L709.39,134.1Z" fill="#E10A00"/><path d="M709.24,133.95L712.55,130.64L715.85,133.95L712.55,137.25Z" fill="#EC1100"/><path d="M712.4,137.11L715.7,133.8L719,137.11L715.7,140.41Z" fill="#D90600"/><path d="M715.55,140.26L718.86,136.95L722.16,140.26L718.86,143.56Z" fill="#B60002"/><path d="M718.71,143.42L722.01,140.11L725.31,143.42L722.01,146.72Z" fill="#D60400"/><path d="M721.86,146.57L725.17,143.26L728.47,146.57L725.17,149.88Z" fill="#C10001"/><path d="M725.02,149.73L728.32,146.42L731.62,149.73L728.32,153.03Z" fill="#BA0002"/><path d="M649.3,80.31L652.6,77.01L655.9,80.31L652.6,83.62Z" fill="#FFF430"/><path d="M652.45,83.47L655.75,80.16L659.06,83.47L655.75,86.78Z" fill="#FFD519"/><path d="M655.61,86.62L658.91,83.32L662.21,86.62L658.91,89.93Z" fill="#FFB70D"/><path d="M658.76,89.78L662.07,86.47L665.37,89.78L662.07,93.09Z" fill="#FF9B05"/><path d="M661.92,92.94L665.22,89.63L668.52,92.94L665.22,96.24Z" fill="#FF9202"/><path d="M665.07,96.09L668.38,92.78L671.68,96.09L668.38,99.4Z" fill="#FF8C02"/><path d="M668.23,99.25L671.53,95.94L674.83,99.25L671.53,102.55Z" fill="#FF7C01"/><path d="M671.38,102.4L674.69,99.09L677.99,102.4L674.69,105.71Z" fill="#FF6C00"/><path d="M674.54,105.56L677.84,102.25L681.14,105.56L677.84,108.86Z" fill="#FF6800"/><path d="M677.69,108.71L681,105.41L684.3,108.71L681,112.02Z" fill="#FF6500"/><path d="M680.85,111.87L684.15,108.56L687.45,111.87L684.15,115.17Z" fill="#FF4E00"/><path d="M684,115.02L687.31,111.71L690.61,115.02L687.31,118.33Z" fill="#FF4C00"/><path d="M687.16,118.17L690.46,114.87L693.76,118.17L690.46,121.48Z" fill="#FD3600"/><path d="M690.31,121.33L693.62,118.02L696.92,121.33L693.62,124.64Z" fill="#FE4100"/><path d="M693.47,124.48L696.77,121.18L700.07,124.48L696.77,127.79Z" fill="#FC2C00"/><path d="M696.62,127.64L699.93,124.33L703.23,127.64L699.93,130.94Z" fill="#F92600"/><path d="M699.78,130.8L703.08,127.49L706.38,130.8L703.08,134.1Z" fill="#F62000"/><path d="M702.93,133.95L706.24,130.64L709.54,133.95L706.24,137.25Z" fill="#DF0900"/><path d="M706.09,137.11L709.39,133.8L712.69,137.11L709.39,140.41Z" fill="#EB1000"/><path d="M709.24,140.26L712.55,136.95L715.85,140.26L712.55,143.56Z" fill="#DB0700"/><path d="M712.4,143.42L715.7,140.11L719,143.42L715.7,146.72Z" fill="#D80500"/><path d="M715.55,146.57L718.86,143.26L722.16,146.57L718.86,149.88Z" fill="#D90500"/><path d="M718.71,149.73L722.01,146.42L725.31,149.73L722.01,153.03Z" fill="#C70001"/><path d="M721.86,152.88L725.17,149.57L728.47,152.88L725.17,156.19Z" fill="#C90001"/><path d="M649.3,86.62L652.6,83.32L655.9,86.62L652.6,89.93Z" fill="#FFF32F"/><path d="M652.45,89.78L655.75,86.47L659.06,89.78L655.75,93.09Z" fill="#FFE220"/><path d="M655.61,92.94L658.91,89.63L662.21,92.94L658.91,96.24Z" fill="#FFCB15"/><path d="M658.76,96.09L662.07,92.78L665.37,96.09L662.07,99.4Z" fill="#FFAB09"/><path d="M661.92,99.25L665.22,95.94L668.52,99.25L665.22,102.55Z" fill="#FFA708"/><path d="M665.07,102.4L668.38,99.09L671.68,102.4L668.38,105.71Z" fill="#FF9403"/><path d="M668.23,105.56L671.53,102.25L674.83,105.56L671.53,108.86Z" fill="#FF8101"/><path d="M671.38,108.71L674.69,105.41L677.99,108.71L674.69,112.02Z" fill="#FF8801"/><path d="M674.54,111.87L677.84,108.56L681.14,111.87L677.84,115.17Z" fill="#FF7600"/><path d="M677.69,115.02L681,111.71L684.3,115.02L681,118.33Z" fill="#FF6000"/><path d="M680.85,118.17L684.15,114.87L687.45,118.17L684.15,121.48Z" fill="#FF6000"/><path d="M684,121.33L687.31,118.02L690.61,121.33L687.31,124.64Z" fill="#FE4800"/><path d="M687.16,124.48L690.46,121.18L693.76,124.48L690.46,127.79Z" fill="#FF4900"/><path d="M690.31,127.64L693.62,124.33L696.92,127.64L693.62,130.94Z" fill="#FE4700"/><path d="M693.47,130.8L696.77,127.49L700.07,130.8L696.77,134.1Z" fill="#FA2900"/><path d="M696.62,133.95L699.93,130.64L703.23,133.95L699.93,137.25Z" fill="#FC2E00"/><path d="M699.78,137.11L703.08,133.8L706.38,137.11L703.08,140.41Z" fill="#F41E00"/><path d="M702.93,140.26L706.24,136.95L709.54,140.26L706.24,143.56Z" fill="#F51F00"/><path d="M706.09,143.42L709.39,140.11L712.69,143.42L709.39,146.72Z" fill="#F11800"/><path d="M709.24,146.57L712.55,143.26L715.85,146.57L712.55,149.88Z" fill="#E60D00"/><path d="M712.4,149.73L715.7,146.42L719,149.73L715.7,153.03Z" fill="#E40C00"/><path d="M715.55,152.88L718.86,149.57L722.16,152.88L718.86,156.19Z" fill="#D10000"/><path d="M718.71,156.04L722.01,152.73L725.31,156.04L722.01,159.34Z" fill="#CB0000"/><path d="M649.3,92.94L652.6,89.63L655.9,92.94L652.6,96.24Z" fill="#FFEE2A"/><path d="M652.45,96.09L655.75,92.78L659.06,96.09L655.75,99.4Z" fill="#FFE825"/><path d="M655.61,99.25L658.91,95.94L662.21,99.25L658.91,102.55Z" fill="#FFCC15"/><path d="M658.76,102.4L662.07,99.09L665.37,102.4L662.07,105.71Z" fill="#FFB70D"/><path d="M661.92,105.56L665.22,102.25L668.52,105.56L665.22,108.86Z" fill="#FF9603"/><path d="M665.07,108.71L668.38,105.41L671.68,108.71L668.38,112.02Z" fill="#FF8E02"/><path d="M668.23,111.87L671.53,108.56L674.83,111.87L671.53,115.17Z" fill="#FF8E02"/><path d="M671.38,115.02L674.69,111.71L677.99,115.02L674.69,118.33Z" fill="#FF6C00"/><path d="M674.54,118.17L677.84,114.87L681.14,118.17L677.84,121.48Z" fill="#FF7300"/><path d="M677.69,121.33L681,118.02L684.3,121.33L681,124.64Z" fill="#FF7000"/><path d="M680.85,124.48L684.15,121.18L687.45,124.48L684.15,127.79Z" fill="#FE4800"/><path d="M684,127.64L687.31,124.33L690.61,127.64L687.31,130.94Z" fill="#FF5B00"/><path d="M687.16,130.8L690.46,127.49L693.76,130.8L690.46,134.1Z" fill="#FE4600"/><path d="M690.31,133.95L693.62,130.64L696.92,133.95L693.62,137.25Z" fill="#FC3000"/><path d="M693.47,137.11L696.77,133.8L700.07,137.11L696.77,140.41Z" fill="#FE4300"/><path d="M696.62,140.26L699.93,136.95L703.23,140.26L699.93,143.56Z" fill="#FB2A00"/><path d="M699.78,143.42L703.08,140.11L706.38,143.42L703.08,146.72Z" fill="#F21900"/><path d="M702.93,146.57L706.24,143.26L709.54,146.57L706.24,149.88Z" fill="#EF1400"/><path d="M706.09,149.73L709.39,146.42L712.69,149.73L709.39,153.03Z" fill="#E40C00"/><path d="M709.24,152.88L712.55,149.57L715.85,152.88L712.55,156.19Z" fill="#D60400"/><path d="M712.4,156.04L715.7,152.73L719,156.04L715.7,159.34Z" fill="#DA0600"/><path d="M715.55,159.19L718.86,155.88L722.16,159.19L718.86,162.5Z" fill="#CF0000"/><path d="M649.3,99.25L652.6,95.94L655.9,99.25L652.6,102.55Z" fill="#FFF430"/><path d="M652.45,102.4L655.75,99.09L659.06,102.4L655.75,105.71Z" fill="#FFE422"/><path d="M655.61,105.56L658.91,102.25L662.21,105.56L658.91,108.86Z" fill="#FFBD0F"/><path d="M658.76,108.71L662.07,105.41L665.37,108.71L662.07,112.02Z" fill="#FFCC15"/><path d="M661.92,111.87L665.22,108.56L668.52,111.87L665.22,115.17Z" fill="#FFA809"/><path d="M665.07,115.02L668.38,111.71L671.68,115.02L668.38,118.33Z" fill="#FFAE0B"/><path d="M668.23,118.17L671.53,114.87L674.83,118.17L671.53,121.48Z" fill="#FF7F01"/><path d="M671.38,121.33L674.69,118.02L677.99,121.33L674.69,124.64Z" fill="#FF7700"/><path d="M674.54,124.48L677.84,121.18L681.14,124.48L677.84,127.79Z" fill="#FF6D00"/><path d="M677.69,127.64L681,124.33L684.3,127.64L681,130.94Z" fill="#FF6900"/><path d="M680.85,130.8L684.15,127.49L687.45,130.8L684.15,134.1Z" fill="#FF5D00"/><path d="M684,133.95L687.31,130.64L690.61,133.95L687.31,137.25Z" fill="#FF5300"/><path d="M687.16,137.11L690.46,133.8L693.76,137.11L690.46,140.41Z" fill="#FE4400"/><path d="M690.31,140.26L693.62,136.95L696.92,140.26L693.62,143.56Z" fill="#FF5500"/><path d="M693.47,143.42L696.77,140.11L700.07,143.42L696.77,146.72Z" fill="#FE3E00"/><path d="M696.62,146.57L699.93,143.26L703.23,146.57L699.93,149.88Z" fill="#FB2900"/><path d="M699.78,149.73L703.08,146.42L706.38,149.73L703.08,153.03Z" fill="#F31A00"/><path d="M702.93,152.88L706.24,149.57L709.54,152.88L706.24,156.19Z" fill="#F31B00"/><path d="M706.09,156.04L709.39,152.73L712.69,156.04L709.39,159.34Z" fill="#D70400"/><path d="M709.24,159.19L712.55,155.88L715.85,159.19L712.55,162.5Z" fill="#E60D00"/><path d="M712.4,162.35L715.7,159.04L719,162.35L715.7,165.65Z" fill="#DB0600"/><path d="M649.3,105.56L652.6,102.25L655.9,105.56L652.6,108.86Z" fill="#FFF430"/><path d="M652.45,108.71L655.75,105.41L659.06,108.71L655.75,112.02Z" fill="#FFEE2A"/><path d="M655.61,111.87L658.91,108.56L662.21,111.87L658.91,115.17Z" fill="#FFCF16"/><path d="M658.76,115.02L662.07,111.71L665.37,115.02L662.07,118.33Z" fill="#FFC713"/><path d="M661.92,118.17L665.22,114.87L668.52,118.17L665.22,121.48Z" fill="#FFAE0A"/><path d="M665.07,121.33L668.38,118.02L671.68,121.33L668.38,124.64Z" fill="#FFA809"/><path d="M668.23,124.48L671.53,121.18L674.83,124.48L671.53,127.79Z" fill="#FF8F02"/><path d="M671.38,127.64L674.69,124.33L677.99,127.64L674.69,130.94Z" fill="#FF8701"/><path d="M674.54,130.8L677.84,127.49L681.14,130.8L677.84,134.1Z" fill="#FF7600"/><path d="M677.69,133.95L681,130.64L684.3,133.95L681,137.25Z" fill="#FF6E00"/><path d="M680.85,137.11L684.15,133.8L687.45,137.11L684.15,140.41Z" fill="#FF5700"/><path d="M684,140.26L687.31,136.95L690.61,140.26L687.31,143.56Z" fill="#FD3C00"/><path d="M687.16,143.42L690.46,140.11L693.76,143.42L690.46,146.72Z" fill="#FF4C00"/><path d="M690.31,146.57L693.62,143.26L696.92,146.57L693.62,149.88Z" fill="#FC2D00"/><path d="M693.47,149.73L696.77,146.42L700.07,149.73L696.77,153.03Z" fill="#F92600"/><path d="M696.62,152.88L699.93,149.57L703.23,152.88L699.93,156.19Z" fill="#F31A00"/><path d="M699.78,156.04L703.08,152.73L706.38,156.04L703.08,159.34Z" fill="#EC1100"/><path d="M702.93,159.19L706.24,155.88L709.54,159.19L706.24,162.5Z" fill="#E90F00"/><path d="M706.09,162.35L709.39,159.04L712.69,162.35L709.39,165.65Z" fill="#E70E00"/><path d="M709.24,165.5L712.55,162.19L715.85,165.5L712.55,168.81Z" fill="#E00A00"/><path d="M649.3,111.87L652.6,108.56L655.9,111.87L652.6,115.17Z" fill="#FFF430"/><path d="M652.45,115.02L655.75,111.71L659.06,115.02L655.75,118.33Z" fill="#FFE220"/><path d="M655.61,118.17L658.91,114.87L662.21,118.17L658.91,121.48Z" fill="#FFC713"/><path d="M658.76,121.33L662.07,118.02L665.37,121.33L662.07,124.64Z" fill="#FFBC0F"/><path d="M661.92,124.48L665.22,121.18L668.52,124.48L665.22,127.79Z" fill="#FFB20C"/><path d="M665.07,127.64L668.38,124.33L671.68,127.64L668.38,130.94Z" fill="#FF9E06"/><path d="M668.23,130.8L671.53,127.49L674.83,130.8L671.53,134.1Z" fill="#FF8D02"/><path d="M671.38,133.95L674.69,130.64L677.99,133.95L674.69,137.25Z" fill="#FF7E01"/><path d="M674.54,137.11L677.84,133.8L681.14,137.11L677.84,140.41Z" fill="#FF7700"/><path d="M677.69,140.26L681,136.95L684.3,140.26L681,143.56Z" fill="#FF5C00"/><path d="M680.85,143.42L684.15,140.11L687.45,143.42L684.15,146.72Z" fill="#FF5900"/><path d="M684,146.57L687.31,143.26L690.61,146.57L687.31,149.88Z" fill="#FF5200"/><path d="M687.16,149.73L690.46,146.42L693.76,149.73L690.46,153.03Z" fill="#FE3E00"/><path d="M690.31,152.88L693.62,149.57L696.92,152.88L693.62,156.19Z" fill="#FE4300"/><path d="M693.47,156.04L696.77,152.73L700.07,156.04L696.77,159.34Z" fill="#F82500"/><path d="M696.62,159.19L699.93,155.88L703.23,159.19L699.93,162.5Z" fill="#F51F00"/><path d="M699.78,162.35L703.08,159.04L706.38,162.35L703.08,165.65Z" fill="#F21900"/><path d="M702.93,165.5L706.24,162.19L709.54,165.5L706.24,168.81Z" fill="#E50D00"/><path d="M706.09,168.66L709.39,165.35L712.69,168.66L709.39,171.96Z" fill="#E80E00"/><path d="M649.3,118.17L652.6,114.87L655.9,118.17L652.6,121.48Z" fill="#FFF430"/><path d="M652.45,121.33L655.75,118.02L659.06,121.33L655.75,124.64Z" fill="#FFF12D"/><path d="M655.61,124.48L658.91,121.18L662.21,124.48L658.91,127.79Z" fill="#FFE926"/><path d="M658.76,127.64L662.07,124.33L665.37,127.64L662.07,130.94Z" fill="#FFCF16"/><path d="M661.92,130.8L665.22,127.49L668.52,130.8L665.22,134.1Z" fill="#FFB80E"/><path d="M665.07,133.95L668.38,130.64L671.68,133.95L668.38,137.25Z" fill="#FFAF0B"/><path d="M668.23,137.11L671.53,133.8L674.83,137.11L671.53,140.41Z" fill="#FF8801"/><path d="M671.38,140.26L674.69,136.95L677.99,140.26L674.69,143.56Z" fill="#FF7400"/><path d="M674.54,143.42L677.84,140.11L681.14,143.42L677.84,146.72Z" fill="#FF6A00"/><path d="M677.69,146.57L681,143.26L684.3,146.57L681,149.88Z" fill="#FF6700"/><path d="M680.85,149.73L684.15,146.42L687.45,149.73L684.15,153.03Z" fill="#FF6A00"/><path d="M684,152.88L687.31,149.57L690.61,152.88L687.31,156.19Z" fill="#FF5300"/><path d="M687.16,156.04L690.46,152.73L693.76,156.04L690.46,159.34Z" fill="#FE4300"/><path d="M690.31,159.19L693.62,155.88L696.92,159.19L693.62,162.5Z" fill="#FC2E00"/><path d="M693.47,162.35L696.77,159.04L700.07,162.35L696.77,165.65Z" fill="#F92600"/><path d="M696.62,165.5L699.93,162.19L703.23,165.5L699.93,168.81Z" fill="#F51F00"/><path d="M699.78,168.66L703.08,165.35L706.38,168.66L703.08,171.96Z" fill="#EA1000"/><path d="M702.93,171.81L706.24,168.5L709.54,171.81L706.24,175.12Z" fill="#E90F00"/><path d="M649.3,124.48L652.6,121.18L655.9,124.48L652.6,127.79Z" fill="#FFF430"/><path d="M652.45,127.64L655.75,124.33L659.06,127.64L655.75,130.94Z" fill="#FFF430"/><path d="M655.61,130.8L658.91,127.49L662.21,130.8L658.91,134.1Z" fill="#FFDE1C"/><path d="M658.76,133.95L662.07,130.64L665.37,133.95L662.07,137.25Z" fill="#FFE01D"/><path d="M661.92,137.11L665.22,133.8L668.52,137.11L665.22,140.41Z" fill="#FFA909"/><path d="M665.07,140.26L668.38,136.95L671.68,140.26L668.38,143.56Z" fill="#FF8F02"/><path d="M668.23,143.42L671.53,140.11L674.83,143.42L671.53,146.72Z" fill="#FF7300"/><path d="M671.38,146.57L674.69,143.26L677.99,146.57L674.69,149.88Z" fill="#FF7500"/><path d="M674.54,149.73L677.84,146.42L681.14,149.73L677.84,153.03Z" fill="#FF6100"/><path d="M677.69,152.88L681,149.57L684.3,152.88L681,156.19Z" fill="#FF6400"/><path d="M680.85,156.04L684.15,152.73L687.45,156.04L684.15,159.34Z" fill="#FF4900"/><path d="M684,159.19L687.31,155.88L690.61,159.19L687.31,162.5Z" fill="#FF4C00"/><path d="M687.16,162.35L690.46,159.04L693.76,162.35L690.46,165.65Z" fill="#FB2A00"/><path d="M690.31,165.5L693.62,162.19L696.92,165.5L693.62,168.81Z" fill="#F92600"/><path d="M693.47,168.66L696.77,165.35L700.07,168.66L696.77,171.96Z" fill="#F11800"/><path d="M696.62,171.81L699.93,168.5L703.23,171.81L699.93,175.12Z" fill="#EE1200"/><path d="M699.78,174.97L703.08,171.66L706.38,174.97L703.08,178.27Z" fill="#D70400"/><path d="M649.3,130.8L652.6,127.49L655.9,130.8L652.6,134.1Z" fill="#FFF430"/><path d="M652.45,133.95L655.75,130.64L659.06,133.95L655.75,137.25Z" fill="#FFF430"/><path d="M655.61,137.11L658.91,133.8L662.21,137.11L658.91,140.41Z" fill="#FFEE2B"/><path d="M658.76,140.26L662.07,136.95L665.37,140.26L662.07,143.56Z" fill="#FFD619"/><path d="M661.92,143.42L665.22,140.11L668.52,143.42L665.22,146.72Z" fill="#FFB90E"/><path d="M665.07,146.57L668.38,143.26L671.68,146.57L668.38,149.88Z" fill="#FF9F06"/><path d="M668.23,149.73L671.53,146.42L674.83,149.73L671.53,153.03Z" fill="#FF9703"/><path d="M671.38,152.88L674.69,149.57L677.99,152.88L674.69,156.19Z" fill="#FF8401"/><path d="M674.54,156.04L677.84,152.73L681.14,156.04L677.84,159.34Z" fill="#FF7A01"/><path d="M677.69,159.19L681,155.88L684.3,159.19L681,162.5Z" fill="#FF6500"/><path d="M680.85,162.35L684.15,159.04L687.45,162.35L684.15,165.65Z" fill="#FF6F00"/><path d="M684,165.5L687.31,162.19L690.61,165.5L687.31,168.81Z" fill="#FF4B00"/><path d="M687.16,168.66L690.46,165.35L693.76,168.66L690.46,171.96Z" fill="#FF4E00"/><path d="M690.31,171.81L693.62,168.5L696.92,171.81L693.62,175.12Z" fill="#FD3C00"/><path d="M693.47,174.97L696.77,171.66L700.07,174.97L696.77,178.27Z" fill="#F51F00"/><path d="M696.62,178.12L699.93,174.81L703.23,178.12L699.93,181.43Z" fill="#FB2B00"/><path d="M649.3,137.11L652.6,133.8L655.9,137.11L652.6,140.41Z" fill="#FFF430"/><path d="M652.45,140.26L655.75,136.95L659.06,140.26L655.75,143.56Z" fill="#FFF430"/><path d="M655.61,143.42L658.91,140.11L662.21,143.42L658.91,146.72Z" fill="#FFE11F"/><path d="M658.76,146.57L662.07,143.26L665.37,146.57L662.07,149.88Z" fill="#FFC010"/><path d="M661.92,149.73L665.22,146.42L668.52,149.73L665.22,153.03Z" fill="#FF9302"/><path d="M665.07,152.88L668.38,149.57L671.68,152.88L668.38,156.19Z" fill="#FF9302"/><path d="M668.23,156.04L671.53,152.73L674.83,156.04L671.53,159.34Z" fill="#FF7C01"/><path d="M671.38,159.19L674.69,155.88L677.99,159.19L674.69,162.5Z" fill="#FF8501"/><path d="M674.54,162.35L677.84,159.04L681.14,162.35L677.84,165.65Z" fill="#FF7000"/><path d="M677.69,165.5L681,162.19L684.3,165.5L681,168.81Z" fill="#FF6B00"/><path d="M680.85,168.66L684.15,165.35L687.45,168.66L684.15,171.96Z" fill="#FF5500"/><path d="M684,171.81L687.31,168.5L690.61,171.81L687.31,175.12Z" fill="#FF5100"/><path d="M687.16,174.97L690.46,171.66L693.76,174.97L690.46,178.27Z" fill="#FD3C00"/><path d="M690.31,178.12L693.62,174.81L696.92,178.12L693.62,181.43Z" fill="#FB2B00"/><path d="M693.47,181.28L696.77,177.97L700.07,181.28L696.77,184.58Z" fill="#F41D00"/><path d="M649.3,143.42L652.6,140.11L655.9,143.42L652.6,146.72Z" fill="#FFF430"/><path d="M652.45,146.57L655.75,143.26L659.06,146.57L655.75,149.88Z" fill="#FFE522"/><path d="M655.61,149.73L658.91,146.42L662.21,149.73L658.91,153.03Z" fill="#FFC813"/><path d="M658.76,152.88L662.07,149.57L665.37,152.88L662.07,156.19Z" fill="#FFA307"/><path d="M661.92,156.04L665.22,152.73L668.52,156.04L665.22,159.34Z" fill="#FFAC0A"/><path d="M665.07,159.19L668.38,155.88L671.68,159.19L668.38,162.5Z" fill="#FF8A02"/><path d="M668.23,162.35L671.53,159.04L674.83,162.35L671.53,165.65Z" fill="#FF8B02"/><path d="M671.38,165.5L674.69,162.19L677.99,165.5L674.69,168.81Z" fill="#FF7700"/><path d="M674.54,168.66L677.84,165.35L681.14,168.66L677.84,171.96Z" fill="#FF7300"/><path d="M677.69,171.81L681,168.5L684.3,171.81L681,175.12Z" fill="#FF5D00"/><path d="M680.85,174.97L684.15,171.66L687.45,174.97L684.15,178.27Z" fill="#FE4400"/><path d="M684,178.12L687.31,174.81L690.61,178.12L687.31,181.43Z" fill="#FF4C00"/><path d="M687.16,181.28L690.46,177.97L693.76,181.28L690.46,184.58Z" fill="#FD3800"/><path d="M690.31,184.43L693.62,181.12L696.92,184.43L693.62,187.74Z" fill="#FB2A00"/><path d="M649.3,149.73L652.6,146.42L655.9,149.73L652.6,153.03Z" fill="#FFF430"/><path d="M652.45,152.88L655.75,149.57L659.06,152.88L655.75,156.19Z" fill="#FFF430"/><path d="M655.61,156.04L658.91,152.73L662.21,156.04L658.91,159.34Z" fill="#FFD619"/><path d="M658.76,159.19L662.07,155.88L665.37,159.19L662.07,162.5Z" fill="#FFDC1B"/><path d="M661.92,162.35L665.22,159.04L668.52,162.35L665.22,165.65Z" fill="#FFAA09"/><path d="M665.07,165.5L668.38,162.19L671.68,165.5L668.38,168.81Z" fill="#FF9102"/><path d="M668.23,168.66L671.53,165.35L674.83,168.66L671.53,171.96Z" fill="#FF8001"/><path d="M671.38,171.81L674.69,168.5L677.99,171.81L674.69,175.12Z" fill="#FF8501"/><path d="M674.54,174.97L677.84,171.66L681.14,174.97L677.84,178.27Z" fill="#FF6700"/><path d="M677.69,178.12L681,174.81L684.3,178.12L681,181.43Z" fill="#FF6800"/><path d="M680.85,181.28L684.15,177.97L687.45,181.28L684.15,184.58Z" fill="#FF6000"/><path d="M684,184.43L687.31,181.12L690.61,184.43L687.31,187.74Z" fill="#FE4400"/><path d="M687.16,187.59L690.46,184.28L693.76,187.59L690.46,190.89Z" fill="#FD3900"/><path d="M649.3,156.04L652.6,152.73L655.9,156.04L652.6,159.34Z" fill="#FFF430"/><path d="M652.45,159.19L655.75,155.88L659.06,159.19L655.75,162.5Z" fill="#FFEA27"/><path d="M655.61,162.35L658.91,159.04L662.21,162.35L658.91,165.65Z" fill="#FFE11F"/><path d="M658.76,165.5L662.07,162.19L665.37,165.5L662.07,168.81Z" fill="#FFB80D"/><path d="M661.92,168.66L665.22,165.35L668.52,168.66L665.22,171.96Z" fill="#FFB70D"/><path d="M665.07,171.81L668.38,168.5L671.68,171.81L668.38,175.12Z" fill="#FF7D01"/><path d="M668.23,174.97L671.53,171.66L674.83,174.97L671.53,178.27Z" fill="#FF7800"/><path d="M671.38,178.12L674.69,174.81L677.99,178.12L674.69,181.43Z" fill="#FF6800"/><path d="M674.54,181.28L677.84,177.97L681.14,181.28L677.84,184.58Z" fill="#FF6800"/><path d="M677.69,184.43L681,181.12L684.3,184.43L681,187.74Z" fill="#FF5000"/><path d="M680.85,187.59L684.15,184.28L687.45,187.59L684.15,190.89Z" fill="#FE4500"/><path d="M684,190.74L687.31,187.44L690.61,190.74L687.31,194.05Z" fill="#FC2D00"/><path d="M649.3,162.35L652.6,159.04L655.9,162.35L652.6,165.65Z" fill="#FFF430"/><path d="M652.45,165.5L655.75,162.19L659.06,165.5L655.75,168.81Z" fill="#FFED2A"/><path d="M655.61,168.66L658.91,165.35L662.21,168.66L658.91,171.96Z" fill="#FFDF1D"/><path d="M658.76,171.81L662.07,168.5L665.37,171.81L662.07,175.12Z" fill="#FFDD1B"/><path d="M661.92,174.97L665.22,171.66L668.52,174.97L665.22,178.27Z" fill="#FFBA0E"/><path d="M665.07,178.12L668.38,174.81L671.68,178.12L668.38,181.43Z" fill="#FF9202"/><path d="M668.23,181.28L671.53,177.97L674.83,181.28L671.53,184.58Z" fill="#FF8501"/><path d="M671.38,184.43L674.69,181.12L677.99,184.43L674.69,187.74Z" fill="#FF7600"/><path d="M674.54,187.59L677.84,184.28L681.14,187.59L677.84,190.89Z" fill="#FF6900"/><path d="M677.69,190.74L681,187.44L684.3,190.74L681,194.05Z" fill="#FF5000"/><path d="M680.85,193.89L684.15,190.59L687.45,193.89L684.15,197.2Z" fill="#FF5D00"/><path d="M649.3,168.66L652.6,165.35L655.9,168.66L652.6,171.96Z" fill="#FFF430"/><path d="M652.45,171.81L655.75,168.5L659.06,171.81L655.75,175.12Z" fill="#FFF430"/><path d="M655.61,174.97L658.91,171.66L662.21,174.97L658.91,178.27Z" fill="#FFF02C"/><path d="M658.76,178.12L662.07,174.81L665.37,178.12L662.07,181.43Z" fill="#FFBD0F"/><path d="M661.92,181.28L665.22,177.97L668.52,181.28L665.22,184.58Z" fill="#FFBF10"/><path d="M665.07,184.43L668.38,181.12L671.68,184.43L668.38,187.74Z" fill="#FF9E06"/><path d="M668.23,187.59L671.53,184.28L674.83,187.59L671.53,190.89Z" fill="#FF9202"/><path d="M671.38,190.74L674.69,187.44L677.99,190.74L674.69,194.05Z" fill="#FF7700"/><path d="M674.54,193.89L677.84,190.59L681.14,193.89L677.84,197.2Z" fill="#FF6300"/><path d="M677.69,197.05L681,193.75L684.3,197.05L681,200.36Z" fill="#FF5A00"/><path d="M649.3,174.97L652.6,171.66L655.9,174.97L652.6,178.27Z" fill="#FFF430"/><path d="M652.45,178.12L655.75,174.81L659.06,178.12L655.75,181.43Z" fill="#FFE926"/><path d="M655.61,181.28L658.91,177.97L662.21,181.28L658.91,184.58Z" fill="#FFDA1A"/><path d="M658.76,184.43L662.07,181.12L665.37,184.43L662.07,187.74Z" fill="#FFBA0E"/><path d="M661.92,187.59L665.22,184.28L668.52,187.59L665.22,190.89Z" fill="#FFAC0A"/><path d="M665.07,190.74L668.38,187.44L671.68,190.74L668.38,194.05Z" fill="#FF9402"/><path d="M668.23,193.89L671.53,190.59L674.83,193.89L671.53,197.2Z" fill="#FF7100"/><path d="M671.38,197.05L674.69,193.75L677.99,197.05L674.69,200.36Z" fill="#FF7000"/><path d="M674.54,200.2L677.84,196.9L681.14,200.2L677.84,203.51Z" fill="#FF6200"/><path d="M649.3,181.28L652.6,177.97L655.9,181.28L652.6,184.58Z" fill="#FFF430"/><path d="M652.45,184.43L655.75,181.12L659.06,184.43L655.75,187.74Z" fill="#FFF430"/><path d="M655.61,187.59L658.91,184.28L662.21,187.59L658.91,190.89Z" fill="#FFEA27"/><path d="M658.76,190.74L662.07,187.44L665.37,190.74L662.07,194.05Z" fill="#FFE523"/><path d="M661.92,193.89L665.22,190.59L668.52,193.89L665.22,197.2Z" fill="#FFC713"/><path d="M665.07,197.05L668.38,193.75L671.68,197.05L668.38,200.36Z" fill="#FF9102"/><path d="M668.23,200.2L671.53,196.9L674.83,200.2L671.53,203.51Z" fill="#FF7F01"/><path d="M671.38,203.36L674.69,200.06L677.99,203.36L674.69,206.67Z" fill="#FF7901"/><path d="M649.3,187.59L652.6,184.28L655.9,187.59L652.6,190.89Z" fill="#FFF430"/><path d="M652.45,190.74L655.75,187.44L659.06,190.74L655.75,194.05Z" fill="#FFF22E"/><path d="M655.61,193.89L658.91,190.59L662.21,193.89L658.91,197.2Z" fill="#FFDD1C"/><path d="M658.76,197.05L662.07,193.75L665.37,197.05L662.07,200.36Z" fill="#FFCB15"/><path d="M661.92,200.2L665.22,196.9L668.52,200.2L665.22,203.51Z" fill="#FFB20C"/><path d="M665.07,203.36L668.38,200.06L671.68,203.36L668.38,206.67Z" fill="#FF9704"/><path d="M668.23,206.51L671.53,203.21L674.83,206.51L671.53,209.82Z" fill="#FF7A01"/><path d="M649.3,193.89L652.6,190.59L655.9,193.89L652.6,197.2Z" fill="#FFF430"/><path d="M652.45,197.05L655.75,193.75L659.06,197.05L655.75,200.36Z" fill="#FFF430"/><path d="M655.61,200.2L658.91,196.9L662.21,200.2L658.91,203.51Z" fill="#FFE01E"/><path d="M658.76,203.36L662.07,200.06L665.37,203.36L662.07,206.67Z" fill="#FFE01E"/><path d="M661.92,206.51L665.22,203.21L668.52,206.51L665.22,209.82Z" fill="#FFBE10"/><path d="M665.07,209.67L668.38,206.37L671.68,209.67L668.38,212.98Z" fill="#FFA407"/><path d="M649.3,200.2L652.6,196.9L655.9,200.2L652.6,203.51Z" fill="#FFF430"/><path d="M652.45,203.36L655.75,200.06L659.06,203.36L655.75,206.67Z" fill="#FFED2A"/><path d="M655.61,206.51L658.91,203.21L662.21,206.51L658.91,209.82Z" fill="#FFDE1C"/><path d="M658.76,209.67L662.07,206.37L665.37,209.67L662.07,212.98Z" fill="#FFD418"/><path d="M661.92,212.82L665.22,209.52L668.52,212.82L665.22,216.13Z" fill="#FFB70D"/><path d="M649.3,206.51L652.6,203.21L655.9,206.51L652.6,209.82Z" fill="#FFF430"/><path d="M652.45,209.67L655.75,206.37L659.06,209.67L655.75,212.98Z" fill="#FFEB28"/><path d="M655.61,212.82L658.91,209.52L662.21,212.82L658.91,216.13Z" fill="#FFD017"/><path d="M658.76,215.98L662.07,212.68L665.37,215.98L662.07,219.29Z" fill="#FFB70D"/><path d="M649.3,212.82L652.6,209.52L655.9,212.82L652.6,216.13Z" fill="#FFF430"/><path d="M652.45,215.98L655.75,212.68L659.06,215.98L655.75,219.29Z" fill="#FFEC29"/><path d="M655.61,219.13L658.91,215.83L662.21,219.13L658.91,222.44Z" fill="#FFD217"/><path d="M649.3,219.13L652.6,215.83L655.9,219.13L652.6,222.44Z" fill="#FFF430"/><path d="M652.45,222.29L655.75,218.99L659.06,222.29L655.75,225.6Z" fill="#FFE11F"/><path d="M649.3,225.44L652.6,222.14L655.9,225.44L652.6,228.75Z" fill="#FFF430"/></g>
<circle cx="648.6" cy="41.6" r="2.2" fill="#2B5DD9" stroke="#15275E" stroke-width="0.5"/><circle cx="648.6" cy="48.1" r="2.2" fill="#2B5DD9" stroke="#15275E" stroke-width="0.5"/><circle cx="648.6" cy="54.59" r="2.2" fill="#2B5DD9" stroke="#15275E" stroke-width="0.5"/><circle cx="648.6" cy="61.09" r="2.2" fill="#F6C61A" stroke="#5A4500" stroke-width="0.5"/><circle cx="648.6" cy="67.59" r="2.2" fill="#2B5DD9" stroke="#15275E" stroke-width="0.5"/><circle cx="648.6" cy="74.09" r="2.2" fill="#F6C61A" stroke="#5A4500" stroke-width="0.5"/><circle cx="648.6" cy="80.58" r="2.2" fill="#2B5DD9" stroke="#15275E" stroke-width="0.5"/><circle cx="648.6" cy="87.08" r="2.2" fill="#2B5DD9" stroke="#15275E" stroke-width="0.5"/><circle cx="648.6" cy="93.58" r="2.2" fill="#2B5DD9" stroke="#15275E" stroke-width="0.5"/><circle cx="648.6" cy="100.07" r="2.2" fill="#2B5DD9" stroke="#15275E" stroke-width="0.5"/><circle cx="648.6" cy="106.57" r="2.2" fill="#2B5DD9" stroke="#15275E" stroke-width="0.5"/><circle cx="648.6" cy="113.07" r="2.2" fill="#F6C61A" stroke="#5A4500" stroke-width="0.5"/><circle cx="648.6" cy="119.56" r="2.2" fill="#2B5DD9" stroke="#15275E" stroke-width="0.5"/><circle cx="648.6" cy="126.06" r="2.2" fill="#2B5DD9" stroke="#15275E" stroke-width="0.5"/><circle cx="648.6" cy="132.56" r="2.2" fill="#2B5DD9" stroke="#15275E" stroke-width="0.5"/><circle cx="648.6" cy="139.06" r="2.2" fill="#2B5DD9" stroke="#15275E" stroke-width="0.5"/><circle cx="648.6" cy="145.55" r="2.2" fill="#F6C61A" stroke="#5A4500" stroke-width="0.5"/><circle cx="648.6" cy="152.05" r="2.2" fill="#2B5DD9" stroke="#15275E" stroke-width="0.5"/><circle cx="648.6" cy="158.55" r="2.2" fill="#F6C61A" stroke="#5A4500" stroke-width="0.5"/><circle cx="648.6" cy="165.04" r="2.2" fill="#2B5DD9" stroke="#15275E" stroke-width="0.5"/><circle cx="648.6" cy="171.54" r="2.2" fill="#2B5DD9" stroke="#15275E" stroke-width="0.5"/><circle cx="648.6" cy="178.04" r="2.2" fill="#F6C61A" stroke="#5A4500" stroke-width="0.5"/><circle cx="648.6" cy="184.53" r="2.2" fill="#2B5DD9" stroke="#15275E" stroke-width="0.5"/><circle cx="648.6" cy="191.03" r="2.2" fill="#2B5DD9" stroke="#15275E" stroke-width="0.5"/><circle cx="648.6" cy="197.53" r="2.2" fill="#2B5DD9" stroke="#15275E" stroke-width="0.5"/><circle cx="648.6" cy="204.03" r="2.2" fill="#2B5DD9" stroke="#15275E" stroke-width="0.5"/><circle cx="648.6" cy="210.52" r="2.2" fill="#F6C61A" stroke="#5A4500" stroke-width="0.5"/><circle cx="648.6" cy="217.02" r="2.2" fill="#2B5DD9" stroke="#15275E" stroke-width="0.5"/><circle cx="648.6" cy="223.52" r="2.2" fill="#2B5DD9" stroke="#15275E" stroke-width="0.5"/><circle cx="648.6" cy="230.01" r="2.2" fill="#F6C61A" stroke="#5A4500" stroke-width="0.5"/>
<rect x="731.6" y="26" width="6.6" height="72.6" fill="url(#cbC)"/><text x="738.8" y="32" font-size="6.8" style="fill:#222">high</text><text x="738.8" y="97" font-size="6.8" style="fill:#222">low</text><text x="728.4" y="62.8" font-size="7.1" text-anchor="middle" transform="rotate(-90 728.4 62.8)" style="fill:#222">contacts (log10)</text>
</g>
<g id="modelE">
<circle class="s20" cx="360.7" cy="274" r="5"/><circle class="s20" cx="375.4" cy="273.1" r="5"/><circle class="s20" cx="371.1" cy="280.9" r="5"/><circle class="s20" cx="381" cy="288.2" r="5"/><circle class="s20" cx="354.4" cy="279.3" r="5"/><circle class="s20" cx="365.7" cy="294.9" r="5"/><circle class="s20" cx="358.6" cy="296" r="5"/><circle class="s20" cx="329.2" cy="297.4" r="5"/><circle class="s20" cx="336.1" cy="303.6" r="5"/><circle class="s20" cx="325.1" cy="307.1" r="5"/><circle class="s20" cx="341.4" cy="309.9" r="5"/><circle class="s20" cx="324.9" cy="315.5" r="5"/><circle class="s20" cx="332.4" cy="317.1" r="5"/><circle class="s20" cx="350.4" cy="309.1" r="5"/><circle class="s20" cx="353.9" cy="320.6" r="5"/><circle class="s20" cx="337" cy="328.9" r="5"/><circle class="s20" cx="328.3" cy="342.8" r="5"/><circle class="s20" cx="341.3" cy="343.1" r="5"/><circle class="s20" cx="348.6" cy="340.5" r="5"/><circle class="s20" cx="334.7" cy="348.9" r="5"/><circle class="s20" cx="342.5" cy="354.8" r="5"/><circle class="s20" cx="350.3" cy="353.6" r="5"/><circle class="s20" cx="376.5" cy="312.3" r="5"/><circle class="s20" cx="370.6" cy="320" r="5"/><circle class="s20" cx="379.1" cy="322.5" r="5"/><circle class="s20" cx="362.6" cy="328.3" r="5"/><circle class="s20" cx="389.9" cy="304" r="5"/><circle class="s20" cx="392.8" cy="300.8" r="5"/><circle class="s20" cx="415.5" cy="295.6" r="5"/><circle class="s20" cx="419.3" cy="306.7" r="5"/><circle class="s20" cx="398" cy="305.5" r="5"/><circle class="s20" cx="411.5" cy="310.5" r="5"/><circle class="s20" cx="387.7" cy="319.5" r="5"/><circle class="s20" cx="411.6" cy="321.4" r="5"/><circle class="s20" cx="385.8" cy="333.7" r="5"/><circle class="s20" cx="401" cy="342.5" r="5"/><circle class="s20" cx="416" cy="336.9" r="5"/><circle class="s20" cx="389.3" cy="347.3" r="5"/><circle class="s20" cx="380.1" cy="355.5" r="5"/><circle class="s20" cx="396.5" cy="359.6" r="5"/><circle class="s20" cx="409.9" cy="355.7" r="5"/><circle class="s20" cx="422.9" cy="352" r="5"/><circle class="s20" cx="383.9" cy="345.7" r="5"/><circle class="s20" cx="387.1" cy="379.6" r="5"/><circle class="s20" cx="394.9" cy="380.5" r="5"/><circle class="s20" cx="389.3" cy="386.8" r="5"/><circle class="s20" cx="382.3" cy="384.8" r="5"/><circle class="s20" cx="342.5" cy="345.1" r="5"/><circle class="s20" cx="346.9" cy="349.8" r="5"/><circle class="s20" cx="341.9" cy="356.7" r="5"/><circle class="s20" cx="333.2" cy="342.1" r="5"/><circle class="s20" cx="387.8" cy="347.6" r="5"/><circle class="s20" cx="380.4" cy="353.1" r="5"/><circle class="s20" cx="392.9" cy="359.4" r="5"/><circle class="s20" cx="411.6" cy="357.6" r="5"/><circle class="s20" cx="399.9" cy="369.4" r="5"/><circle class="s20" cx="413.3" cy="367.8" r="5"/><circle class="s20" cx="384.4" cy="373" r="5"/><circle class="s20" cx="403.1" cy="383.9" r="5"/><circle class="s20" cx="349.4" cy="400.2" r="5"/><circle class="s20" cx="361.6" cy="398.8" r="5"/><circle class="s20" cx="368.6" cy="400.9" r="5"/><circle class="s20" cx="378.2" cy="403.5" r="5"/><circle class="s20" cx="388.8" cy="393.2" r="5"/><circle class="s20" cx="375.7" cy="390.3" r="5"/><circle class="s20" cx="365.2" cy="412.6" r="5"/><circle class="s20" cx="357.9" cy="407.7" r="5"/><circle class="s20" cx="388.3" cy="408.7" r="5"/><circle class="s20" cx="403.5" cy="400.7" r="5"/><circle class="s20" cx="414.2" cy="394.6" r="5"/><circle class="s20" cx="425" cy="397.7" r="5"/><circle class="s20" cx="435.3" cy="393.3" r="5"/><circle class="s20" cx="421" cy="407.6" r="5"/><circle class="s20" cx="439.6" cy="413.5" r="5"/><circle class="s20" cx="428" cy="418.2" r="5"/><circle class="s20" cx="420" cy="416.4" r="5"/><circle class="s20" cx="387.6" cy="425.4" r="5"/><circle class="s20" cx="402.8" cy="423.6" r="5"/><circle class="s20" cx="385.1" cy="436.1" r="5"/><circle class="s20" cx="414.6" cy="426.3" r="5"/><circle class="s20" cx="427.9" cy="439.3" r="5"/><circle class="s20" cx="410.3" cy="450.3" r="5"/><circle class="s20" cx="393.5" cy="463.1" r="5"/><circle class="s20" cx="410" cy="461.7" r="5"/><circle class="s20" cx="414.6" cy="457.6" r="5"/><circle class="s20" cx="401.2" cy="507.4" r="5"/><circle class="s20" cx="398.8" cy="533" r="5"/><circle class="s20" cx="406.3" cy="485.9" r="5"/><circle class="s20" cx="412.9" cy="447.1" r="5"/><circle class="s20" cx="413.9" cy="453.9" r="5"/><circle class="s20" cx="397" cy="466.3" r="5"/><circle class="s20" cx="413.2" cy="466.8" r="5"/><circle class="s20" cx="398.3" cy="472.1" r="5"/><circle class="s20" cx="416.8" cy="477.2" r="5"/><circle class="s20" cx="407.3" cy="477.7" r="5"/><circle class="s20" cx="410.5" cy="494.9" r="5"/><circle class="s20" cx="403" cy="500.4" r="5"/><circle class="s20" cx="407.7" cy="510.3" r="5"/><circle class="s20" cx="405" cy="519" r="5"/><circle class="s20" cx="394.9" cy="527.3" r="5"/><circle class="s20" cx="406.3" cy="536.5" r="5"/><circle class="s20" cx="390" cy="537.4" r="5"/><circle class="s21" cx="365.7" cy="270.1" r="6.8"/><circle class="s21" cx="384.2" cy="277.9" r="6.8"/><circle class="s21" cx="374.6" cy="296.8" r="6.8"/><circle class="s21" cx="345.7" cy="304.6" r="6.8"/><circle class="s21" cx="356.8" cy="329.1" r="6.8"/><circle class="s21" cx="370.2" cy="330.2" r="6.8"/><circle class="s21" cx="331.2" cy="311.3" r="4.5"/><circle class="s21" cx="378" cy="374.5" r="6.8"/><circle class="s21" cx="393.6" cy="391.2" r="6.8"/><circle class="s21" cx="409.2" cy="404.6" r="6.8"/><circle class="s21" cx="381.3" cy="413.5" r="6.8"/><circle class="s21" cx="424.8" cy="451.4" r="6.8"/><circle class="s21" cx="420.3" cy="462.5" r="6.8"/><circle class="s21" cx="404.7" cy="443.6" r="6.8"/><circle class="s21" cx="369.1" cy="392.4" r="4"/><circle class="s21" cx="424.8" cy="450.8" r="6.8"/><circle class="s21" cx="421.4" cy="463.1" r="6.8"/><circle class="s21" cx="398" cy="516.5" r="6.8"/><circle class="s22" cx="361" cy="275.9" r="5.6"/><circle class="s22" cx="375.9" cy="276.1" r="5.6"/><circle class="s22" cx="370.7" cy="284.7" r="5.6"/><circle class="s22" cx="379.5" cy="289.1" r="5.6"/><circle class="s22" cx="350.9" cy="280.4" r="5.6"/><circle class="s22" cx="363.3" cy="294.6" r="5.6"/><circle class="s22" cx="360.3" cy="297.7" r="5.6"/><circle class="s22" cx="332.8" cy="297.9" r="5.6"/><circle class="s22" cx="334.3" cy="305" r="5.6"/><circle class="s22" cx="327.1" cy="305.9" r="5.6"/><circle class="s22" cx="340.4" cy="312.2" r="5.6"/><circle class="s22" cx="323.5" cy="316" r="5.6"/><circle class="s22" cx="332" cy="317.6" r="5.6"/><circle class="s22" cx="346.1" cy="308.1" r="5.6"/><circle class="s22" cx="354.1" cy="317.7" r="5.6"/><circle class="s22" cx="335.2" cy="327.5" r="5.6"/><circle class="s22" cx="328.1" cy="341.2" r="5.6"/><circle class="s22" cx="342" cy="342.6" r="5.6"/><circle class="s22" cx="349.9" cy="337.5" r="5.6"/><circle class="s22" cx="334.5" cy="350.5" r="5.6"/><circle class="s22" cx="342.2" cy="355.1" r="5.6"/><circle class="s22" cx="352.6" cy="353.6" r="5.6"/><circle class="s22" cx="374.8" cy="310.4" r="5.6"/><circle class="s22" cx="369.9" cy="316.5" r="5.6"/><circle class="s22" cx="375.7" cy="323.6" r="5.6"/><circle class="s22" cx="363.7" cy="328.3" r="5.6"/><circle class="s22" cx="390.6" cy="305.5" r="5.6"/><circle class="s22" cx="395.5" cy="298.6" r="5.6"/><circle class="s22" cx="414.7" cy="296" r="5.6"/><circle class="s22" cx="419.7" cy="306.6" r="5.6"/><circle class="s22" cx="396.8" cy="308.7" r="5.6"/><circle class="s22" cx="410.8" cy="310" r="5.6"/><circle class="s22" cx="388.8" cy="319.6" r="5.6"/><circle class="s22" cx="411.6" cy="322.5" r="5.6"/><circle class="s22" cx="383.3" cy="331.9" r="5.6"/><circle class="s22" cx="400.7" cy="338.4" r="5.6"/><circle class="s22" cx="415.3" cy="338.2" r="5.6"/><circle class="s22" cx="389.9" cy="347.9" r="5.6"/><circle class="s22" cx="382.7" cy="354.5" r="5.6"/><circle class="s22" cx="394.5" cy="359.4" r="5.6"/><circle class="s22" cx="410.6" cy="358" r="5.6"/><circle class="s22" cx="419.1" cy="350.4" r="5.6"/><circle class="s22" cx="381.4" cy="343.3" r="5.6"/><circle class="s22" cx="389.1" cy="379.9" r="5.6"/><circle class="s22" cx="396.4" cy="376.9" r="5.6"/><circle class="s22" cx="389.4" cy="386.9" r="5.6"/><circle class="s22" cx="382.4" cy="385.1" r="5.6"/><circle class="s22" cx="339.7" cy="344.8" r="5.6"/><circle class="s22" cx="347.9" cy="350.5" r="5.6"/><circle class="s22" cx="342.6" cy="355.9" r="5.6"/><circle class="s22" cx="329.2" cy="342.8" r="5.6"/><circle class="s22" cx="390.4" cy="345.6" r="5.6"/><circle class="s22" cx="384.3" cy="354.7" r="5.6"/><circle class="s22" cx="393.2" cy="359.7" r="5.6"/><circle class="s22" cx="408.7" cy="355" r="5.6"/><circle class="s22" cx="396" cy="369.2" r="5.6"/><circle class="s22" cx="411.4" cy="370" r="5.6"/><circle class="s22" cx="385.5" cy="374.5" r="5.6"/><circle class="s22" cx="404.2" cy="387.5" r="5.6"/><circle class="s22" cx="349.7" cy="399.8" r="5.6"/><circle class="s22" cx="359.6" cy="395.3" r="5.6"/><circle class="s22" cx="368.6" cy="400.9" r="5.6"/><circle class="s22" cx="376.9" cy="402.8" r="5.6"/><circle class="s22" cx="385.2" cy="393.7" r="5.6"/><circle class="s22" cx="376.5" cy="390.2" r="5.6"/><circle class="s22" cx="367.8" cy="413.8" r="5.6"/><circle class="s22" cx="359.5" cy="405.7" r="5.6"/><circle class="s22" cx="390.5" cy="408.8" r="5.6"/><circle class="s22" cx="401.8" cy="399.5" r="5.6"/><circle class="s22" cx="417.7" cy="394.9" r="5.6"/><circle class="s22" cx="425.7" cy="396.5" r="5.6"/><circle class="s22" cx="434.4" cy="394.5" r="5.6"/><circle class="s22" cx="423.3" cy="404.6" r="5.6"/><circle class="s22" cx="438" cy="414.1" r="5.6"/><circle class="s22" cx="428.9" cy="418.9" r="5.6"/><circle class="s22" cx="420.9" cy="416.6" r="5.6"/><circle class="s22" cx="389" cy="425" r="5.6"/><circle class="s22" cx="401.3" cy="426.5" r="5.6"/><circle class="s22" cx="384.9" cy="432.7" r="5.6"/><circle class="s22" cx="417.1" cy="429" r="5.6"/><circle class="s22" cx="427" cy="439.7" r="5.6"/><circle class="s22" cx="408.6" cy="447.2" r="5.6"/><circle class="s22" cx="396.8" cy="461.6" r="5.6"/><circle class="s22" cx="410.1" cy="464.3" r="5.6"/><circle class="s22" cx="414.5" cy="454.9" r="5.6"/><circle class="s22" cx="402.8" cy="509.3" r="5.6"/><circle class="s22" cx="402" cy="531.6" r="5.6"/><circle class="s22" cx="405.8" cy="489" r="5.6"/><circle class="s22" cx="408.3" cy="447.4" r="5.6"/><circle class="s22" cx="414.2" cy="453.5" r="5.6"/><circle class="s22" cx="395.7" cy="465.9" r="5.6"/><circle class="s22" cx="411.4" cy="469.4" r="5.6"/><circle class="s22" cx="397.8" cy="474.1" r="5.6"/><circle class="s22" cx="417.1" cy="480.2" r="5.6"/><circle class="s22" cx="406.8" cy="478.4" r="5.6"/><circle class="s22" cx="411" cy="494.7" r="5.6"/><circle class="s22" cx="406.3" cy="503" r="5.6"/><circle class="s22" cx="410.3" cy="512.8" r="5.6"/><circle class="s22" cx="402.4" cy="518" r="5.6"/><circle class="s22" cx="398.1" cy="525.4" r="5.6"/><circle class="s22" cx="405" cy="536.1" r="5.6"/><circle class="s22" cx="392.7" cy="538.7" r="5.6"/><circle class="s23" cx="368.5" cy="275.7" r="5.9"/><circle class="s23" cx="366.8" cy="279.5" r="5.9"/><circle class="s23" cx="357.4" cy="277.9" r="5.9"/><circle class="s23" cx="358.8" cy="280.1" r="5.9"/><circle class="s23" cx="373" cy="279.5" r="5.9"/><circle class="s23" cx="376.9" cy="281.8" r="5.9"/><circle class="s23" cx="375.2" cy="285.7" r="5.9"/><circle class="s23" cx="365.7" cy="300.7" r="5.9"/><circle class="s23" cx="357.7" cy="290.1" r="5.9"/><circle class="s23" cx="363.5" cy="300.7" r="5.9"/><circle class="s23" cx="328.4" cy="301.3" r="5.9"/><circle class="s23" cx="330.1" cy="304.1" r="5.9"/><circle class="s23" cx="337.9" cy="307.4" r="5.9"/><circle class="s23" cx="325.1" cy="310.7" r="5.9"/><circle class="s23" cx="337.3" cy="314.6" r="5.9"/><circle class="s23" cx="329" cy="317.4" r="5.9"/><circle class="s23" cx="334" cy="323.6" r="5.9"/><circle class="s23" cx="350.7" cy="314.1" r="5.9"/><circle class="s23" cx="354" cy="311.3" r="5.9"/><circle class="s23" cx="358.5" cy="323" r="5.9"/><circle class="s23" cx="356.8" cy="316.3" r="5.9"/><circle class="s23" cx="331.8" cy="334.7" r="5.9"/><circle class="s23" cx="340.1" cy="329.7" r="5.9"/><circle class="s23" cx="332.3" cy="345.8" r="5.9"/><circle class="s23" cx="335.1" cy="342.4" r="5.9"/><circle class="s23" cx="339.5" cy="347.5" r="5.9"/><circle class="s23" cx="342.3" cy="349.7" r="5.9"/><circle class="s23" cx="347.3" cy="348.1" r="5.9"/><circle class="s23" cx="345.7" cy="347.9" r="5.9"/><circle class="s23" cx="342.3" cy="349.6" r="5.9"/><circle class="s23" cx="337.3" cy="342.9" r="5.9"/><circle class="s23" cx="344.6" cy="341.2" r="5.9"/><circle class="s23" cx="346.8" cy="334.1" r="5.9"/><circle class="s23" cx="338.4" cy="347.9" r="5.9"/><circle class="s23" cx="341.8" cy="351.8" r="5.9"/><circle class="s23" cx="333.4" cy="346.8" r="5.9"/><circle class="s23" cx="346.2" cy="354.2" r="5.9"/><circle class="s23" cx="341.2" cy="350.2" r="5.9"/><circle class="s23" cx="344.6" cy="354.1" r="5.9"/><circle class="s23" cx="346.2" cy="348.5" r="5.9"/><circle class="s23" cx="346.2" cy="354.1" r="5.9"/><circle class="s23" cx="373.5" cy="314.6" r="5.9"/><circle class="s23" cx="376.3" cy="316.9" r="5.9"/><circle class="s23" cx="371.3" cy="308.5" r="5.9"/><circle class="s23" cx="367.4" cy="322.4" r="5.9"/><circle class="s23" cx="369.1" cy="311.9" r="5.9"/><circle class="s23" cx="365.7" cy="315.8" r="5.9"/><circle class="s23" cx="383" cy="320.2" r="5.9"/><circle class="s23" cx="380.8" cy="326.9" r="5.9"/><circle class="s23" cx="391.4" cy="302.4" r="5.9"/><circle class="s23" cx="393.6" cy="306.8" r="5.9"/><circle class="s23" cx="389.1" cy="311.9" r="5.9"/><circle class="s23" cx="395.8" cy="303.5" r="5.9"/><circle class="s23" cx="399.4" cy="297.7" r="5.9"/><circle class="s23" cx="417" cy="301.8" r="5.9"/><circle class="s23" cx="410.5" cy="296.6" r="5.9"/><circle class="s23" cx="413.6" cy="308.5" r="5.9"/><circle class="s23" cx="403.6" cy="309.1" r="5.9"/><circle class="s23" cx="393.6" cy="313" r="5.9"/><circle class="s23" cx="409.7" cy="315.8" r="5.9"/><circle class="s23" cx="393.6" cy="321.1" r="5.9"/><circle class="s23" cx="404.2" cy="322.8" r="5.9"/><circle class="s23" cx="410.5" cy="326.9" r="5.9"/><circle class="s23" cx="395.3" cy="343.1" r="5.9"/><circle class="s23" cx="394.7" cy="343.5" r="5.9"/><circle class="s23" cx="405.5" cy="336.4" r="5.9"/><circle class="s23" cx="386.3" cy="350.9" r="5.9"/><circle class="s23" cx="392.5" cy="352" r="5.9"/><circle class="s23" cx="386.3" cy="345.3" r="5.9"/><circle class="s23" cx="386.3" cy="350.2" r="5.9"/><circle class="s23" cx="388.6" cy="357" r="5.9"/><circle class="s23" cx="382.4" cy="350.3" r="5.9"/><circle class="s23" cx="385.8" cy="351.3" r="5.9"/><circle class="s23" cx="388.6" cy="357.4" r="5.9"/><circle class="s23" cx="391.9" cy="352.4" r="5.9"/><circle class="s23" cx="388.6" cy="356.3" r="5.9"/><circle class="s23" cx="396.4" cy="363.5" r="5.9"/><circle class="s23" cx="414.8" cy="354.8" r="5.9"/><circle class="s23" cx="410.9" cy="363.5" r="5.9"/><circle class="s23" cx="415.3" cy="357.5" r="5.9"/><circle class="s23" cx="415.3" cy="357.4" r="5.9"/><circle class="s23" cx="414.8" cy="354.1" r="5.9"/><circle class="s23" cx="382.4" cy="349.6" r="5.9"/><circle class="s23" cx="392.7" cy="379.8" r="5.9"/><circle class="s23" cx="388" cy="387.3" r="5.9"/><circle class="s23" cx="393.6" cy="382.8" r="5.9"/><circle class="s23" cx="397.1" cy="373.6" r="5.9"/><circle class="s23" cx="390.5" cy="377" r="5.9"/><circle class="s23" cx="400.5" cy="382" r="5.9"/><circle class="s23" cx="386.9" cy="385.3" r="5.9"/><circle class="s23" cx="387.8" cy="381.4" r="5.9"/><circle class="s23" cx="384.4" cy="388.7" r="5.9"/><circle class="s23" cx="383.8" cy="379.5" r="5.9"/><circle class="s23" cx="384.9" cy="388.5" r="5.9"/><circle class="s23" cx="380.4" cy="386.8" r="5.9"/><circle class="s23" cx="344.6" cy="348.4" r="5.9"/><circle class="s23" cx="341.2" cy="350" r="5.9"/><circle class="s23" cx="336.2" cy="343.3" r="5.9"/><circle class="s23" cx="385.8" cy="350.6" r="5.9"/><circle class="s23" cx="391.9" cy="352.8" r="5.9"/><circle class="s23" cx="388.6" cy="356.7" r="5.9"/><circle class="s23" cx="396.4" cy="364" r="5.9"/><circle class="s23" cx="410.9" cy="362.8" r="5.9"/><circle class="s23" cx="415.3" cy="356.8" r="5.9"/><circle class="s23" cx="415.3" cy="356.7" r="5.9"/><circle class="s23" cx="354" cy="397.9" r="5.9"/><circle class="s23" cx="364.6" cy="397.9" r="5.9"/><circle class="s23" cx="359.6" cy="401.8" r="5.9"/><circle class="s23" cx="372.4" cy="401.3" r="5.9"/><circle class="s23" cx="373.5" cy="394.6" r="5.9"/><circle class="s23" cx="364.1" cy="402.9" r="5.9"/><circle class="s23" cx="371.3" cy="408" r="5.9"/><circle class="s23" cx="382.4" cy="391.8" r="5.9"/><circle class="s23" cx="362.9" cy="409.6" r="5.9"/><circle class="s23" cx="395.8" cy="404.1" r="5.9"/><circle class="s23" cx="419.8" cy="395.7" r="5.9"/><circle class="s23" cx="419.2" cy="400.2" r="5.9"/><circle class="s23" cx="429.2" cy="396.3" r="5.9"/><circle class="s23" cx="423.1" cy="401.3" r="5.9"/><circle class="s23" cx="422" cy="410.2" r="5.9"/><circle class="s23" cx="434.2" cy="418" r="5.9"/><circle class="s23" cx="425.3" cy="417.4" r="5.9"/><circle class="s23" cx="386.9" cy="428.6" r="5.9"/><circle class="s23" cx="392.5" cy="428.6" r="5.9"/><circle class="s23" cx="399.7" cy="429.7" r="5.9"/><circle class="s23" cx="391.4" cy="433.6" r="5.9"/><circle class="s23" cx="421.4" cy="440.8" r="5.9"/><circle class="s23" cx="422" cy="441.6" r="5.9"/><circle class="s23" cx="413.1" cy="452" r="5.9"/><circle class="s23" cx="413.1" cy="451.1" r="5.9"/><circle class="s23" cx="413.6" cy="445.3" r="5.9"/><circle class="s23" cx="404.2" cy="450.9" r="5.9"/><circle class="s23" cx="414.2" cy="446.1" r="5.9"/><circle class="s23" cx="404.2" cy="450.9" r="5.9"/><circle class="s23" cx="397.5" cy="468.4" r="5.9"/><circle class="s23" cx="396.9" cy="458.1" r="5.9"/><circle class="s23" cx="396.9" cy="458.1" r="5.9"/><circle class="s23" cx="413.6" cy="459.8" r="5.9"/><circle class="s23" cx="413.6" cy="458.9" r="5.9"/><circle class="s23" cx="413.1" cy="451.7" r="5.9"/><circle class="s23" cx="413.6" cy="461.7" r="5.9"/><circle class="s23" cx="416.4" cy="449.2" r="5.9"/><circle class="s23" cx="417" cy="450" r="5.9"/><circle class="s23" cx="403.1" cy="505.9" r="5.9"/><circle class="s23" cx="405.3" cy="511" r="5.9"/><circle class="s23" cx="402.5" cy="514.3" r="5.9"/><circle class="s23" cx="397.5" cy="506.5" r="5.9"/><circle class="s23" cx="401.9" cy="524.9" r="5.9"/><circle class="s23" cx="395.6" cy="534.7" r="5.9"/><circle class="s23" cx="405.8" cy="483.7" r="5.9"/><circle class="s23" cx="408.1" cy="492" r="5.9"/><circle class="s23" cx="409.7" cy="487.6" r="5.9"/><circle class="s23" cx="401.4" cy="491.5" r="5.9"/><circle class="s23" cx="413.1" cy="450.8" r="5.9"/><circle class="s23" cx="413.6" cy="445" r="5.9"/><circle class="s23" cx="414.2" cy="445.8" r="5.9"/><circle class="s23" cx="416.4" cy="448.3" r="5.9"/><circle class="s23" cx="417" cy="449.1" r="5.9"/><circle class="s23" cx="397.5" cy="469.2" r="5.9"/><circle class="s23" cx="396.9" cy="458.9" r="5.9"/><circle class="s23" cx="396.9" cy="458.9" r="5.9"/><circle class="s23" cx="414.2" cy="473.1" r="5.9"/><circle class="s23" cx="409.2" cy="473.6" r="5.9"/><circle class="s23" cx="403.1" cy="477" r="5.9"/><circle class="s23" cx="412" cy="479.2" r="5.9"/><circle class="s23" cx="415.9" cy="483.1" r="5.9"/><circle class="s23" cx="410.9" cy="483.7" r="5.9"/><circle class="s23" cx="408.1" cy="499.3" r="5.9"/><circle class="s23" cx="413.1" cy="492" r="5.9"/><circle class="s23" cx="404.7" cy="495.9" r="5.9"/><circle class="s23" cx="407" cy="507.1" r="5.9"/><circle class="s23" cx="401.4" cy="498.7" r="5.9"/><circle class="s23" cx="399.2" cy="502.6" r="5.9"/><circle class="s23" cx="406.4" cy="515.4" r="5.9"/><circle class="s23" cx="400.3" cy="522.7" r="5.9"/><circle class="s23" cx="401.4" cy="530.5" r="5.9"/><circle class="s23" cx="393.9" cy="532.5" r="5.9"/><circle class="s23" cx="408.1" cy="537.7" r="5.9"/><circle class="s23" cx="392.2" cy="543" r="5.9"/><circle class="s23" cx="363.5" cy="309.6" r="5.9"/><circle class="s23" cx="395.8" cy="499.3" r="5.9"/><circle class="s23" cx="396.9" cy="550" r="5.9"/><circle class="s23" cx="403.1" cy="556.1" r="5.9"/><circle class="s23" cx="410.3" cy="557.8" r="5.9"/><circle class="s24" cx="362.4" cy="275.7" r="6.5"/><circle class="s24" cx="374.6" cy="275.7" r="6.6"/><circle class="s24" cx="371.3" cy="283.4" r="7.3"/><circle class="s24" cx="379.1" cy="287.9" r="7"/><circle class="s24" cx="352.4" cy="280.1" r="6.7"/><circle class="s24" cx="364.6" cy="295.7" r="6.6"/><circle class="s24" cx="360.2" cy="295.7" r="7.3"/><circle class="s24" cx="331.2" cy="297.9" r="7"/><circle class="s24" cx="334.5" cy="303.5" r="7.2"/><circle class="s24" cx="325.6" cy="304.6" r="6.6"/><circle class="s24" cx="341.2" cy="311.3" r="7"/><circle class="s24" cx="324.5" cy="316.9" r="6.8"/><circle class="s24" cx="333.4" cy="318" r="6.7"/><circle class="s24" cx="347.9" cy="309.1" r="6.8"/><circle class="s24" cx="353.5" cy="319.1" r="7"/><circle class="s24" cx="334.5" cy="329.1" r="6.8"/><circle class="s24" cx="329" cy="340.3" r="6.8"/><circle class="s24" cx="343.4" cy="343.6" r="6.6"/><circle class="s24" cx="347.9" cy="338" r="7.2"/><circle class="s24" cx="335.7" cy="351.4" r="7"/><circle class="s24" cx="341.2" cy="355.9" r="7.1"/><circle class="s24" cx="351.2" cy="352.5" r="6.8"/><circle class="s24" cx="375.8" cy="311.3" r="7.2"/><circle class="s24" cx="371.3" cy="318" r="6.9"/><circle class="s24" cx="376.9" cy="322.4" r="7"/><circle class="s24" cx="363.5" cy="326.9" r="7"/><circle class="s24" cx="389.1" cy="305.7" r="7.1"/><circle class="s24" cx="393.6" cy="299" r="6.8"/><circle class="s24" cx="415.9" cy="296.8" r="6.6"/><circle class="s24" cx="418.1" cy="306.8" r="6.5"/><circle class="s24" cx="398" cy="308" r="6.7"/><circle class="s24" cx="409.2" cy="310.2" r="6.5"/><circle class="s24" cx="389.1" cy="318" r="7.2"/><circle class="s24" cx="410.3" cy="321.3" r="6.9"/><circle class="s24" cx="384.7" cy="331.4" r="7.1"/><circle class="s24" cx="400.3" cy="340.3" r="6.5"/><circle class="s24" cx="413.6" cy="338" r="6.9"/><circle class="s24" cx="390.2" cy="345.8" r="7.2"/><circle class="s24" cx="382.4" cy="355.9" r="7"/><circle class="s24" cx="394.7" cy="358.1" r="6.8"/><circle class="s24" cx="409.2" cy="358.1" r="6.9"/><circle class="s24" cx="420.3" cy="351.4" r="6.6"/><circle class="s24" cx="382.4" cy="344.7" r="6.6"/><circle class="s24" cx="389.1" cy="381.2" r="6.6"/><circle class="s24" cx="396.3" cy="378.3" r="6.8"/><circle class="s24" cx="390.9" cy="387.2" r="6.8"/><circle class="s24" cx="382.9" cy="383.4" r="7.2"/><circle class="s24" cx="341.2" cy="344.5" r="6.6"/><circle class="s24" cx="347.9" cy="352.3" r="6.7"/><circle class="s24" cx="341.2" cy="355.6" r="6.7"/><circle class="s24" cx="331.2" cy="342.2" r="6.6"/><circle class="s24" cx="389.1" cy="346.7" r="6.7"/><circle class="s24" cx="382.4" cy="354.5" r="6.7"/><circle class="s24" cx="394.7" cy="358.9" r="6.9"/><circle class="s24" cx="409.2" cy="356.7" r="6.5"/><circle class="s24" cx="398" cy="369" r="7.2"/><circle class="s24" cx="412.5" cy="369" r="6.8"/><circle class="s24" cx="384.7" cy="375.7" r="7.3"/><circle class="s24" cx="404.7" cy="385.7" r="7.1"/><circle class="s24" cx="347.9" cy="399" r="7"/><circle class="s24" cx="360.2" cy="396.8" r="6.9"/><circle class="s24" cx="369.1" cy="399" r="7.3"/><circle class="s24" cx="375.8" cy="403.5" r="6.6"/><circle class="s24" cx="386.9" cy="393.5" r="7"/><circle class="s24" cx="378" cy="390.1" r="6.7"/><circle class="s24" cx="366.8" cy="412.4" r="7"/><circle class="s24" cx="359" cy="406.8" r="7.1"/><circle class="s24" cx="390.2" cy="406.8" r="6.6"/><circle class="s24" cx="401.4" cy="401.3" r="6.7"/><circle class="s24" cx="415.9" cy="394.6" r="6.5"/><circle class="s24" cx="423.7" cy="396.8" r="6.7"/><circle class="s24" cx="434.8" cy="395.7" r="6.6"/><circle class="s24" cx="422.5" cy="405.7" r="6.8"/><circle class="s24" cx="439.3" cy="415.8" r="7.3"/><circle class="s24" cx="429.2" cy="420.2" r="6.8"/><circle class="s24" cx="421.4" cy="414.6" r="6.7"/><circle class="s24" cx="388" cy="423.6" r="6.9"/><circle class="s24" cx="402.5" cy="425.8" r="6.7"/><circle class="s24" cx="385.8" cy="433.6" r="7.1"/><circle class="s24" cx="415.9" cy="428" r="7.1"/><circle class="s24" cx="425.9" cy="439.2" r="6.6"/><circle class="s24" cx="410.3" cy="448.1" r="6.7"/><circle class="s24" cx="395.8" cy="462.5" r="7"/><circle class="s24" cx="411.4" cy="463.7" r="7.3"/><circle class="s24" cx="415.9" cy="455.9" r="7"/><circle class="s24" cx="401.4" cy="509.8" r="6.8"/><circle class="s24" cx="400.3" cy="531" r="7.3"/><circle class="s24" cx="404.7" cy="487.6" r="6.5"/><circle class="s24" cx="410.3" cy="447.5" r="6.5"/><circle class="s24" cx="415.9" cy="454.1" r="7.1"/><circle class="s24" cx="395.8" cy="464.2" r="6.8"/><circle class="s24" cx="411.4" cy="467.5" r="6.5"/><circle class="s24" cx="399.2" cy="474.2" r="6.9"/><circle class="s24" cx="417" cy="478.7" r="7.3"/><circle class="s24" cx="407" cy="479.8" r="6.9"/><circle class="s24" cx="411.4" cy="496.5" r="6.8"/><circle class="s24" cx="404.7" cy="502" r="6.6"/><circle class="s24" cx="409.2" cy="512.1" r="6.6"/><circle class="s24" cx="403.6" cy="518.8" r="7.2"/><circle class="s24" cx="396.9" cy="526.6" r="6.9"/><circle class="s24" cx="405.8" cy="534.4" r="7.2"/><circle class="s24" cx="390.9" cy="538.4" r="6.5"/><circle class="s21" cx="355.3" cy="284.6" r="7.2"/><circle class="s21" cx="366.8" cy="305.7" r="7.2"/><circle class="s21" cx="360.2" cy="313.5" r="7.2"/><circle class="s21" cx="345.7" cy="330.2" r="7.2"/><circle class="s21" cx="405.2" cy="296.4" r="7.2"/><circle class="s21" cx="398" cy="324.2" r="7.2"/><circle class="s21" cx="410.7" cy="332.5" r="7.2"/><circle class="s21" cx="421.4" cy="357" r="7.2"/><circle class="s21" cx="421.4" cy="356.7" r="7.2"/><circle class="s21" cx="396.9" cy="433.6" r="7.2"/><circle class="s21" cx="417" cy="442.5" r="7.2"/><circle class="s21" cx="398" cy="453.6" r="7.2"/><circle class="s21" cx="418.1" cy="444.1" r="7.2"/><circle class="s21" cx="398" cy="453.7" r="7.2"/><circle class="s21" cx="414.8" cy="487.6" r="7.2"/><circle class="s21" cx="398" cy="495.4" r="7.2"/><circle class="s21" cx="393.6" cy="503.2" r="7.2"/><circle class="s21" cx="410.3" cy="541" r="7.2"/><circle class="s21" cx="393.6" cy="547.7" r="7.2"/><circle class="s21" cx="400.3" cy="552.2" r="7.2"/><circle class="s21" cx="414.8" cy="555.5" r="7.2"/><circle class="s21" cx="405.8" cy="560" r="7.2"/>
</g>
<g id="panelF">
<circle class="s31" cx="562.1" cy="371.8" r="10.1"/>
<circle class="s31" cx="590.6" cy="410" r="10.5"/>
<circle class="s31" cx="579.4" cy="421.8" r="10.1"/>
<circle class="s31" cx="549.6" cy="425.8" r="9.5"/>
<circle class="s31" cx="573.7" cy="451.6" r="10.5"/>
<circle class="s24" cx="576.6" cy="361.8" r="10.7"/>
<circle class="s24" cx="591" cy="382.4" r="10.5"/>
<circle class="s24" cx="546.3" cy="365.3" r="10.9"/>
<circle class="s24" cx="533.7" cy="377.1" r="10.9"/>
<circle class="s24" cx="526.6" cy="393.4" r="10.5"/>
<circle class="s24" cx="539.5" cy="393" r="10.9"/>
<circle class="s24" cx="572.2" cy="397" r="11.1"/>
<circle class="s24" cx="555.6" cy="386.4" r="11.3"/>
<circle class="s31" cx="562.9" cy="351.3" r="11.3"/>
<circle class="s31" cx="578.3" cy="384.4" r="12.1"/>
<circle class="s24" cx="571.5" cy="415" r="10.7"/>
<circle class="s24" cx="585" cy="411.5" r="11.1"/>
<circle class="s24" cx="555.7" cy="412" r="11.3"/>
<circle class="s24" cx="563.7" cy="430" r="10.1"/>
<circle class="s24" cx="538.6" cy="424.6" r="10.7"/>
<circle class="s24" cx="541.3" cy="444.5" r="10.5"/>
<circle class="s24" cx="551.8" cy="441" r="10.9"/>
<circle class="s24" cx="571" cy="439.2" r="11.1"/>
<circle class="s31" cx="584.7" cy="466.8" r="11.1"/>
<circle class="s24" cx="559.7" cy="461.6" r="10.3"/>
<circle class="s24" cx="569" cy="466.8" r="11.3"/>
<clipPath id="clipF"><polygon points="650.2,318.2 739,406.9 650.2,495.7"/></clipPath><g clip-path="url(#clipF)" shape-rendering="crispEdges"><rect x="650.2" y="318.2" width="89.8" height="177.5" fill="#E81000"/><path d="M647.09,321.16L650.2,318.05L653.31,321.16L650.2,324.27Z" fill="#FFEB28"/><path d="M650.05,324.12L653.16,321.01L656.27,324.12L653.16,327.23Z" fill="#FFDE1C"/><path d="M653.01,327.07L656.12,323.97L659.23,327.07L656.12,330.18Z" fill="#FFA708"/><path d="M655.97,330.03L659.08,326.92L662.18,330.03L659.08,333.14Z" fill="#FF6D00"/><path d="M658.93,332.99L662.03,329.88L665.14,332.99L662.03,336.1Z" fill="#FF5600"/><path d="M661.88,335.95L664.99,332.84L668.1,335.95L664.99,339.06Z" fill="#FE4500"/><path d="M664.84,338.91L667.95,335.8L671.06,338.91L667.95,342.02Z" fill="#FB2A00"/><path d="M667.8,341.87L670.91,338.76L674.02,341.87L670.91,344.98Z" fill="#F82500"/><path d="M670.76,344.82L673.87,341.72L676.98,344.82L673.87,347.93Z" fill="#F11800"/><path d="M673.72,347.78L676.83,344.67L679.93,347.78L676.83,350.89Z" fill="#E60D00"/><path d="M676.68,350.74L679.78,347.63L682.89,350.74L679.78,353.85Z" fill="#F41E00"/><path d="M679.63,353.7L682.74,350.59L685.85,353.7L682.74,356.81Z" fill="#F21A00"/><path d="M682.59,356.66L685.7,353.55L688.81,356.66L685.7,359.77Z" fill="#F72400"/><path d="M685.55,359.62L688.66,356.51L691.77,359.62L688.66,362.73Z" fill="#F01600"/><path d="M688.51,362.57L691.62,359.47L694.73,362.57L691.62,365.68Z" fill="#EB1000"/><path d="M691.47,365.53L694.58,362.42L697.68,365.53L694.58,368.64Z" fill="#EA0F00"/><path d="M694.43,368.49L697.53,365.38L700.64,368.49L697.53,371.6Z" fill="#D30200"/><path d="M697.38,371.45L700.49,368.34L703.6,371.45L700.49,374.56Z" fill="#E60D00"/><path d="M700.34,374.41L703.45,371.3L706.56,374.41L703.45,377.52Z" fill="#E70E00"/><path d="M703.3,377.37L706.41,374.26L709.52,377.37L706.41,380.48Z" fill="#DF0900"/><path d="M706.26,380.32L709.37,377.22L712.48,380.32L709.37,383.43Z" fill="#E30B00"/><path d="M709.22,383.28L712.33,380.17L715.43,383.28L712.33,386.39Z" fill="#DC0700"/><path d="M712.18,386.24L715.28,383.13L718.39,386.24L715.28,389.35Z" fill="#DE0800"/><path d="M715.13,389.2L718.24,386.09L721.35,389.2L718.24,392.31Z" fill="#DA0600"/><path d="M718.09,392.16L721.2,389.05L724.31,392.16L721.2,395.27Z" fill="#CB0000"/><path d="M721.05,395.12L724.16,392.01L727.27,395.12L724.16,398.23Z" fill="#BF0001"/><path d="M724.01,398.07L727.12,394.97L730.23,398.07L727.12,401.18Z" fill="#C00001"/><path d="M726.97,401.03L730.08,397.92L733.18,401.03L730.08,404.14Z" fill="#BA0002"/><path d="M729.93,403.99L733.03,400.88L736.14,403.99L733.03,407.1Z" fill="#960006"/><path d="M732.88,406.95L735.99,403.84L739.1,406.95L735.99,410.06Z" fill="#9E0004"/><path d="M647.09,327.07L650.2,323.97L653.31,327.07L650.2,330.18Z" fill="#FFF430"/><path d="M650.05,330.03L653.16,326.92L656.27,330.03L653.16,333.14Z" fill="#FFE522"/><path d="M653.01,332.99L656.12,329.88L659.23,332.99L656.12,336.1Z" fill="#FF9E05"/><path d="M655.97,335.95L659.08,332.84L662.18,335.95L659.08,339.06Z" fill="#FF7300"/><path d="M658.93,338.91L662.03,335.8L665.14,338.91L662.03,342.02Z" fill="#FF6300"/><path d="M661.88,341.87L664.99,338.76L668.1,341.87L664.99,344.98Z" fill="#FF5100"/><path d="M664.84,344.82L667.95,341.72L671.06,344.82L667.95,347.93Z" fill="#FB2A00"/><path d="M667.8,347.78L670.91,344.67L674.02,347.78L670.91,350.89Z" fill="#FA2900"/><path d="M670.76,350.74L673.87,347.63L676.98,350.74L673.87,353.85Z" fill="#FD3400"/><path d="M673.72,353.7L676.83,350.59L679.93,353.7L676.83,356.81Z" fill="#F41C00"/><path d="M676.68,356.66L679.78,353.55L682.89,356.66L679.78,359.77Z" fill="#EC1100"/><path d="M679.63,359.62L682.74,356.51L685.85,359.62L682.74,362.73Z" fill="#FB2A00"/><path d="M682.59,362.57L685.7,359.47L688.81,362.57L685.7,365.68Z" fill="#F51E00"/><path d="M685.55,365.53L688.66,362.42L691.77,365.53L688.66,368.64Z" fill="#F21A00"/><path d="M688.51,368.49L691.62,365.38L694.73,368.49L691.62,371.6Z" fill="#F01600"/><path d="M691.47,371.45L694.58,368.34L697.68,371.45L694.58,374.56Z" fill="#E80E00"/><path d="M694.43,374.41L697.53,371.3L700.64,374.41L697.53,377.52Z" fill="#EA0F00"/><path d="M697.38,377.37L700.49,374.26L703.6,377.37L700.49,380.48Z" fill="#EF1400"/><path d="M700.34,380.32L703.45,377.22L706.56,380.32L703.45,383.43Z" fill="#E20B00"/><path d="M703.3,383.28L706.41,380.17L709.52,383.28L706.41,386.39Z" fill="#E50C00"/><path d="M706.26,386.24L709.37,383.13L712.48,386.24L709.37,389.35Z" fill="#EB1000"/><path d="M709.22,389.2L712.33,386.09L715.43,389.2L712.33,392.31Z" fill="#DA0600"/><path d="M712.18,392.16L715.28,389.05L718.39,392.16L715.28,395.27Z" fill="#DB0700"/><path d="M715.13,395.12L718.24,392.01L721.35,395.12L718.24,398.23Z" fill="#DC0700"/><path d="M718.09,398.07L721.2,394.97L724.31,398.07L721.2,401.18Z" fill="#B80002"/><path d="M721.05,401.03L724.16,397.92L727.27,401.03L724.16,404.14Z" fill="#CA0001"/><path d="M724.01,403.99L727.12,400.88L730.23,403.99L727.12,407.1Z" fill="#C80001"/><path d="M726.97,406.95L730.08,403.84L733.18,406.95L730.08,410.06Z" fill="#B90002"/><path d="M729.93,409.91L733.03,406.8L736.14,409.91L733.03,413.02Z" fill="#C00001"/><path d="M647.09,332.99L650.2,329.88L653.31,332.99L650.2,336.1Z" fill="#FFED2A"/><path d="M650.05,335.95L653.16,332.84L656.27,335.95L653.16,339.06Z" fill="#FFD719"/><path d="M653.01,338.91L656.12,335.8L659.23,338.91L656.12,342.02Z" fill="#FF9704"/><path d="M655.97,341.87L659.08,338.76L662.18,341.87L659.08,344.98Z" fill="#FF7100"/><path d="M658.93,344.82L662.03,341.72L665.14,344.82L662.03,347.93Z" fill="#FF6100"/><path d="M661.88,347.78L664.99,344.67L668.1,347.78L664.99,350.89Z" fill="#FE3E00"/><path d="M664.84,350.74L667.95,347.63L671.06,350.74L667.95,353.85Z" fill="#FA2900"/><path d="M667.8,353.7L670.91,350.59L674.02,353.7L670.91,356.81Z" fill="#F62100"/><path d="M670.76,356.66L673.87,353.55L676.98,356.66L673.87,359.77Z" fill="#FA2900"/><path d="M673.72,359.62L676.83,356.51L679.93,359.62L676.83,362.73Z" fill="#FD3300"/><path d="M676.68,362.57L679.78,359.47L682.89,362.57L679.78,365.68Z" fill="#F72300"/><path d="M679.63,365.53L682.74,362.42L685.85,365.53L682.74,368.64Z" fill="#E00900"/><path d="M682.59,368.49L685.7,365.38L688.81,368.49L685.7,371.6Z" fill="#F82400"/><path d="M685.55,371.45L688.66,368.34L691.77,371.45L688.66,374.56Z" fill="#F41D00"/><path d="M688.51,374.41L691.62,371.3L694.73,374.41L691.62,377.52Z" fill="#EE1200"/><path d="M691.47,377.37L694.58,374.26L697.68,377.37L694.58,380.48Z" fill="#E90F00"/><path d="M694.43,380.32L697.53,377.22L700.64,380.32L697.53,383.43Z" fill="#DC0700"/><path d="M697.38,383.28L700.49,380.17L703.6,383.28L700.49,386.39Z" fill="#DF0900"/><path d="M700.34,386.24L703.45,383.13L706.56,386.24L703.45,389.35Z" fill="#EB1000"/><path d="M703.3,389.2L706.41,386.09L709.52,389.2L706.41,392.31Z" fill="#E20B00"/><path d="M706.26,392.16L709.37,389.05L712.48,392.16L709.37,395.27Z" fill="#C90001"/><path d="M709.22,395.12L712.33,392.01L715.43,395.12L712.33,398.23Z" fill="#DB0700"/><path d="M712.18,398.07L715.28,394.97L718.39,398.07L715.28,401.18Z" fill="#D20100"/><path d="M715.13,401.03L718.24,397.92L721.35,401.03L718.24,404.14Z" fill="#D10100"/><path d="M718.09,403.99L721.2,400.88L724.31,403.99L721.2,407.1Z" fill="#C90001"/><path d="M721.05,406.95L724.16,403.84L727.27,406.95L724.16,410.06Z" fill="#D40300"/><path d="M724.01,409.91L727.12,406.8L730.23,409.91L727.12,413.02Z" fill="#C00001"/><path d="M726.97,412.87L730.08,409.76L733.18,412.87L730.08,415.98Z" fill="#BA0002"/><path d="M647.09,338.91L650.2,335.8L653.31,338.91L650.2,342.02Z" fill="#FFE825"/><path d="M650.05,341.87L653.16,338.76L656.27,341.87L653.16,344.98Z" fill="#FFBF10"/><path d="M653.01,344.82L656.12,341.72L659.23,344.82L656.12,347.93Z" fill="#FFA809"/><path d="M655.97,347.78L659.08,344.67L662.18,347.78L659.08,350.89Z" fill="#FF7700"/><path d="M658.93,350.74L662.03,347.63L665.14,350.74L662.03,353.85Z" fill="#FF5500"/><path d="M661.88,353.7L664.99,350.59L668.1,353.7L664.99,356.81Z" fill="#FC2D00"/><path d="M664.84,356.66L667.95,353.55L671.06,356.66L667.95,359.77Z" fill="#FA2800"/><path d="M667.8,359.62L670.91,356.51L674.02,359.62L670.91,362.73Z" fill="#F62000"/><path d="M670.76,362.57L673.87,359.47L676.98,362.57L673.87,365.68Z" fill="#F92600"/><path d="M673.72,365.53L676.83,362.42L679.93,365.53L676.83,368.64Z" fill="#F31A00"/><path d="M676.68,368.49L679.78,365.38L682.89,368.49L679.78,371.6Z" fill="#F41D00"/><path d="M679.63,371.45L682.74,368.34L685.85,371.45L682.74,374.56Z" fill="#F52000"/><path d="M682.59,374.41L685.7,371.3L688.81,374.41L685.7,377.52Z" fill="#F41E00"/><path d="M685.55,377.37L688.66,374.26L691.77,377.37L688.66,380.48Z" fill="#E80E00"/><path d="M688.51,380.32L691.62,377.22L694.73,380.32L691.62,383.43Z" fill="#EF1500"/><path d="M691.47,383.28L694.58,380.17L697.68,383.28L694.58,386.39Z" fill="#E70E00"/><path d="M694.43,386.24L697.53,383.13L700.64,386.24L697.53,389.35Z" fill="#E70E00"/><path d="M697.38,389.2L700.49,386.09L703.6,389.2L700.49,392.31Z" fill="#E80F00"/><path d="M700.34,392.16L703.45,389.05L706.56,392.16L703.45,395.27Z" fill="#E60D00"/><path d="M703.3,395.12L706.41,392.01L709.52,395.12L706.41,398.23Z" fill="#D90500"/><path d="M706.26,398.07L709.37,394.97L712.48,398.07L709.37,401.18Z" fill="#E50D00"/><path d="M709.22,401.03L712.33,397.92L715.43,401.03L712.33,404.14Z" fill="#DC0700"/><path d="M712.18,403.99L715.28,400.88L718.39,403.99L715.28,407.1Z" fill="#D70400"/><path d="M715.13,406.95L718.24,403.84L721.35,406.95L718.24,410.06Z" fill="#D10100"/><path d="M718.09,409.91L721.2,406.8L724.31,409.91L721.2,413.02Z" fill="#C70001"/><path d="M721.05,412.87L724.16,409.76L727.27,412.87L724.16,415.98Z" fill="#B70002"/><path d="M724.01,415.82L727.12,412.72L730.23,415.82L727.12,418.93Z" fill="#BC0002"/><path d="M647.09,344.82L650.2,341.72L653.31,344.82L650.2,347.93Z" fill="#FFF12E"/><path d="M650.05,347.78L653.16,344.67L656.27,347.78L653.16,350.89Z" fill="#FFDD1C"/><path d="M653.01,350.74L656.12,347.63L659.23,350.74L656.12,353.85Z" fill="#FFA708"/><path d="M655.97,353.7L659.08,350.59L662.18,353.7L659.08,356.81Z" fill="#FF7800"/><path d="M658.93,356.66L662.03,353.55L665.14,356.66L662.03,359.77Z" fill="#FF5300"/><path d="M661.88,359.62L664.99,356.51L668.1,359.62L664.99,362.73Z" fill="#FC2F00"/><path d="M664.84,362.57L667.95,359.47L671.06,362.57L667.95,365.68Z" fill="#F82500"/><path d="M667.8,365.53L670.91,362.42L674.02,365.53L670.91,368.64Z" fill="#FD3900"/><path d="M670.76,368.49L673.87,365.38L676.98,368.49L673.87,371.6Z" fill="#F92600"/><path d="M673.72,371.45L676.83,368.34L679.93,371.45L676.83,374.56Z" fill="#F82500"/><path d="M676.68,374.41L679.78,371.3L682.89,374.41L679.78,377.52Z" fill="#FB2A00"/><path d="M679.63,377.37L682.74,374.26L685.85,377.37L682.74,380.48Z" fill="#F82400"/><path d="M682.59,380.32L685.7,377.22L688.81,380.32L685.7,383.43Z" fill="#EE1300"/><path d="M685.55,383.28L688.66,380.17L691.77,383.28L688.66,386.39Z" fill="#F41D00"/><path d="M688.51,386.24L691.62,383.13L694.73,386.24L691.62,389.35Z" fill="#ED1100"/><path d="M691.47,389.2L694.58,386.09L697.68,389.2L694.58,392.31Z" fill="#E70E00"/><path d="M694.43,392.16L697.53,389.05L700.64,392.16L697.53,395.27Z" fill="#ED1200"/><path d="M697.38,395.12L700.49,392.01L703.6,395.12L700.49,398.23Z" fill="#F01500"/><path d="M700.34,398.07L703.45,394.97L706.56,398.07L703.45,401.18Z" fill="#EB1000"/><path d="M703.3,401.03L706.41,397.92L709.52,401.03L706.41,404.14Z" fill="#E10A00"/><path d="M706.26,403.99L709.37,400.88L712.48,403.99L709.37,407.1Z" fill="#DD0800"/><path d="M709.22,406.95L712.33,403.84L715.43,406.95L712.33,410.06Z" fill="#DA0600"/><path d="M712.18,409.91L715.28,406.8L718.39,409.91L715.28,413.02Z" fill="#D90500"/><path d="M715.13,412.87L718.24,409.76L721.35,412.87L718.24,415.98Z" fill="#DC0700"/><path d="M718.09,415.82L721.2,412.72L724.31,415.82L721.2,418.93Z" fill="#B30002"/><path d="M721.05,418.78L724.16,415.67L727.27,418.78L724.16,421.89Z" fill="#C20001"/><path d="M647.09,350.74L650.2,347.63L653.31,350.74L650.2,353.85Z" fill="#FFED2A"/><path d="M650.05,353.7L653.16,350.59L656.27,353.7L653.16,356.81Z" fill="#FFE321"/><path d="M653.01,356.66L656.12,353.55L659.23,356.66L656.12,359.77Z" fill="#FFA006"/><path d="M655.97,359.62L659.08,356.51L662.18,359.62L659.08,362.73Z" fill="#FF7600"/><path d="M658.93,362.57L662.03,359.47L665.14,362.57L662.03,365.68Z" fill="#FF5D00"/><path d="M661.88,365.53L664.99,362.42L668.1,365.53L664.99,368.64Z" fill="#FC3100"/><path d="M664.84,368.49L667.95,365.38L671.06,368.49L667.95,371.6Z" fill="#FD3400"/><path d="M667.8,371.45L670.91,368.34L674.02,371.45L670.91,374.56Z" fill="#F41C00"/><path d="M670.76,374.41L673.87,371.3L676.98,374.41L673.87,377.52Z" fill="#FD3200"/><path d="M673.72,377.37L676.83,374.26L679.93,377.37L676.83,380.48Z" fill="#ED1100"/><path d="M676.68,380.32L679.78,377.22L682.89,380.32L679.78,383.43Z" fill="#FB2900"/><path d="M679.63,383.28L682.74,380.17L685.85,383.28L682.74,386.39Z" fill="#F41C00"/><path d="M682.59,386.24L685.7,383.13L688.81,386.24L685.7,389.35Z" fill="#F62100"/><path d="M685.55,389.2L688.66,386.09L691.77,389.2L688.66,392.31Z" fill="#F31B00"/><path d="M688.51,392.16L691.62,389.05L694.73,392.16L691.62,395.27Z" fill="#EE1200"/><path d="M691.47,395.12L694.58,392.01L697.68,395.12L694.58,398.23Z" fill="#EC1100"/><path d="M694.43,398.07L697.53,394.97L700.64,398.07L697.53,401.18Z" fill="#F21A00"/><path d="M697.38,401.03L700.49,397.92L703.6,401.03L700.49,404.14Z" fill="#E80E00"/><path d="M700.34,403.99L703.45,400.88L706.56,403.99L703.45,407.1Z" fill="#ED1200"/><path d="M703.3,406.95L706.41,403.84L709.52,406.95L706.41,410.06Z" fill="#E70E00"/><path d="M706.26,409.91L709.37,406.8L712.48,409.91L709.37,413.02Z" fill="#E00A00"/><path d="M709.22,412.87L712.33,409.76L715.43,412.87L712.33,415.98Z" fill="#D50300"/><path d="M712.18,415.82L715.28,412.72L718.39,415.82L715.28,418.93Z" fill="#E30C00"/><path d="M715.13,418.78L718.24,415.67L721.35,418.78L718.24,421.89Z" fill="#D00000"/><path d="M718.09,421.74L721.2,418.63L724.31,421.74L721.2,424.85Z" fill="#D50300"/><path d="M647.09,356.66L650.2,353.55L653.31,356.66L650.2,359.77Z" fill="#FFF12D"/><path d="M650.05,359.62L653.16,356.51L656.27,359.62L653.16,362.73Z" fill="#FFD519"/><path d="M653.01,362.57L656.12,359.47L659.23,362.57L656.12,365.68Z" fill="#FFAE0A"/><path d="M655.97,365.53L659.08,362.42L662.18,365.53L659.08,368.64Z" fill="#FF7B01"/><path d="M658.93,368.49L662.03,365.38L665.14,368.49L662.03,371.6Z" fill="#FF5D00"/><path d="M661.88,371.45L664.99,368.34L668.1,371.45L664.99,374.56Z" fill="#FF4D00"/><path d="M664.84,374.41L667.95,371.3L671.06,374.41L667.95,377.52Z" fill="#FD3B00"/><path d="M667.8,377.37L670.91,374.26L674.02,377.37L670.91,380.48Z" fill="#FA2700"/><path d="M670.76,380.32L673.87,377.22L676.98,380.32L673.87,383.43Z" fill="#FD3800"/><path d="M673.72,383.28L676.83,380.17L679.93,383.28L676.83,386.39Z" fill="#FC3000"/><path d="M676.68,386.24L679.78,383.13L682.89,386.24L679.78,389.35Z" fill="#F72300"/><path d="M679.63,389.2L682.74,386.09L685.85,389.2L682.74,392.31Z" fill="#F92700"/><path d="M682.59,392.16L685.7,389.05L688.81,392.16L685.7,395.27Z" fill="#F51F00"/><path d="M685.55,395.12L688.66,392.01L691.77,395.12L688.66,398.23Z" fill="#F31B00"/><path d="M688.51,398.07L691.62,394.97L694.73,398.07L691.62,401.18Z" fill="#E30C00"/><path d="M691.47,401.03L694.58,397.92L697.68,401.03L694.58,404.14Z" fill="#F11800"/><path d="M694.43,403.99L697.53,400.88L700.64,403.99L697.53,407.1Z" fill="#F01500"/><path d="M697.38,406.95L700.49,403.84L703.6,406.95L700.49,410.06Z" fill="#E70E00"/><path d="M700.34,409.91L703.45,406.8L706.56,409.91L703.45,413.02Z" fill="#E20B00"/><path d="M703.3,412.87L706.41,409.76L709.52,412.87L706.41,415.98Z" fill="#DF0900"/><path d="M706.26,415.82L709.37,412.72L712.48,415.82L709.37,418.93Z" fill="#E60D00"/><path d="M709.22,418.78L712.33,415.67L715.43,418.78L712.33,421.89Z" fill="#DD0800"/><path d="M712.18,421.74L715.28,418.63L718.39,421.74L715.28,424.85Z" fill="#DB0700"/><path d="M715.13,424.7L718.24,421.59L721.35,424.7L718.24,427.81Z" fill="#D90600"/><path d="M647.09,362.57L650.2,359.47L653.31,362.57L650.2,365.68Z" fill="#FFE825"/><path d="M650.05,365.53L653.16,362.42L656.27,365.53L653.16,368.64Z" fill="#FFDD1C"/><path d="M653.01,368.49L656.12,365.38L659.23,368.49L656.12,371.6Z" fill="#FF8C02"/><path d="M655.97,371.45L659.08,368.34L662.18,371.45L659.08,374.56Z" fill="#FF6400"/><path d="M658.93,374.41L662.03,371.3L665.14,374.41L662.03,377.52Z" fill="#FF5900"/><path d="M661.88,377.37L664.99,374.26L668.1,377.37L664.99,380.48Z" fill="#FD3800"/><path d="M664.84,380.32L667.95,377.22L671.06,380.32L667.95,383.43Z" fill="#FC2C00"/><path d="M667.8,383.28L670.91,380.17L674.02,383.28L670.91,386.39Z" fill="#FC2D00"/><path d="M670.76,386.24L673.87,383.13L676.98,386.24L673.87,389.35Z" fill="#FC2E00"/><path d="M673.72,389.2L676.83,386.09L679.93,389.2L676.83,392.31Z" fill="#F01600"/><path d="M676.68,392.16L679.78,389.05L682.89,392.16L679.78,395.27Z" fill="#F51F00"/><path d="M679.63,395.12L682.74,392.01L685.85,395.12L682.74,398.23Z" fill="#ED1100"/><path d="M682.59,398.07L685.7,394.97L688.81,398.07L685.7,401.18Z" fill="#F11700"/><path d="M685.55,401.03L688.66,397.92L691.77,401.03L688.66,404.14Z" fill="#F01700"/><path d="M688.51,403.99L691.62,400.88L694.73,403.99L691.62,407.1Z" fill="#EF1500"/><path d="M691.47,406.95L694.58,403.84L697.68,406.95L694.58,410.06Z" fill="#DC0700"/><path d="M694.43,409.91L697.53,406.8L700.64,409.91L697.53,413.02Z" fill="#F01500"/><path d="M697.38,412.87L700.49,409.76L703.6,412.87L700.49,415.98Z" fill="#E30C00"/><path d="M700.34,415.82L703.45,412.72L706.56,415.82L703.45,418.93Z" fill="#E10A00"/><path d="M703.3,418.78L706.41,415.67L709.52,418.78L706.41,421.89Z" fill="#D30200"/><path d="M706.26,421.74L709.37,418.63L712.48,421.74L709.37,424.85Z" fill="#DF0900"/><path d="M709.22,424.7L712.33,421.59L715.43,424.7L712.33,427.81Z" fill="#DC0700"/><path d="M712.18,427.66L715.28,424.55L718.39,427.66L715.28,430.77Z" fill="#D20100"/><path d="M647.09,368.49L650.2,365.38L653.31,368.49L650.2,371.6Z" fill="#FFEA27"/><path d="M650.05,371.45L653.16,368.34L656.27,371.45L653.16,374.56Z" fill="#FFD017"/><path d="M653.01,374.41L656.12,371.3L659.23,374.41L656.12,377.52Z" fill="#FFA107"/><path d="M655.97,377.37L659.08,374.26L662.18,377.37L659.08,380.48Z" fill="#FF8601"/><path d="M658.93,380.32L662.03,377.22L665.14,380.32L662.03,383.43Z" fill="#FF5B00"/><path d="M661.88,383.28L664.99,380.17L668.1,383.28L664.99,386.39Z" fill="#FD3A00"/><path d="M664.84,386.24L667.95,383.13L671.06,386.24L667.95,389.35Z" fill="#FC2D00"/><path d="M667.8,389.2L670.91,386.09L674.02,389.2L670.91,392.31Z" fill="#FD3400"/><path d="M670.76,392.16L673.87,389.05L676.98,392.16L673.87,395.27Z" fill="#F41C00"/><path d="M673.72,395.12L676.83,392.01L679.93,395.12L676.83,398.23Z" fill="#F31B00"/><path d="M676.68,398.07L679.78,394.97L682.89,398.07L679.78,401.18Z" fill="#F21900"/><path d="M679.63,401.03L682.74,397.92L685.85,401.03L682.74,404.14Z" fill="#EF1500"/><path d="M682.59,403.99L685.7,400.88L688.81,403.99L685.7,407.1Z" fill="#E90F00"/><path d="M685.55,406.95L688.66,403.84L691.77,406.95L688.66,410.06Z" fill="#F62000"/><path d="M688.51,409.91L691.62,406.8L694.73,409.91L691.62,413.02Z" fill="#F01500"/><path d="M691.47,412.87L694.58,409.76L697.68,412.87L694.58,415.98Z" fill="#ED1200"/><path d="M694.43,415.82L697.53,412.72L700.64,415.82L697.53,418.93Z" fill="#EB1000"/><path d="M697.38,418.78L700.49,415.67L703.6,418.78L700.49,421.89Z" fill="#E60D00"/><path d="M700.34,421.74L703.45,418.63L706.56,421.74L703.45,424.85Z" fill="#E20B00"/><path d="M703.3,424.7L706.41,421.59L709.52,424.7L706.41,427.81Z" fill="#E70E00"/><path d="M706.26,427.66L709.37,424.55L712.48,427.66L709.37,430.77Z" fill="#DE0900"/><path d="M709.22,430.62L712.33,427.51L715.43,430.62L712.33,433.73Z" fill="#DE0800"/><path d="M647.09,374.41L650.2,371.3L653.31,374.41L650.2,377.52Z" fill="#FFE825"/><path d="M650.05,377.37L653.16,374.26L656.27,377.37L653.16,380.48Z" fill="#FFCF16"/><path d="M653.01,380.32L656.12,377.22L659.23,380.32L656.12,383.43Z" fill="#FFAD0A"/><path d="M655.97,383.28L659.08,380.17L662.18,383.28L659.08,386.39Z" fill="#FF7E01"/><path d="M658.93,386.24L662.03,383.13L665.14,386.24L662.03,389.35Z" fill="#FF4E00"/><path d="M661.88,389.2L664.99,386.09L668.1,389.2L664.99,392.31Z" fill="#FD3C00"/><path d="M664.84,392.16L667.95,389.05L671.06,392.16L667.95,395.27Z" fill="#FD3B00"/><path d="M667.8,395.12L670.91,392.01L674.02,395.12L670.91,398.23Z" fill="#F41D00"/><path d="M670.76,398.07L673.87,394.97L676.98,398.07L673.87,401.18Z" fill="#FB2A00"/><path d="M673.72,401.03L676.83,397.92L679.93,401.03L676.83,404.14Z" fill="#F21A00"/><path d="M676.68,403.99L679.78,400.88L682.89,403.99L679.78,407.1Z" fill="#DF0900"/><path d="M679.63,406.95L682.74,403.84L685.85,406.95L682.74,410.06Z" fill="#F72300"/><path d="M682.59,409.91L685.7,406.8L688.81,409.91L685.7,413.02Z" fill="#F62000"/><path d="M685.55,412.87L688.66,409.76L691.77,412.87L688.66,415.98Z" fill="#EE1200"/><path d="M688.51,415.82L691.62,412.72L694.73,415.82L691.62,418.93Z" fill="#EA1000"/><path d="M691.47,418.78L694.58,415.67L697.68,418.78L694.58,421.89Z" fill="#EE1200"/><path d="M694.43,421.74L697.53,418.63L700.64,421.74L697.53,424.85Z" fill="#DE0900"/><path d="M697.38,424.7L700.49,421.59L703.6,424.7L700.49,427.81Z" fill="#E60D00"/><path d="M700.34,427.66L703.45,424.55L706.56,427.66L703.45,430.77Z" fill="#E60D00"/><path d="M703.3,430.62L706.41,427.51L709.52,430.62L706.41,433.73Z" fill="#C70001"/><path d="M706.26,433.57L709.37,430.47L712.48,433.57L709.37,436.68Z" fill="#C40001"/><path d="M647.09,380.32L650.2,377.22L653.31,380.32L650.2,383.43Z" fill="#FFE825"/><path d="M650.05,383.28L653.16,380.17L656.27,383.28L653.16,386.39Z" fill="#FFDA1A"/><path d="M653.01,386.24L656.12,383.13L659.23,386.24L656.12,389.35Z" fill="#FF9F06"/><path d="M655.97,389.2L659.08,386.09L662.18,389.2L659.08,392.31Z" fill="#FF6700"/><path d="M658.93,392.16L662.03,389.05L665.14,392.16L662.03,395.27Z" fill="#FF4F00"/><path d="M661.88,395.12L664.99,392.01L668.1,395.12L664.99,398.23Z" fill="#FD3600"/><path d="M664.84,398.07L667.95,394.97L671.06,398.07L667.95,401.18Z" fill="#FA2900"/><path d="M667.8,401.03L670.91,397.92L674.02,401.03L670.91,404.14Z" fill="#FC2E00"/><path d="M670.76,403.99L673.87,400.88L676.98,403.99L673.87,407.1Z" fill="#E50C00"/><path d="M673.72,406.95L676.83,403.84L679.93,406.95L676.83,410.06Z" fill="#F62100"/><path d="M676.68,409.91L679.78,406.8L682.89,409.91L679.78,413.02Z" fill="#F72200"/><path d="M679.63,412.87L682.74,409.76L685.85,412.87L682.74,415.98Z" fill="#F31C00"/><path d="M682.59,415.82L685.7,412.72L688.81,415.82L685.7,418.93Z" fill="#EF1300"/><path d="M685.55,418.78L688.66,415.67L691.77,418.78L688.66,421.89Z" fill="#EB1000"/><path d="M688.51,421.74L691.62,418.63L694.73,421.74L691.62,424.85Z" fill="#F01500"/><path d="M691.47,424.7L694.58,421.59L697.68,424.7L694.58,427.81Z" fill="#E80E00"/><path d="M694.43,427.66L697.53,424.55L700.64,427.66L697.53,430.77Z" fill="#E60D00"/><path d="M697.38,430.62L700.49,427.51L703.6,430.62L700.49,433.73Z" fill="#E30B00"/><path d="M700.34,433.57L703.45,430.47L706.56,433.57L703.45,436.68Z" fill="#D90500"/><path d="M703.3,436.53L706.41,433.42L709.52,436.53L706.41,439.64Z" fill="#E20B00"/><path d="M647.09,386.24L650.2,383.13L653.31,386.24L650.2,389.35Z" fill="#FFF430"/><path d="M650.05,389.2L653.16,386.09L656.27,389.2L653.16,392.31Z" fill="#FFE522"/><path d="M653.01,392.16L656.12,389.05L659.23,392.16L656.12,395.27Z" fill="#FFA608"/><path d="M655.97,395.12L659.08,392.01L662.18,395.12L659.08,398.23Z" fill="#FF8401"/><path d="M658.93,398.07L662.03,394.97L665.14,398.07L662.03,401.18Z" fill="#FF6400"/><path d="M661.88,401.03L664.99,397.92L668.1,401.03L664.99,404.14Z" fill="#FF4D00"/><path d="M664.84,403.99L667.95,400.88L671.06,403.99L667.95,407.1Z" fill="#FE3F00"/><path d="M667.8,406.95L670.91,403.84L674.02,406.95L670.91,410.06Z" fill="#FC2B00"/><path d="M670.76,409.91L673.87,406.8L676.98,409.91L673.87,413.02Z" fill="#FC2E00"/><path d="M673.72,412.87L676.83,409.76L679.93,412.87L676.83,415.98Z" fill="#FD3700"/><path d="M676.68,415.82L679.78,412.72L682.89,415.82L679.78,418.93Z" fill="#FD3500"/><path d="M679.63,418.78L682.74,415.67L685.85,418.78L682.74,421.89Z" fill="#F92700"/><path d="M682.59,421.74L685.7,418.63L688.81,421.74L685.7,424.85Z" fill="#FB2A00"/><path d="M685.55,424.7L688.66,421.59L691.77,424.7L688.66,427.81Z" fill="#EB1000"/><path d="M688.51,427.66L691.62,424.55L694.73,427.66L691.62,430.77Z" fill="#F11700"/><path d="M691.47,430.62L694.58,427.51L697.68,430.62L694.58,433.73Z" fill="#ED1100"/><path d="M694.43,433.57L697.53,430.47L700.64,433.57L697.53,436.68Z" fill="#F31B00"/><path d="M697.38,436.53L700.49,433.42L703.6,436.53L700.49,439.64Z" fill="#E70E00"/><path d="M700.34,439.49L703.45,436.38L706.56,439.49L703.45,442.6Z" fill="#EC1100"/><path d="M647.09,392.16L650.2,389.05L653.31,392.16L650.2,395.27Z" fill="#FFF430"/><path d="M650.05,395.12L653.16,392.01L656.27,395.12L653.16,398.23Z" fill="#FFDC1B"/><path d="M653.01,398.07L656.12,394.97L659.23,398.07L656.12,401.18Z" fill="#FFAB0A"/><path d="M655.97,401.03L659.08,397.92L662.18,401.03L659.08,404.14Z" fill="#FF7C01"/><path d="M658.93,403.99L662.03,400.88L665.14,403.99L662.03,407.1Z" fill="#FF5E00"/><path d="M661.88,406.95L664.99,403.84L668.1,406.95L664.99,410.06Z" fill="#FE4700"/><path d="M664.84,409.91L667.95,406.8L671.06,409.91L667.95,413.02Z" fill="#FD3600"/><path d="M667.8,412.87L670.91,409.76L674.02,412.87L670.91,415.98Z" fill="#FC2E00"/><path d="M670.76,415.82L673.87,412.72L676.98,415.82L673.87,418.93Z" fill="#F92700"/><path d="M673.72,418.78L676.83,415.67L679.93,418.78L676.83,421.89Z" fill="#FD3200"/><path d="M676.68,421.74L679.78,418.63L682.89,421.74L679.78,424.85Z" fill="#EA1000"/><path d="M679.63,424.7L682.74,421.59L685.85,424.7L682.74,427.81Z" fill="#F51F00"/><path d="M682.59,427.66L685.7,424.55L688.81,427.66L685.7,430.77Z" fill="#F11700"/><path d="M685.55,430.62L688.66,427.51L691.77,430.62L688.66,433.73Z" fill="#F62000"/><path d="M688.51,433.57L691.62,430.47L694.73,433.57L691.62,436.68Z" fill="#F21900"/><path d="M691.47,436.53L694.58,433.42L697.68,436.53L694.58,439.64Z" fill="#F21A00"/><path d="M694.43,439.49L697.53,436.38L700.64,439.49L697.53,442.6Z" fill="#ED1100"/><path d="M697.38,442.45L700.49,439.34L703.6,442.45L700.49,445.56Z" fill="#E50D00"/><path d="M647.09,398.07L650.2,394.97L653.31,398.07L650.2,401.18Z" fill="#FFF02C"/><path d="M650.05,401.03L653.16,397.92L656.27,401.03L653.16,404.14Z" fill="#FFCE16"/><path d="M653.01,403.99L656.12,400.88L659.23,403.99L656.12,407.1Z" fill="#FFC011"/><path d="M655.97,406.95L659.08,403.84L662.18,406.95L659.08,410.06Z" fill="#FF7400"/><path d="M658.93,409.91L662.03,406.8L665.14,409.91L662.03,413.02Z" fill="#FF6100"/><path d="M661.88,412.87L664.99,409.76L668.1,412.87L664.99,415.98Z" fill="#FE4400"/><path d="M664.84,415.82L667.95,412.72L671.06,415.82L667.95,418.93Z" fill="#FD3600"/><path d="M667.8,418.78L670.91,415.67L674.02,418.78L670.91,421.89Z" fill="#F31B00"/><path d="M670.76,421.74L673.87,418.63L676.98,421.74L673.87,424.85Z" fill="#FD3700"/><path d="M673.72,424.7L676.83,421.59L679.93,424.7L676.83,427.81Z" fill="#F72300"/><path d="M676.68,427.66L679.78,424.55L682.89,427.66L679.78,430.77Z" fill="#F62100"/><path d="M679.63,430.62L682.74,427.51L685.85,430.62L682.74,433.73Z" fill="#F51F00"/><path d="M682.59,433.57L685.7,430.47L688.81,433.57L685.7,436.68Z" fill="#EF1400"/><path d="M685.55,436.53L688.66,433.42L691.77,436.53L688.66,439.64Z" fill="#E00A00"/><path d="M688.51,439.49L691.62,436.38L694.73,439.49L691.62,442.6Z" fill="#E00900"/><path d="M691.47,442.45L694.58,439.34L697.68,442.45L694.58,445.56Z" fill="#E60D00"/><path d="M694.43,445.41L697.53,442.3L700.64,445.41L697.53,448.52Z" fill="#E90F00"/><path d="M647.09,403.99L650.2,400.88L653.31,403.99L650.2,407.1Z" fill="#FFF430"/><path d="M650.05,406.95L653.16,403.84L656.27,406.95L653.16,410.06Z" fill="#FFD81A"/><path d="M653.01,409.91L656.12,406.8L659.23,409.91L656.12,413.02Z" fill="#FFBA0E"/><path d="M655.97,412.87L659.08,409.76L662.18,412.87L659.08,415.98Z" fill="#FF9002"/><path d="M658.93,415.82L662.03,412.72L665.14,415.82L662.03,418.93Z" fill="#FF5E00"/><path d="M661.88,418.78L664.99,415.67L668.1,418.78L664.99,421.89Z" fill="#FF5700"/><path d="M664.84,421.74L667.95,418.63L671.06,421.74L667.95,424.85Z" fill="#FF4900"/><path d="M667.8,424.7L670.91,421.59L674.02,424.7L670.91,427.81Z" fill="#FD3700"/><path d="M670.76,427.66L673.87,424.55L676.98,427.66L673.87,430.77Z" fill="#FA2800"/><path d="M673.72,430.62L676.83,427.51L679.93,430.62L676.83,433.73Z" fill="#FD3800"/><path d="M676.68,433.57L679.78,430.47L682.89,433.57L679.78,436.68Z" fill="#F82400"/><path d="M679.63,436.53L682.74,433.42L685.85,436.53L682.74,439.64Z" fill="#F82500"/><path d="M682.59,439.49L685.7,436.38L688.81,439.49L685.7,442.6Z" fill="#F11800"/><path d="M685.55,442.45L688.66,439.34L691.77,442.45L688.66,445.56Z" fill="#F51E00"/><path d="M688.51,445.41L691.62,442.3L694.73,445.41L691.62,448.52Z" fill="#EB1000"/><path d="M691.47,448.37L694.58,445.26L697.68,448.37L694.58,451.48Z" fill="#EC1100"/><path d="M647.09,409.91L650.2,406.8L653.31,409.91L650.2,413.02Z" fill="#FFF430"/><path d="M650.05,412.87L653.16,409.76L656.27,412.87L653.16,415.98Z" fill="#FFD318"/><path d="M653.01,415.82L656.12,412.72L659.23,415.82L656.12,418.93Z" fill="#FFAF0B"/><path d="M655.97,418.78L659.08,415.67L662.18,418.78L659.08,421.89Z" fill="#FF8801"/><path d="M658.93,421.74L662.03,418.63L665.14,421.74L662.03,424.85Z" fill="#FF6200"/><path d="M661.88,424.7L664.99,421.59L668.1,424.7L664.99,427.81Z" fill="#FF5F00"/><path d="M664.84,427.66L667.95,424.55L671.06,427.66L667.95,430.77Z" fill="#FF4E00"/><path d="M667.8,430.62L670.91,427.51L674.02,430.62L670.91,433.73Z" fill="#FE3E00"/><path d="M670.76,433.57L673.87,430.47L676.98,433.57L673.87,436.68Z" fill="#FD3900"/><path d="M673.72,436.53L676.83,433.42L679.93,436.53L676.83,439.64Z" fill="#F72200"/><path d="M676.68,439.49L679.78,436.38L682.89,439.49L679.78,442.6Z" fill="#FA2800"/><path d="M679.63,442.45L682.74,439.34L685.85,442.45L682.74,445.56Z" fill="#F52000"/><path d="M682.59,445.41L685.7,442.3L688.81,445.41L685.7,448.52Z" fill="#F92600"/><path d="M685.55,448.37L688.66,445.26L691.77,448.37L688.66,451.48Z" fill="#F21A00"/><path d="M688.51,451.32L691.62,448.22L694.73,451.32L691.62,454.43Z" fill="#F41D00"/><path d="M647.09,415.82L650.2,412.72L653.31,415.82L650.2,418.93Z" fill="#FFE825"/><path d="M650.05,418.78L653.16,415.67L656.27,418.78L653.16,421.89Z" fill="#FFDA1A"/><path d="M653.01,421.74L656.12,418.63L659.23,421.74L656.12,424.85Z" fill="#FFB00B"/><path d="M655.97,424.7L659.08,421.59L662.18,424.7L659.08,427.81Z" fill="#FF7E01"/><path d="M658.93,427.66L662.03,424.55L665.14,427.66L662.03,430.77Z" fill="#FF5900"/><path d="M661.88,430.62L664.99,427.51L668.1,430.62L664.99,433.73Z" fill="#FE4500"/><path d="M664.84,433.57L667.95,430.47L671.06,433.57L667.95,436.68Z" fill="#FD3200"/><path d="M667.8,436.53L670.91,433.42L674.02,436.53L670.91,439.64Z" fill="#FA2900"/><path d="M670.76,439.49L673.87,436.38L676.98,439.49L673.87,442.6Z" fill="#F41C00"/><path d="M673.72,442.45L676.83,439.34L679.93,442.45L676.83,445.56Z" fill="#E20B00"/><path d="M676.68,445.41L679.78,442.3L682.89,445.41L679.78,448.52Z" fill="#F51E00"/><path d="M679.63,448.37L682.74,445.26L685.85,448.37L682.74,451.48Z" fill="#F41E00"/><path d="M682.59,451.32L685.7,448.22L688.81,451.32L685.7,454.43Z" fill="#ED1200"/><path d="M685.55,454.28L688.66,451.17L691.77,454.28L688.66,457.39Z" fill="#EC1100"/><path d="M647.09,421.74L650.2,418.63L653.31,421.74L650.2,424.85Z" fill="#FFF22E"/><path d="M650.05,424.7L653.16,421.59L656.27,424.7L653.16,427.81Z" fill="#FFC512"/><path d="M653.01,427.66L656.12,424.55L659.23,427.66L656.12,430.77Z" fill="#FF9F06"/><path d="M655.97,430.62L659.08,427.51L662.18,430.62L659.08,433.73Z" fill="#FF8D02"/><path d="M658.93,433.57L662.03,430.47L665.14,433.57L662.03,436.68Z" fill="#FF6C00"/><path d="M661.88,436.53L664.99,433.42L668.1,436.53L664.99,439.64Z" fill="#FF5500"/><path d="M664.84,439.49L667.95,436.38L671.06,439.49L667.95,442.6Z" fill="#FE3E00"/><path d="M667.8,442.45L670.91,439.34L674.02,442.45L670.91,445.56Z" fill="#FB2A00"/><path d="M670.76,445.41L673.87,442.3L676.98,445.41L673.87,448.52Z" fill="#FC2C00"/><path d="M673.72,448.37L676.83,445.26L679.93,448.37L676.83,451.48Z" fill="#F92700"/><path d="M676.68,451.32L679.78,448.22L682.89,451.32L679.78,454.43Z" fill="#F52000"/><path d="M679.63,454.28L682.74,451.17L685.85,454.28L682.74,457.39Z" fill="#F41D00"/><path d="M682.59,457.24L685.7,454.13L688.81,457.24L685.7,460.35Z" fill="#F11800"/><path d="M647.09,427.66L650.2,424.55L653.31,427.66L650.2,430.77Z" fill="#FFE825"/><path d="M650.05,430.62L653.16,427.51L656.27,430.62L653.16,433.73Z" fill="#FFD619"/><path d="M653.01,433.57L656.12,430.47L659.23,433.57L656.12,436.68Z" fill="#FFA909"/><path d="M655.97,436.53L659.08,433.42L662.18,436.53L659.08,439.64Z" fill="#FF7E01"/><path d="M658.93,439.49L662.03,436.38L665.14,439.49L662.03,442.6Z" fill="#FF6400"/><path d="M661.88,442.45L664.99,439.34L668.1,442.45L664.99,445.56Z" fill="#FF5300"/><path d="M664.84,445.41L667.95,442.3L671.06,445.41L667.95,448.52Z" fill="#FE4300"/><path d="M667.8,448.37L670.91,445.26L674.02,448.37L670.91,451.48Z" fill="#F82500"/><path d="M670.76,451.32L673.87,448.22L676.98,451.32L673.87,454.43Z" fill="#F62000"/><path d="M673.72,454.28L676.83,451.17L679.93,454.28L676.83,457.39Z" fill="#F01500"/><path d="M676.68,457.24L679.78,454.13L682.89,457.24L679.78,460.35Z" fill="#F11800"/><path d="M679.63,460.2L682.74,457.09L685.85,460.2L682.74,463.31Z" fill="#F51F00"/><path d="M647.09,433.57L650.2,430.47L653.31,433.57L650.2,436.68Z" fill="#FFE825"/><path d="M650.05,436.53L653.16,433.42L656.27,436.53L653.16,439.64Z" fill="#FFD016"/><path d="M653.01,439.49L656.12,436.38L659.23,439.49L656.12,442.6Z" fill="#FFB60D"/><path d="M655.97,442.45L659.08,439.34L662.18,442.45L659.08,445.56Z" fill="#FF7B01"/><path d="M658.93,445.41L662.03,442.3L665.14,445.41L662.03,448.52Z" fill="#FF5C00"/><path d="M661.88,448.37L664.99,445.26L668.1,448.37L664.99,451.48Z" fill="#FF4F00"/><path d="M664.84,451.32L667.95,448.22L671.06,451.32L667.95,454.43Z" fill="#FD3900"/><path d="M667.8,454.28L670.91,451.17L674.02,454.28L670.91,457.39Z" fill="#FC2F00"/><path d="M670.76,457.24L673.87,454.13L676.98,457.24L673.87,460.35Z" fill="#FC3000"/><path d="M673.72,460.2L676.83,457.09L679.93,460.2L676.83,463.31Z" fill="#F62100"/><path d="M676.68,463.16L679.78,460.05L682.89,463.16L679.78,466.27Z" fill="#F11800"/><path d="M647.09,439.49L650.2,436.38L653.31,439.49L650.2,442.6Z" fill="#FFF430"/><path d="M650.05,442.45L653.16,439.34L656.27,442.45L653.16,445.56Z" fill="#FFEF2C"/><path d="M653.01,445.41L656.12,442.3L659.23,445.41L656.12,448.52Z" fill="#FFBD0F"/><path d="M655.97,448.37L659.08,445.26L662.18,448.37L659.08,451.48Z" fill="#FF9503"/><path d="M658.93,451.32L662.03,448.22L665.14,451.32L662.03,454.43Z" fill="#FF7200"/><path d="M661.88,454.28L664.99,451.17L668.1,454.28L664.99,457.39Z" fill="#FF5B00"/><path d="M664.84,457.24L667.95,454.13L671.06,457.24L667.95,460.35Z" fill="#FF5100"/><path d="M667.8,460.2L670.91,457.09L674.02,460.2L670.91,463.31Z" fill="#FE4000"/><path d="M670.76,463.16L673.87,460.05L676.98,463.16L673.87,466.27Z" fill="#FD3600"/><path d="M673.72,466.12L676.83,463.01L679.93,466.12L676.83,469.23Z" fill="#FD3400"/><path d="M647.09,445.41L650.2,442.3L653.31,445.41L650.2,448.52Z" fill="#FFF430"/><path d="M650.05,448.37L653.16,445.26L656.27,448.37L653.16,451.48Z" fill="#FFE220"/><path d="M653.01,451.32L656.12,448.22L659.23,451.32L656.12,454.43Z" fill="#FFD719"/><path d="M655.97,454.28L659.08,451.17L662.18,454.28L659.08,457.39Z" fill="#FF9E06"/><path d="M658.93,457.24L662.03,454.13L665.14,457.24L662.03,460.35Z" fill="#FF7000"/><path d="M661.88,460.2L664.99,457.09L668.1,460.2L664.99,463.31Z" fill="#FF5800"/><path d="M664.84,463.16L667.95,460.05L671.06,463.16L667.95,466.27Z" fill="#FF5800"/><path d="M667.8,466.12L670.91,463.01L674.02,466.12L670.91,469.23Z" fill="#FD3C00"/><path d="M670.76,469.07L673.87,465.97L676.98,469.07L673.87,472.18Z" fill="#FE4800"/><path d="M647.09,451.32L650.2,448.22L653.31,451.32L650.2,454.43Z" fill="#FFF430"/><path d="M650.05,454.28L653.16,451.17L656.27,454.28L653.16,457.39Z" fill="#FFE01E"/><path d="M653.01,457.24L656.12,454.13L659.23,457.24L656.12,460.35Z" fill="#FFC111"/><path d="M655.97,460.2L659.08,457.09L662.18,460.2L659.08,463.31Z" fill="#FF9302"/><path d="M658.93,463.16L662.03,460.05L665.14,463.16L662.03,466.27Z" fill="#FF6800"/><path d="M661.88,466.12L664.99,463.01L668.1,466.12L664.99,469.23Z" fill="#FF5800"/><path d="M664.84,469.07L667.95,465.97L671.06,469.07L667.95,472.18Z" fill="#FF4F00"/><path d="M667.8,472.03L670.91,468.92L674.02,472.03L670.91,475.14Z" fill="#F92700"/><path d="M647.09,457.24L650.2,454.13L653.31,457.24L650.2,460.35Z" fill="#FFF430"/><path d="M650.05,460.2L653.16,457.09L656.27,460.2L653.16,463.31Z" fill="#FFE21F"/><path d="M653.01,463.16L656.12,460.05L659.23,463.16L656.12,466.27Z" fill="#FFCC15"/><path d="M655.97,466.12L659.08,463.01L662.18,466.12L659.08,469.23Z" fill="#FF9904"/><path d="M658.93,469.07L662.03,465.97L665.14,469.07L662.03,472.18Z" fill="#FF7400"/><path d="M661.88,472.03L664.99,468.92L668.1,472.03L664.99,475.14Z" fill="#FF5700"/><path d="M664.84,474.99L667.95,471.88L671.06,474.99L667.95,478.1Z" fill="#FF5900"/><path d="M647.09,463.16L650.2,460.05L653.31,463.16L650.2,466.27Z" fill="#FFF430"/><path d="M650.05,466.12L653.16,463.01L656.27,466.12L653.16,469.23Z" fill="#FFE623"/><path d="M653.01,469.07L656.12,465.97L659.23,469.07L656.12,472.18Z" fill="#FFBE10"/><path d="M655.97,472.03L659.08,468.92L662.18,472.03L659.08,475.14Z" fill="#FF9102"/><path d="M658.93,474.99L662.03,471.88L665.14,474.99L662.03,478.1Z" fill="#FF7700"/><path d="M661.88,477.95L664.99,474.84L668.1,477.95L664.99,481.06Z" fill="#FF6000"/><path d="M647.09,469.07L650.2,465.97L653.31,469.07L650.2,472.18Z" fill="#FFF430"/><path d="M650.05,472.03L653.16,468.92L656.27,472.03L653.16,475.14Z" fill="#FFE321"/><path d="M653.01,474.99L656.12,471.88L659.23,474.99L656.12,478.1Z" fill="#FFCB15"/><path d="M655.97,477.95L659.08,474.84L662.18,477.95L659.08,481.06Z" fill="#FF8E02"/><path d="M658.93,480.91L662.03,477.8L665.14,480.91L662.03,484.02Z" fill="#FF7700"/><path d="M647.09,474.99L650.2,471.88L653.31,474.99L650.2,478.1Z" fill="#FFF430"/><path d="M650.05,477.95L653.16,474.84L656.27,477.95L653.16,481.06Z" fill="#FFEC29"/><path d="M653.01,480.91L656.12,477.8L659.23,480.91L656.12,484.02Z" fill="#FFC111"/><path d="M655.97,483.87L659.08,480.76L662.18,483.87L659.08,486.98Z" fill="#FF9804"/><path d="M647.09,480.91L650.2,477.8L653.31,480.91L650.2,484.02Z" fill="#FFF430"/><path d="M650.05,483.87L653.16,480.76L656.27,483.87L653.16,486.98Z" fill="#FFE926"/><path d="M653.01,486.82L656.12,483.72L659.23,486.82L656.12,489.93Z" fill="#FFD318"/><path d="M647.09,486.82L650.2,483.72L653.31,486.82L650.2,489.93Z" fill="#FFF430"/><path d="M650.05,489.78L653.16,486.67L656.27,489.78L653.16,492.89Z" fill="#FFE320"/><path d="M647.09,492.74L650.2,489.63L653.31,492.74L650.2,495.85Z" fill="#FFF430"/></g>
<circle cx="644.6" cy="320.6" r="2.1" fill="#2B5DD9" stroke="#15275E" stroke-width="0.5"/><circle cx="644.6" cy="326.72" r="2.1" fill="#2B5DD9" stroke="#15275E" stroke-width="0.5"/><circle cx="644.6" cy="332.84" r="2.1" fill="#2B5DD9" stroke="#15275E" stroke-width="0.5"/><circle cx="644.6" cy="338.96" r="2.1" fill="#F6C61A" stroke="#5A4500" stroke-width="0.5"/><circle cx="644.6" cy="345.08" r="2.1" fill="#2B5DD9" stroke="#15275E" stroke-width="0.5"/><circle cx="644.6" cy="351.2" r="2.1" fill="#F6C61A" stroke="#5A4500" stroke-width="0.5"/><circle cx="644.6" cy="357.32" r="2.1" fill="#2B5DD9" stroke="#15275E" stroke-width="0.5"/><circle cx="644.6" cy="363.44" r="2.1" fill="#2B5DD9" stroke="#15275E" stroke-width="0.5"/><circle cx="644.6" cy="369.56" r="2.1" fill="#2B5DD9" stroke="#15275E" stroke-width="0.5"/><circle cx="644.6" cy="375.68" r="2.1" fill="#2B5DD9" stroke="#15275E" stroke-width="0.5"/><circle cx="644.6" cy="381.8" r="2.1" fill="#2B5DD9" stroke="#15275E" stroke-width="0.5"/><circle cx="644.6" cy="387.92" r="2.1" fill="#F6C61A" stroke="#5A4500" stroke-width="0.5"/><circle cx="644.6" cy="394.04" r="2.1" fill="#2B5DD9" stroke="#15275E" stroke-width="0.5"/><circle cx="644.6" cy="400.16" r="2.1" fill="#2B5DD9" stroke="#15275E" stroke-width="0.5"/><circle cx="644.6" cy="406.28" r="2.1" fill="#2B5DD9" stroke="#15275E" stroke-width="0.5"/><circle cx="644.6" cy="412.4" r="2.1" fill="#2B5DD9" stroke="#15275E" stroke-width="0.5"/><circle cx="644.6" cy="418.52" r="2.1" fill="#F6C61A" stroke="#5A4500" stroke-width="0.5"/><circle cx="644.6" cy="424.64" r="2.1" fill="#2B5DD9" stroke="#15275E" stroke-width="0.5"/><circle cx="644.6" cy="430.76" r="2.1" fill="#F6C61A" stroke="#5A4500" stroke-width="0.5"/><circle cx="644.6" cy="436.88" r="2.1" fill="#2B5DD9" stroke="#15275E" stroke-width="0.5"/><circle cx="644.6" cy="443" r="2.1" fill="#2B5DD9" stroke="#15275E" stroke-width="0.5"/><circle cx="644.6" cy="449.12" r="2.1" fill="#F6C61A" stroke="#5A4500" stroke-width="0.5"/><circle cx="644.6" cy="455.24" r="2.1" fill="#2B5DD9" stroke="#15275E" stroke-width="0.5"/><circle cx="644.6" cy="461.36" r="2.1" fill="#2B5DD9" stroke="#15275E" stroke-width="0.5"/><circle cx="644.6" cy="467.48" r="2.1" fill="#2B5DD9" stroke="#15275E" stroke-width="0.5"/><circle cx="644.6" cy="473.6" r="2.1" fill="#2B5DD9" stroke="#15275E" stroke-width="0.5"/><circle cx="644.6" cy="479.72" r="2.1" fill="#F6C61A" stroke="#5A4500" stroke-width="0.5"/><circle cx="644.6" cy="485.84" r="2.1" fill="#2B5DD9" stroke="#15275E" stroke-width="0.5"/><circle cx="644.6" cy="491.96" r="2.1" fill="#2B5DD9" stroke="#15275E" stroke-width="0.5"/><circle cx="644.6" cy="498.08" r="2.1" fill="#F6C61A" stroke="#5A4500" stroke-width="0.5"/>
<rect x="730.6" y="310" width="6.6" height="78.3" fill="url(#cbF)"/><text x="737.8" y="316" font-size="6.8" style="fill:#222">high</text><text x="737.8" y="386.7" font-size="6.8" style="fill:#222">low</text><text x="727.4" y="349.6" font-size="7.1" text-anchor="middle" transform="rotate(-90 727.4 349.6)" style="fill:#222">contacts (log10)</text>
</g>
<g id="cohesin">
<path d="M92,330 C74,342 62.5,362 63,385 C63.5,405 69,420 76.5,432 M123,328 C141,340 152.5,362 152.5,386 C152.5,406 150,420 145.5,431" stroke="#1B6F9E" stroke-width="2.5" fill="none" stroke-linecap="round"/>
<path d="M23.8,361.6V373.9M34.8,375.7V362.8M40.3,374.1V358.6M45.8,368.4V358.2M56.8,358V368.1M62.3,358.9V373.6M67.8,363.7V375.8M78.8,374.7V367.7M84.3,375.6V361.4M89.8,372.2V358M95.3,366.2V358.9M106.3,357.8V369.5M111.8,359.5V374.4M117.3,364.7V375.7M128.3,375.2V365.6M133.8,375.3V359.6M139.3,371.1V357.9M150.3,359.3V366.7M155.8,357.9V372.6M161.3,361.1V375.7M166.8,367.3V374.3M177.8,375.8V362.1M183.3,373.8V358.1M188.8,368.5V359.2M199.8,358.3V372.8" stroke="#747472" stroke-width="1.9" fill="none"/><path d="M19.4,357.8V375.8" stroke="#9A9A96" stroke-width="1.1"/><path d="M202.4,357.4V375.8" stroke="#6E6E6C" stroke-width="1.8" stroke-linecap="round"/><polyline points="18.6,375.8 19.4,375.8 20.2,375.6 21,375.4 21.8,375.1 22.6,374.7 23.4,374.2 24.2,373.7 25,373 25.8,372.4 26.6,371.6 27.4,370.8 28.2,370 29,369.1 29.8,368.3 30.6,367.4 31.4,366.5 32.2,365.6 33,364.7 33.8,363.8 34.6,363 35.4,362.2 36.2,361.4 37,360.7 37.8,360.1 38.6,359.5 39.4,359 40.2,358.6 41,358.3 41.8,358 42.6,357.9 43.4,357.8 44.2,357.8 45,357.9 45.8,358.2 46.6,358.5 47.4,358.9 48.2,359.4 49,359.9 49.8,360.6 50.6,361.3 51.4,362 52.2,362.8 53,363.7 53.8,364.6 54.6,365.5 55.4,366.4 56.2,367.4 57,368.3 57.8,369.2 58.6,370.1 59.4,371 60.2,371.8 61,372.5 61.8,373.2 62.6,373.8 63.4,374.4 64.2,374.8 65,375.2 65.8,375.5 66.6,375.7 67.4,375.8 68.2,375.8 69,375.7 69.8,375.5 70.6,375.2 71.4,374.8 72.2,374.3 73,373.7 73.8,373 74.6,372.3 75.4,371.5 76.2,370.7 77,369.8 77.8,368.9 78.6,367.9 79.4,367 80.2,366 81,365 81.8,364.1 82.6,363.2 83.4,362.3 84.2,361.5 85,360.8 85.8,360.1 86.6,359.5 87.4,359 88.2,358.5 89,358.2 89.8,358 90.6,357.8 91.4,357.8 92.2,357.9 93,358 93.8,358.3 94.6,358.6 95.4,359 96.2,359.5 97,360 97.8,360.6 98.6,361.3 99.4,362.1 100.2,362.9 101,363.7 101.8,364.5 102.6,365.4 103.4,366.3 104.2,367.2 105,368.1 105.8,369 106.6,369.9 107.4,370.7 108.2,371.5 109,372.2 109.8,372.9 110.6,373.5 111.4,374.1 112.2,374.6 113,375 113.8,375.3 114.6,375.6 115.4,375.7 116.2,375.8 117,375.8 117.8,375.6 118.6,375.4 119.4,375 120.2,374.5 121,373.9 121.8,373.2 122.6,372.5 123.4,371.6 124.2,370.7 125,369.8 125.8,368.8 126.6,367.8 127.4,366.7 128.2,365.7 129,364.7 129.8,363.7 130.6,362.8 131.4,361.9 132.2,361 133,360.3 133.8,359.6 134.6,359 135.4,358.6 136.2,358.2 137,358 137.8,357.8 138.6,357.8 139.4,357.9 140.2,358.1 141,358.3 141.8,358.7 142.6,359.2 143.4,359.7 144.2,360.3 145,361 145.8,361.7 146.6,362.5 147.4,363.4 148.2,364.3 149,365.2 149.8,366.1 150.6,367 151.4,368 152.2,368.9 153,369.8 153.8,370.6 154.6,371.5 155.4,372.2 156.2,373 157,373.6 157.8,374.2 158.6,374.7 159.4,375.1 160.2,375.4 161,375.6 161.8,375.8 162.6,375.8 163.4,375.7 164.2,375.6 165,375.3 165.8,374.9 166.6,374.4 167.4,373.8 168.2,373.1 169,372.4 169.8,371.6 170.6,370.7 171.4,369.8 172.2,368.8 173,367.9 173.8,366.9 174.6,365.9 175.4,364.9 176.2,363.9 177,363 177.8,362.1 178.6,361.3 179.4,360.5 180.2,359.9 181,359.3 181.8,358.8 182.6,358.4 183.4,358.1 184.2,357.9 185,357.8 185.8,357.8 186.6,358 187.4,358.3 188.2,358.8 189,359.4 189.8,360 190.6,360.8 191.4,361.7 192.2,362.7 193,363.8 193.8,364.8 194.6,366 195.4,367.1 196.2,368.2 197,369.3 197.8,370.4 198.6,371.4 199.4,372.3 200.2,373.2 201,373.9 201.8,374.5" stroke="#858582" stroke-width="2.7" fill="none" stroke-linecap="round" stroke-linejoin="round"/><polyline points="18.6,357.8 19.4,357.9 20.2,358.2 21,358.7 21.8,359.3 22.6,360.1 23.4,361 24.2,362.1 25,363.3 25.8,364.5 26.6,365.8 27.4,367.1 28.2,368.4 29,369.7 29.8,370.9 30.6,372 31.4,373 32.2,373.9 33,374.6 33.8,375.2 34.6,375.6 35.4,375.8 36.2,375.8 37,375.7 37.8,375.5 38.6,375.1 39.4,374.7 40.2,374.2 41,373.5 41.8,372.8 42.6,372.1 43.4,371.2 44.2,370.3 45,369.4 45.8,368.4 46.6,367.4 47.4,366.4 48.2,365.4 49,364.5 49.8,363.5 50.6,362.6 51.4,361.7 52.2,360.9 53,360.2 53.8,359.6 54.6,359 55.4,358.6 56.2,358.2 57,358 57.8,357.8 58.6,357.8 59.4,357.9 60.2,358 61,358.3 61.8,358.7 62.6,359.1 63.4,359.6 64.2,360.2 65,360.9 65.8,361.6 66.6,362.4 67.4,363.3 68.2,364.2 69,365.1 69.8,366 70.6,366.9 71.4,367.8 72.2,368.8 73,369.7 73.8,370.5 74.6,371.4 75.4,372.1 76.2,372.9 77,373.5 77.8,374.1 78.6,374.6 79.4,375 80.2,375.4 81,375.6 81.8,375.8 82.6,375.8 83.4,375.8 84.2,375.6 85,375.4 85.8,375 86.6,374.6 87.4,374.1 88.2,373.6 89,372.9 89.8,372.2 90.6,371.4 91.4,370.6 92.2,369.8 93,368.9 93.8,368 94.6,367 95.4,366.1 96.2,365.2 97,364.3 97.8,363.4 98.6,362.6 99.4,361.8 100.2,361 101,360.4 101.8,359.7 102.6,359.2 103.4,358.7 104.2,358.4 105,358.1 105.8,357.9 106.6,357.8 107.4,357.8 108.2,357.9 109,358.1 109.8,358.4 110.6,358.8 111.4,359.2 112.2,359.8 113,360.4 113.8,361.1 114.6,361.8 115.4,362.6 116.2,363.5 117,364.4 117.8,365.3 118.6,366.2 119.4,367.1 120.2,368 121,369 121.8,369.9 122.6,370.7 123.4,371.5 124.2,372.3 125,373 125.8,373.6 126.6,374.2 127.4,374.7 128.2,375.1 129,375.4 129.8,375.6 130.6,375.8 131.4,375.8 132.2,375.7 133,375.6 133.8,375.3 134.6,374.9 135.4,374.4 136.2,373.9 137,373.3 137.8,372.6 138.6,371.8 139.4,370.9 140.2,370.1 141,369.2 141.8,368.2 142.6,367.3 143.4,366.3 144.2,365.3 145,364.4 145.8,363.5 146.6,362.6 147.4,361.8 148.2,361 149,360.3 149.8,359.7 150.6,359.1 151.4,358.7 152.2,358.3 153,358 153.8,357.9 154.6,357.8 155.4,357.8 156.2,358 157,358.2 157.8,358.6 158.6,359 159.4,359.5 160.2,360.1 161,360.8 161.8,361.6 162.6,362.4 163.4,363.3 164.2,364.2 165,365.1 165.8,366.1 166.6,367 167.4,368 168.2,369 169,369.9 169.8,370.8 170.6,371.6 171.4,372.4 172.2,373.1 173,373.8 173.8,374.3 174.6,374.8 175.4,375.2 176.2,375.5 177,375.7 177.8,375.8 178.6,375.8 179.4,375.7 180.2,375.5 181,375.2 181.8,374.8 182.6,374.3 183.4,373.8 184.2,373.1 185,372.5 185.8,371.7 186.6,370.9 187.4,370 188.2,369.2 189,368.2 189.8,367.3 190.6,366.4 191.4,365.5 192.2,364.6 193,363.7 193.8,362.8 194.6,362 195.4,361.2 196.2,360.5 197,359.9 197.8,359.3 198.6,358.9 199.4,358.5 200.2,358.2 201,357.9 201.8,357.8" stroke="#545455" stroke-width="2.8" fill="none" stroke-linecap="round" stroke-linejoin="round"/>
<path d="M23.8,392.9V405.2M34.8,407V394.1M40.3,405.4V389.9M45.8,399.7V389.5M56.8,389.3V399.4M62.3,390.2V404.9M67.8,395V407.1M78.8,406V399M84.3,406.9V392.7M89.8,403.5V389.3M95.3,397.5V390.2M106.3,389.1V400.8M111.8,390.8V405.7M117.3,396V407M128.3,406.5V396.9M133.8,406.6V390.9M139.3,402.4V389.2M150.3,390.6V398M155.8,389.2V403.9M161.3,392.4V407M166.8,398.6V405.6M177.8,407.1V393.4M183.3,405.1V389.4M188.8,399.8V390.5M199.8,389.6V404.1" stroke="#747472" stroke-width="1.9" fill="none"/><path d="M19.4,389.1V407.1" stroke="#9A9A96" stroke-width="1.1"/><path d="M202.4,388.7V407.1" stroke="#6E6E6C" stroke-width="1.8" stroke-linecap="round"/><polyline points="18.6,407.1 19.4,407.1 20.2,406.9 21,406.7 21.8,406.4 22.6,406 23.4,405.5 24.2,405 25,404.3 25.8,403.7 26.6,402.9 27.4,402.1 28.2,401.3 29,400.4 29.8,399.6 30.6,398.7 31.4,397.8 32.2,396.9 33,396 33.8,395.1 34.6,394.3 35.4,393.5 36.2,392.7 37,392 37.8,391.4 38.6,390.8 39.4,390.3 40.2,389.9 41,389.6 41.8,389.3 42.6,389.2 43.4,389.1 44.2,389.1 45,389.2 45.8,389.5 46.6,389.8 47.4,390.2 48.2,390.7 49,391.2 49.8,391.9 50.6,392.6 51.4,393.3 52.2,394.1 53,395 53.8,395.9 54.6,396.8 55.4,397.7 56.2,398.7 57,399.6 57.8,400.5 58.6,401.4 59.4,402.3 60.2,403.1 61,403.8 61.8,404.5 62.6,405.1 63.4,405.7 64.2,406.1 65,406.5 65.8,406.8 66.6,407 67.4,407.1 68.2,407.1 69,407 69.8,406.8 70.6,406.5 71.4,406.1 72.2,405.6 73,405 73.8,404.3 74.6,403.6 75.4,402.8 76.2,402 77,401.1 77.8,400.2 78.6,399.2 79.4,398.3 80.2,397.3 81,396.3 81.8,395.4 82.6,394.5 83.4,393.6 84.2,392.8 85,392.1 85.8,391.4 86.6,390.8 87.4,390.3 88.2,389.8 89,389.5 89.8,389.3 90.6,389.1 91.4,389.1 92.2,389.2 93,389.3 93.8,389.6 94.6,389.9 95.4,390.3 96.2,390.8 97,391.3 97.8,391.9 98.6,392.6 99.4,393.4 100.2,394.2 101,395 101.8,395.8 102.6,396.7 103.4,397.6 104.2,398.5 105,399.4 105.8,400.3 106.6,401.2 107.4,402 108.2,402.8 109,403.5 109.8,404.2 110.6,404.8 111.4,405.4 112.2,405.9 113,406.3 113.8,406.6 114.6,406.9 115.4,407 116.2,407.1 117,407.1 117.8,406.9 118.6,406.7 119.4,406.3 120.2,405.8 121,405.2 121.8,404.5 122.6,403.8 123.4,402.9 124.2,402 125,401.1 125.8,400.1 126.6,399.1 127.4,398 128.2,397 129,396 129.8,395 130.6,394.1 131.4,393.2 132.2,392.3 133,391.6 133.8,390.9 134.6,390.3 135.4,389.9 136.2,389.5 137,389.3 137.8,389.1 138.6,389.1 139.4,389.2 140.2,389.4 141,389.6 141.8,390 142.6,390.5 143.4,391 144.2,391.6 145,392.3 145.8,393 146.6,393.8 147.4,394.7 148.2,395.6 149,396.5 149.8,397.4 150.6,398.3 151.4,399.3 152.2,400.2 153,401.1 153.8,401.9 154.6,402.8 155.4,403.5 156.2,404.3 157,404.9 157.8,405.5 158.6,406 159.4,406.4 160.2,406.7 161,406.9 161.8,407.1 162.6,407.1 163.4,407 164.2,406.9 165,406.6 165.8,406.2 166.6,405.7 167.4,405.1 168.2,404.4 169,403.7 169.8,402.9 170.6,402 171.4,401.1 172.2,400.1 173,399.2 173.8,398.2 174.6,397.2 175.4,396.2 176.2,395.2 177,394.3 177.8,393.4 178.6,392.6 179.4,391.8 180.2,391.2 181,390.6 181.8,390.1 182.6,389.7 183.4,389.4 184.2,389.2 185,389.1 185.8,389.1 186.6,389.3 187.4,389.6 188.2,390.1 189,390.7 189.8,391.3 190.6,392.1 191.4,393 192.2,394 193,395.1 193.8,396.1 194.6,397.3 195.4,398.4 196.2,399.5 197,400.6 197.8,401.7 198.6,402.7 199.4,403.6 200.2,404.5 201,405.2 201.8,405.8" stroke="#858582" stroke-width="2.7" fill="none" stroke-linecap="round" stroke-linejoin="round"/><polyline points="18.6,389.1 19.4,389.2 20.2,389.5 21,390 21.8,390.6 22.6,391.4 23.4,392.3 24.2,393.4 25,394.6 25.8,395.8 26.6,397.1 27.4,398.4 28.2,399.7 29,401 29.8,402.2 30.6,403.3 31.4,404.3 32.2,405.2 33,405.9 33.8,406.5 34.6,406.9 35.4,407.1 36.2,407.1 37,407 37.8,406.8 38.6,406.4 39.4,406 40.2,405.5 41,404.8 41.8,404.1 42.6,403.4 43.4,402.5 44.2,401.6 45,400.7 45.8,399.7 46.6,398.7 47.4,397.7 48.2,396.7 49,395.8 49.8,394.8 50.6,393.9 51.4,393 52.2,392.2 53,391.5 53.8,390.9 54.6,390.3 55.4,389.9 56.2,389.5 57,389.3 57.8,389.1 58.6,389.1 59.4,389.2 60.2,389.3 61,389.6 61.8,390 62.6,390.4 63.4,390.9 64.2,391.5 65,392.2 65.8,392.9 66.6,393.7 67.4,394.6 68.2,395.5 69,396.4 69.8,397.3 70.6,398.2 71.4,399.1 72.2,400.1 73,401 73.8,401.8 74.6,402.7 75.4,403.4 76.2,404.2 77,404.8 77.8,405.4 78.6,405.9 79.4,406.3 80.2,406.7 81,406.9 81.8,407.1 82.6,407.1 83.4,407.1 84.2,406.9 85,406.7 85.8,406.3 86.6,405.9 87.4,405.4 88.2,404.9 89,404.2 89.8,403.5 90.6,402.7 91.4,401.9 92.2,401.1 93,400.2 93.8,399.3 94.6,398.3 95.4,397.4 96.2,396.5 97,395.6 97.8,394.7 98.6,393.9 99.4,393.1 100.2,392.3 101,391.7 101.8,391 102.6,390.5 103.4,390 104.2,389.7 105,389.4 105.8,389.2 106.6,389.1 107.4,389.1 108.2,389.2 109,389.4 109.8,389.7 110.6,390.1 111.4,390.5 112.2,391.1 113,391.7 113.8,392.4 114.6,393.1 115.4,393.9 116.2,394.8 117,395.7 117.8,396.6 118.6,397.5 119.4,398.4 120.2,399.3 121,400.3 121.8,401.2 122.6,402 123.4,402.8 124.2,403.6 125,404.3 125.8,404.9 126.6,405.5 127.4,406 128.2,406.4 129,406.7 129.8,406.9 130.6,407.1 131.4,407.1 132.2,407 133,406.9 133.8,406.6 134.6,406.2 135.4,405.7 136.2,405.2 137,404.6 137.8,403.9 138.6,403.1 139.4,402.2 140.2,401.4 141,400.5 141.8,399.5 142.6,398.6 143.4,397.6 144.2,396.6 145,395.7 145.8,394.8 146.6,393.9 147.4,393.1 148.2,392.3 149,391.6 149.8,391 150.6,390.4 151.4,390 152.2,389.6 153,389.3 153.8,389.2 154.6,389.1 155.4,389.1 156.2,389.3 157,389.5 157.8,389.9 158.6,390.3 159.4,390.8 160.2,391.4 161,392.1 161.8,392.9 162.6,393.7 163.4,394.6 164.2,395.5 165,396.4 165.8,397.4 166.6,398.3 167.4,399.3 168.2,400.3 169,401.2 169.8,402.1 170.6,402.9 171.4,403.7 172.2,404.4 173,405.1 173.8,405.6 174.6,406.1 175.4,406.5 176.2,406.8 177,407 177.8,407.1 178.6,407.1 179.4,407 180.2,406.8 181,406.5 181.8,406.1 182.6,405.6 183.4,405.1 184.2,404.4 185,403.8 185.8,403 186.6,402.2 187.4,401.3 188.2,400.5 189,399.5 189.8,398.6 190.6,397.7 191.4,396.8 192.2,395.9 193,395 193.8,394.1 194.6,393.3 195.4,392.5 196.2,391.8 197,391.2 197.8,390.6 198.6,390.2 199.4,389.8 200.2,389.5 201,389.2 201.8,389.1" stroke="#545455" stroke-width="2.8" fill="none" stroke-linecap="round" stroke-linejoin="round"/>
<path d="M92,330 C74,342 62.5,362 63,385 C63.5,405 69,420 76.5,432 M123,328 C141,340 152.5,362 152.5,386 C152.5,406 150,420 145.5,431" stroke="#1B6F9E" stroke-width="2.5" fill="none" stroke-linecap="round" opacity="0.5"/>
<rect x="89.4" y="314.3" width="21" height="30.6" rx="9.5" ry="10" fill="#2F86C3" stroke="#2477B0" stroke-width="0.6"/>
<rect x="104.2" y="314.3" width="21" height="30.6" rx="9.5" ry="10" fill="#50A9D6" stroke="#3D97C6" stroke-width="0.6"/>
<ellipse cx="77" cy="431.5" rx="7.6" ry="12.2" transform="rotate(-21 77 431.5)" fill="#2F89C4" stroke="#2273AB" stroke-width="0.8"/>
<path d="M72.6,420.6L81.4,442.4" stroke="#2273AB" stroke-width="0.6"/>
<ellipse cx="142.9" cy="430.3" rx="7.8" ry="12.6" transform="rotate(17 142.9 430.3)" fill="#50AAD6" stroke="#2E8BBD" stroke-width="0.8"/>
<path d="M146.6,418.6L139.2,442" stroke="#2E8BBD" stroke-width="0.6"/>
<path d="M83.2,447.5 C94,465 126,465 137.3,447.4" stroke="#5E2182" stroke-width="2.5" fill="none"/>
<circle cx="83.2" cy="447.4" r="6.1" fill="#7A35A0" stroke="#5B2080" stroke-width="0.8"/>
<circle cx="137.3" cy="447.4" r="6.2" fill="#7A35A0" stroke="#5B2080" stroke-width="0.8"/>
<ellipse cx="94.9" cy="466.9" rx="12.6" ry="7.2" transform="rotate(14 94.9 466.9)" fill="#B7A7EA" stroke="#6A4DB5" stroke-width="0.9"/>
<circle cx="125.2" cy="466.5" r="6.8" fill="#C879C0" stroke="#8A3A8A" stroke-width="0.9"/>
<text x="42" y="339.6" font-size="14.2" style="fill:#1B7A9C" textLength="34" lengthAdjust="spacingAndGlyphs">smc3</text>
<text x="146.4" y="339.6" font-size="14.2" style="fill:#1B7A9C" textLength="33" lengthAdjust="spacingAndGlyphs">smc1</text>
<text x="146.7" y="451" font-size="14.6" style="fill:#6E2A62" textLength="32.4" lengthAdjust="spacingAndGlyphs">mcd1</text>
<text x="179.9" y="442.2" font-size="11.5" style="fill:#111;font-family:'DejaVu Sans',sans-serif">★</text>
<text x="70.5" y="486" font-size="14.6" style="fill:#5B3A90" textLength="29.4" lengthAdjust="spacingAndGlyphs">Scc3</text>
<text x="128.1" y="486" font-size="14.6" style="fill:#8A3468" textLength="30" lengthAdjust="spacingAndGlyphs">Pds5</text>
</g>
<path d="M201.5,463.6 C236,479.5 292,489 366,468.2 L367.4,471.4 C292,493 234,482 201.5,464.2 Z" fill="url(#arw)"/>
<polygon points="378.2,464.6 364.3,462.2 371.4,474.2" fill="#222"/>
<g id="labels">
<text x="11.7" y="15.9" font-size="16.6" textLength="12.6" lengthAdjust="spacingAndGlyphs" class="b">A</text>
<text x="38" y="15.9" font-size="17.6" textLength="119.4" lengthAdjust="spacingAndGlyphs">genome model</text>
<text x="306.4" y="15.6" font-size="16.4" textLength="10.4" lengthAdjust="spacingAndGlyphs" class="b">B</text>
<text x="325.2" y="15.6" font-size="17.6" textLength="183" lengthAdjust="spacingAndGlyphs">chromosome 13 model</text>
<text x="500.3" y="44.4" font-size="17.8" textLength="12.8" lengthAdjust="spacingAndGlyphs" class="b">C</text>
<text x="599" y="38.6" font-size="14.6" textLength="44.3" lengthAdjust="spacingAndGlyphs">430 kb</text>
<text x="599.2" y="239.4" font-size="14.6" textLength="44.8" lengthAdjust="spacingAndGlyphs">580 kb</text>
<text x="507.4" y="319.4" font-size="16.8" textLength="10.6" lengthAdjust="spacingAndGlyphs" class="b">F</text>
<text x="595.2" y="320.1" font-size="14.6" textLength="47" lengthAdjust="spacingAndGlyphs">430 Kb</text>
<text x="596" y="514.2" font-size="14.6" textLength="46.6" lengthAdjust="spacingAndGlyphs">580 Kb</text>
<text x="430.5" y="548" font-size="16.4" textLength="10.8" lengthAdjust="spacingAndGlyphs" class="b">E</text>
<text x="448.9" y="548" font-size="17.6" textLength="318" lengthAdjust="spacingAndGlyphs">chromosome 13 model (mcd1 depleted)</text>
<text x="13.2" y="543.9" font-size="15.8" textLength="12" lengthAdjust="spacingAndGlyphs" class="b">D</text>
<text x="35.2" y="536" font-size="17.6" textLength="189" lengthAdjust="spacingAndGlyphs">high residency cohesin</text>
<text x="35.2" y="557.2" font-size="17.6" textLength="122.4" lengthAdjust="spacingAndGlyphs">anchor regions</text>
<text x="233.8" y="427.3" font-size="14.6" textLength="106" lengthAdjust="spacingAndGlyphs">projection of WT</text>
<text x="225.2" y="443.8" font-size="14.6" textLength="121" lengthAdjust="spacingAndGlyphs" xml:space="preserve">positions  on mcd1</text>
<text x="236.9" y="460" font-size="14.6" textLength="98.4" lengthAdjust="spacingAndGlyphs">depleted model</text>
</g>
<g id="legend">
<text x="2.1" y="76.9" font-size="8.4" textLength="54" lengthAdjust="spacingAndGlyphs">chromosomes</text>
<text x="2.1" y="86.3" font-size="8.4" textLength="52.6" lengthAdjust="spacingAndGlyphs">and resolution</text>
<text x="6" y="101" font-size="9.2">1</text>
<circle cx="18.2" cy="97.6" r="4.8" fill="#4FD0CB" stroke="#338783" stroke-width="0.6"/>
<text x="31.8" y="101" font-size="9.2">9</text>
<circle cx="43.4" cy="97.6" r="4.8" fill="#1247BD" stroke="#0B2E7A" stroke-width="0.6"/>
<text x="6.3" y="115.2" font-size="9.2">2</text>
<circle cx="18.2" cy="111.8" r="4.8" fill="#2BA0D8" stroke="#1B688C" stroke-width="0.6"/>
<text x="27.2" y="115.2" font-size="9.2" textLength="9.8" lengthAdjust="spacingAndGlyphs">10</text>
<circle cx="43.4" cy="111.8" r="4.8" fill="#00BFFF" stroke="#007CA5" stroke-width="0.6"/>
<text x="6.3" y="129.5" font-size="9.2">3</text>
<circle cx="18.2" cy="126.1" r="4.8" fill="#4B96AA" stroke="#30616E" stroke-width="0.6"/>
<text x="27.2" y="129.5" font-size="9.2" textLength="9.8" lengthAdjust="spacingAndGlyphs">11</text>
<circle cx="43.4" cy="126.1" r="4.8" fill="#1291AB" stroke="#0B5E6F" stroke-width="0.6"/>
<text x="6.3" y="143.8" font-size="9.2">4</text>
<circle cx="18.2" cy="140.4" r="4.8" fill="#A9D5E8" stroke="#6D8A96" stroke-width="0.6"/>
<text x="27.2" y="143.8" font-size="9.2" textLength="9.8" lengthAdjust="spacingAndGlyphs">12</text>
<circle cx="43.4" cy="140.4" r="4.8" fill="#A9E1EC" stroke="#6D9299" stroke-width="0.6"/>
<text x="6.3" y="157.3" font-size="9.2">5</text>
<circle cx="18.2" cy="153.9" r="4.8" fill="#0A3AB5" stroke="#062575" stroke-width="0.6"/>
<text x="27.2" y="157.3" font-size="9.2" textLength="9.8" lengthAdjust="spacingAndGlyphs">13</text>
<circle cx="43.4" cy="153.9" r="4.8" fill="#3D5CE6" stroke="#273B95" stroke-width="0.6"/>
<text x="6.3" y="171.4" font-size="9.2">6</text>
<circle cx="18.2" cy="168" r="4.8" fill="#A5CDF2" stroke="#6B859D" stroke-width="0.6"/>
<text x="27.2" y="171.4" font-size="9.2" textLength="9.8" lengthAdjust="spacingAndGlyphs">14</text>
<circle cx="43.4" cy="168" r="4.8" fill="#0B69B4" stroke="#074475" stroke-width="0.6"/>
<text x="6.3" y="185.8" font-size="9.2">7</text>
<circle cx="18.2" cy="182.4" r="4.8" fill="#DEDEDE" stroke="#909090" stroke-width="0.6"/>
<text x="27.2" y="185.8" font-size="9.2" textLength="9.8" lengthAdjust="spacingAndGlyphs">15</text>
<circle cx="43.4" cy="182.4" r="4.8" fill="#7288CA" stroke="#4A5883" stroke-width="0.6"/>
<text x="6.3" y="200.2" font-size="9.2">8</text>
<circle cx="18.2" cy="196.8" r="4.8" fill="#4292D4" stroke="#2A5E89" stroke-width="0.6"/>
<text x="27.2" y="200.2" font-size="9.2" textLength="9.8" lengthAdjust="spacingAndGlyphs">16</text>
<circle cx="43.4" cy="196.8" r="4.8" fill="#3FA8C8" stroke="#286D82" stroke-width="0.6"/>
<text x="13.4" y="216.9" font-size="9.2" textLength="15.6" lengthAdjust="spacingAndGlyphs">5 kb</text>
<circle cx="36.6" cy="213.8" r="4.7" fill="#fff" stroke="#999" stroke-width="0.6"/>
</g>
</svg>
</body></html>
